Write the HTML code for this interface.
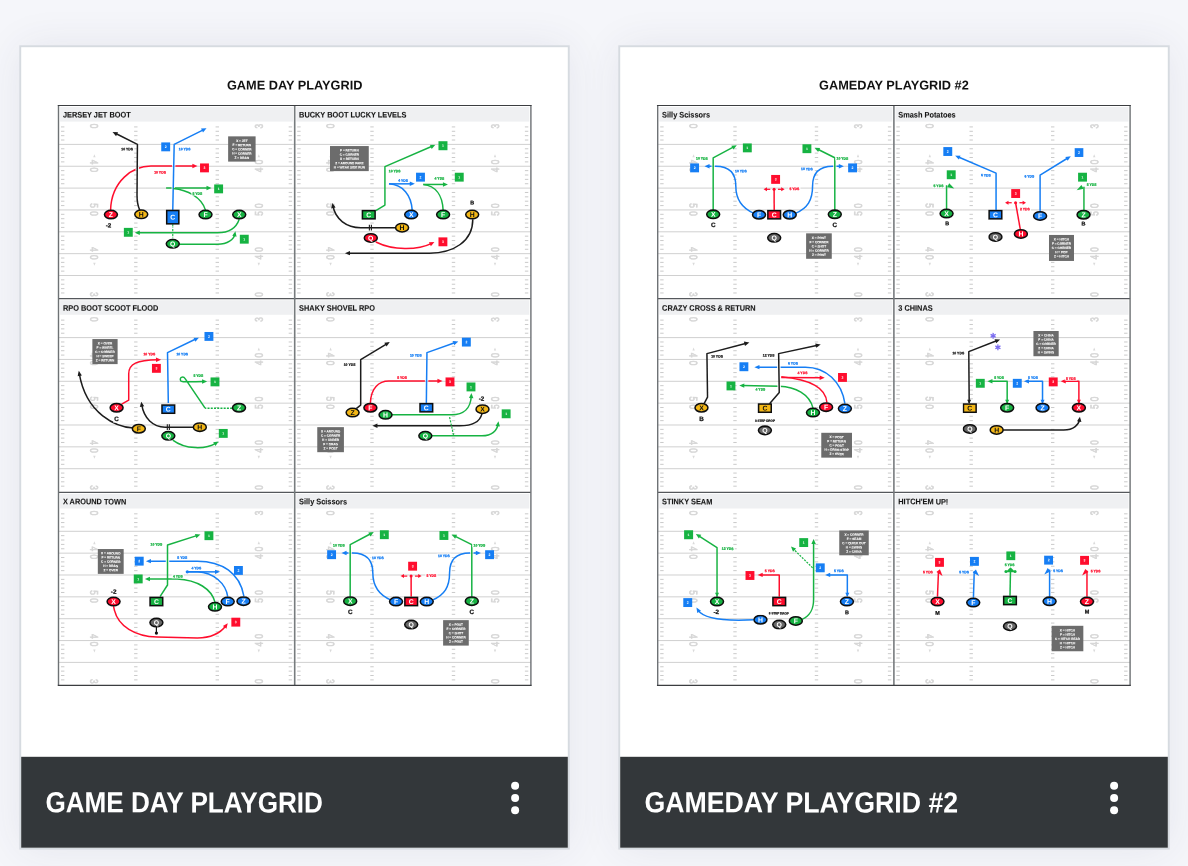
<!DOCTYPE html>
<html lang="en"><head><meta charset="utf-8"><title>Playgrids</title>
<style>
html,body{margin:0;padding:0}
body{width:1188px;height:866px;overflow:hidden;position:relative;background:#f5f6fa;font-family:"Liberation Sans",sans-serif}
.sh{position:absolute;top:47px;width:547px;height:801px;background:#fff;box-shadow:0 0 40px rgba(50,60,100,0.09)}
.s1{left:21px}.s2{left:620px;width:548px}
svg.ov{position:absolute;left:0;top:0}
</style></head><body>
<div class="sh s1"></div><div class="sh s2"></div>
<svg class="ov" width="1188" height="866" viewBox="0 0 1188 866" text-rendering="geometricPrecision">
<filter id="soft" x="0" y="0" width="1188" height="866" filterUnits="userSpaceOnUse"><feGaussianBlur stdDeviation="0.38"/></filter>
<rect x="19.3" y="45.3" width="550.4" height="804.3" fill="#d6dbe0"/><rect x="21.2" y="47.2" width="546.6" height="800.5" fill="#fff"/><rect x="21.2" y="756.8" width="546.6" height="90.9" fill="#33373a"/><text transform="translate(45.4,812.3) rotate(0.04) scale(0.9,1)" font-size="29" font-weight="bold" fill="#fff" font-family="Liberation Sans, sans-serif">GAME DAY PLAYGRID</text><circle cx="515.1" cy="785.8" r="4" fill="#fff"/><circle cx="515.1" cy="798.1" r="4" fill="#fff"/><circle cx="515.1" cy="810.3" r="4" fill="#fff"/><rect x="618.3" y="45.3" width="551.4" height="804.3" fill="#d6dbe0"/><rect x="620.2" y="47.2" width="547.6" height="800.5" fill="#fff"/><rect x="620.2" y="756.8" width="547.6" height="90.9" fill="#33373a"/><text transform="translate(644.4,812.3) rotate(0.04) scale(0.921,1)" font-size="29" font-weight="bold" fill="#fff" font-family="Liberation Sans, sans-serif">GAMEDAY PLAYGRID #2</text><circle cx="1114.1" cy="785.8" r="4" fill="#fff"/><circle cx="1114.1" cy="798.1" r="4" fill="#fff"/><circle cx="1114.1" cy="810.3" r="4" fill="#fff"/>
<text transform="translate(294.7,89.5) rotate(0.04)" font-size="12.75" font-weight="bold" fill="#111" text-anchor="middle" font-family="Liberation Sans, sans-serif">GAME DAY PLAYGRID</text><rect x="58.5" y="105.5" width="472.4" height="579.81" fill="#fff"/><rect x="60.1" y="107" width="233" height="14.6" fill="#eff0f2"/><text transform="translate(62.9,117.45) rotate(0.04) scale(0.915,1)" font-size="8.05" font-weight="bold" fill="#161616" stroke="#161616" stroke-width="0.1" font-family="Liberation Sans, sans-serif">JERSEY JET BOOT</text><path d="M58.5,144.4H294.7M58.5,166.25H294.7M58.5,188.1H294.7M58.5,209.95H294.7M58.5,231.8H294.7M58.5,253.65H294.7M58.5,275.5H294.7" stroke="#bcbcbc" stroke-width="0.7" fill="none"/><path d="M61,126.92h3.4M134.1,126.92h3.4M215.6,126.92h3.4M288.7,126.92h3.4M61,131.29h3.4M134.1,131.29h3.4M215.6,131.29h3.4M288.7,131.29h3.4M61,135.66h3.4M134.1,135.66h3.4M215.6,135.66h3.4M288.7,135.66h3.4M61,140.03h3.4M134.1,140.03h3.4M215.6,140.03h3.4M288.7,140.03h3.4M61,148.77h3.4M134.1,148.77h3.4M215.6,148.77h3.4M288.7,148.77h3.4M61,153.14h3.4M134.1,153.14h3.4M215.6,153.14h3.4M288.7,153.14h3.4M61,157.51h3.4M134.1,157.51h3.4M215.6,157.51h3.4M288.7,157.51h3.4M61,161.88h3.4M134.1,161.88h3.4M215.6,161.88h3.4M288.7,161.88h3.4M61,170.62h3.4M134.1,170.62h3.4M215.6,170.62h3.4M288.7,170.62h3.4M61,174.99h3.4M134.1,174.99h3.4M215.6,174.99h3.4M288.7,174.99h3.4M61,179.36h3.4M134.1,179.36h3.4M215.6,179.36h3.4M288.7,179.36h3.4M61,183.73h3.4M134.1,183.73h3.4M215.6,183.73h3.4M288.7,183.73h3.4M61,192.47h3.4M134.1,192.47h3.4M215.6,192.47h3.4M288.7,192.47h3.4M61,196.84h3.4M134.1,196.84h3.4M215.6,196.84h3.4M288.7,196.84h3.4M61,201.21h3.4M134.1,201.21h3.4M215.6,201.21h3.4M288.7,201.21h3.4M61,205.58h3.4M134.1,205.58h3.4M215.6,205.58h3.4M288.7,205.58h3.4M61,214.32h3.4M134.1,214.32h3.4M215.6,214.32h3.4M288.7,214.32h3.4M61,218.69h3.4M134.1,218.69h3.4M215.6,218.69h3.4M288.7,218.69h3.4M61,223.06h3.4M134.1,223.06h3.4M215.6,223.06h3.4M288.7,223.06h3.4M61,227.43h3.4M134.1,227.43h3.4M215.6,227.43h3.4M288.7,227.43h3.4M61,236.17h3.4M134.1,236.17h3.4M215.6,236.17h3.4M288.7,236.17h3.4M61,240.54h3.4M134.1,240.54h3.4M215.6,240.54h3.4M288.7,240.54h3.4M61,244.91h3.4M134.1,244.91h3.4M215.6,244.91h3.4M288.7,244.91h3.4M61,249.28h3.4M134.1,249.28h3.4M215.6,249.28h3.4M288.7,249.28h3.4M61,258.02h3.4M134.1,258.02h3.4M215.6,258.02h3.4M288.7,258.02h3.4M61,262.39h3.4M134.1,262.39h3.4M215.6,262.39h3.4M288.7,262.39h3.4M61,266.76h3.4M134.1,266.76h3.4M215.6,266.76h3.4M288.7,266.76h3.4M61,271.13h3.4M134.1,271.13h3.4M215.6,271.13h3.4M288.7,271.13h3.4M61,279.87h3.4M134.1,279.87h3.4M215.6,279.87h3.4M288.7,279.87h3.4M61,284.24h3.4M134.1,284.24h3.4M215.6,284.24h3.4M288.7,284.24h3.4M61,288.61h3.4M134.1,288.61h3.4M215.6,288.61h3.4M288.7,288.61h3.4M61,292.98h3.4M134.1,292.98h3.4M215.6,292.98h3.4M288.7,292.98h3.4" stroke="#bdbdbd" stroke-width="0.8" fill="none"/><text transform="translate(94.4,126.15) rotate(90.04) scale(0.74,1)" font-size="11.2" fill="#d7d7d7" stroke="#d7d7d7" stroke-width="0.75" text-anchor="middle" y="4.05" font-family="Liberation Sans, sans-serif">0</text><text transform="translate(258.8,126.15) rotate(-89.96) scale(0.74,1)" font-size="11.2" fill="#d7d7d7" stroke="#d7d7d7" stroke-width="0.75" text-anchor="middle" y="4.05" font-family="Liberation Sans, sans-serif">3</text><text transform="translate(94.4,161.95) rotate(90.04) scale(0.74,1)" font-size="11.2" fill="#d7d7d7" stroke="#d7d7d7" stroke-width="0.75" text-anchor="middle" y="4.05" font-family="Liberation Sans, sans-serif">4</text><text transform="translate(94.4,169.85) rotate(90.04) scale(0.74,1)" font-size="11.2" fill="#d7d7d7" stroke="#d7d7d7" stroke-width="0.75" text-anchor="middle" y="4.05" font-family="Liberation Sans, sans-serif">0</text><text transform="translate(258.8,161.95) rotate(-89.96) scale(0.74,1)" font-size="11.2" fill="#d7d7d7" stroke="#d7d7d7" stroke-width="0.75" text-anchor="middle" y="4.05" font-family="Liberation Sans, sans-serif">0</text><text transform="translate(258.8,169.85) rotate(-89.96) scale(0.74,1)" font-size="11.2" fill="#d7d7d7" stroke="#d7d7d7" stroke-width="0.75" text-anchor="middle" y="4.05" font-family="Liberation Sans, sans-serif">4</text><path d="M94.4,154.25 l1.2,3 h-2.4z" fill="#dadada"/><path d="M258.8,154.25 l1.2,3 h-2.4z" fill="#dadada"/><text transform="translate(94.4,205.65) rotate(90.04) scale(0.74,1)" font-size="11.2" fill="#d7d7d7" stroke="#d7d7d7" stroke-width="0.75" text-anchor="middle" y="4.05" font-family="Liberation Sans, sans-serif">5</text><text transform="translate(94.4,213.55) rotate(90.04) scale(0.74,1)" font-size="11.2" fill="#d7d7d7" stroke="#d7d7d7" stroke-width="0.75" text-anchor="middle" y="4.05" font-family="Liberation Sans, sans-serif">0</text><text transform="translate(258.8,205.65) rotate(-89.96) scale(0.74,1)" font-size="11.2" fill="#d7d7d7" stroke="#d7d7d7" stroke-width="0.75" text-anchor="middle" y="4.05" font-family="Liberation Sans, sans-serif">0</text><text transform="translate(258.8,213.55) rotate(-89.96) scale(0.74,1)" font-size="11.2" fill="#d7d7d7" stroke="#d7d7d7" stroke-width="0.75" text-anchor="middle" y="4.05" font-family="Liberation Sans, sans-serif">5</text><text transform="translate(94.4,249.35) rotate(90.04) scale(0.74,1)" font-size="11.2" fill="#d7d7d7" stroke="#d7d7d7" stroke-width="0.75" text-anchor="middle" y="4.05" font-family="Liberation Sans, sans-serif">4</text><text transform="translate(94.4,257.25) rotate(90.04) scale(0.74,1)" font-size="11.2" fill="#d7d7d7" stroke="#d7d7d7" stroke-width="0.75" text-anchor="middle" y="4.05" font-family="Liberation Sans, sans-serif">0</text><text transform="translate(258.8,249.35) rotate(-89.96) scale(0.74,1)" font-size="11.2" fill="#d7d7d7" stroke="#d7d7d7" stroke-width="0.75" text-anchor="middle" y="4.05" font-family="Liberation Sans, sans-serif">0</text><text transform="translate(258.8,257.25) rotate(-89.96) scale(0.74,1)" font-size="11.2" fill="#d7d7d7" stroke="#d7d7d7" stroke-width="0.75" text-anchor="middle" y="4.05" font-family="Liberation Sans, sans-serif">4</text><path d="M94.4,265.65 l1.2,-3 h-2.4z" fill="#dadada"/><path d="M258.8,265.65 l1.2,-3 h-2.4z" fill="#dadada"/><text transform="translate(94.4,294.35) rotate(90.04) scale(0.74,1)" font-size="11.2" fill="#d7d7d7" stroke="#d7d7d7" stroke-width="0.75" text-anchor="middle" y="4.05" font-family="Liberation Sans, sans-serif">3</text><text transform="translate(258.8,294.35) rotate(-89.96) scale(0.74,1)" font-size="11.2" fill="#d7d7d7" stroke="#d7d7d7" stroke-width="0.75" text-anchor="middle" y="4.05" font-family="Liberation Sans, sans-serif">0</text><rect x="296.3" y="107" width="233" height="14.6" fill="#eff0f2"/><text transform="translate(299.1,117.45) rotate(0.04) scale(0.915,1)" font-size="8.05" font-weight="bold" fill="#161616" stroke="#161616" stroke-width="0.1" font-family="Liberation Sans, sans-serif">BUCKY BOOT LUCKY LEVELS</text><path d="M294.7,144.4H530.9M294.7,166.25H530.9M294.7,188.1H530.9M294.7,209.95H530.9M294.7,231.8H530.9M294.7,253.65H530.9M294.7,275.5H530.9" stroke="#bcbcbc" stroke-width="0.7" fill="none"/><path d="M297.2,126.92h3.4M370.3,126.92h3.4M451.8,126.92h3.4M524.9,126.92h3.4M297.2,131.29h3.4M370.3,131.29h3.4M451.8,131.29h3.4M524.9,131.29h3.4M297.2,135.66h3.4M370.3,135.66h3.4M451.8,135.66h3.4M524.9,135.66h3.4M297.2,140.03h3.4M370.3,140.03h3.4M451.8,140.03h3.4M524.9,140.03h3.4M297.2,148.77h3.4M370.3,148.77h3.4M451.8,148.77h3.4M524.9,148.77h3.4M297.2,153.14h3.4M370.3,153.14h3.4M451.8,153.14h3.4M524.9,153.14h3.4M297.2,157.51h3.4M370.3,157.51h3.4M451.8,157.51h3.4M524.9,157.51h3.4M297.2,161.88h3.4M370.3,161.88h3.4M451.8,161.88h3.4M524.9,161.88h3.4M297.2,170.62h3.4M370.3,170.62h3.4M451.8,170.62h3.4M524.9,170.62h3.4M297.2,174.99h3.4M370.3,174.99h3.4M451.8,174.99h3.4M524.9,174.99h3.4M297.2,179.36h3.4M370.3,179.36h3.4M451.8,179.36h3.4M524.9,179.36h3.4M297.2,183.73h3.4M370.3,183.73h3.4M451.8,183.73h3.4M524.9,183.73h3.4M297.2,192.47h3.4M370.3,192.47h3.4M451.8,192.47h3.4M524.9,192.47h3.4M297.2,196.84h3.4M370.3,196.84h3.4M451.8,196.84h3.4M524.9,196.84h3.4M297.2,201.21h3.4M370.3,201.21h3.4M451.8,201.21h3.4M524.9,201.21h3.4M297.2,205.58h3.4M370.3,205.58h3.4M451.8,205.58h3.4M524.9,205.58h3.4M297.2,214.32h3.4M370.3,214.32h3.4M451.8,214.32h3.4M524.9,214.32h3.4M297.2,218.69h3.4M370.3,218.69h3.4M451.8,218.69h3.4M524.9,218.69h3.4M297.2,223.06h3.4M370.3,223.06h3.4M451.8,223.06h3.4M524.9,223.06h3.4M297.2,227.43h3.4M370.3,227.43h3.4M451.8,227.43h3.4M524.9,227.43h3.4M297.2,236.17h3.4M370.3,236.17h3.4M451.8,236.17h3.4M524.9,236.17h3.4M297.2,240.54h3.4M370.3,240.54h3.4M451.8,240.54h3.4M524.9,240.54h3.4M297.2,244.91h3.4M370.3,244.91h3.4M451.8,244.91h3.4M524.9,244.91h3.4M297.2,249.28h3.4M370.3,249.28h3.4M451.8,249.28h3.4M524.9,249.28h3.4M297.2,258.02h3.4M370.3,258.02h3.4M451.8,258.02h3.4M524.9,258.02h3.4M297.2,262.39h3.4M370.3,262.39h3.4M451.8,262.39h3.4M524.9,262.39h3.4M297.2,266.76h3.4M370.3,266.76h3.4M451.8,266.76h3.4M524.9,266.76h3.4M297.2,271.13h3.4M370.3,271.13h3.4M451.8,271.13h3.4M524.9,271.13h3.4M297.2,279.87h3.4M370.3,279.87h3.4M451.8,279.87h3.4M524.9,279.87h3.4M297.2,284.24h3.4M370.3,284.24h3.4M451.8,284.24h3.4M524.9,284.24h3.4M297.2,288.61h3.4M370.3,288.61h3.4M451.8,288.61h3.4M524.9,288.61h3.4M297.2,292.98h3.4M370.3,292.98h3.4M451.8,292.98h3.4M524.9,292.98h3.4" stroke="#bdbdbd" stroke-width="0.8" fill="none"/><text transform="translate(330.6,126.15) rotate(90.04) scale(0.74,1)" font-size="11.2" fill="#d7d7d7" stroke="#d7d7d7" stroke-width="0.75" text-anchor="middle" y="4.05" font-family="Liberation Sans, sans-serif">0</text><text transform="translate(495,126.15) rotate(-89.96) scale(0.74,1)" font-size="11.2" fill="#d7d7d7" stroke="#d7d7d7" stroke-width="0.75" text-anchor="middle" y="4.05" font-family="Liberation Sans, sans-serif">3</text><text transform="translate(330.6,161.95) rotate(90.04) scale(0.74,1)" font-size="11.2" fill="#d7d7d7" stroke="#d7d7d7" stroke-width="0.75" text-anchor="middle" y="4.05" font-family="Liberation Sans, sans-serif">4</text><text transform="translate(330.6,169.85) rotate(90.04) scale(0.74,1)" font-size="11.2" fill="#d7d7d7" stroke="#d7d7d7" stroke-width="0.75" text-anchor="middle" y="4.05" font-family="Liberation Sans, sans-serif">0</text><text transform="translate(495,161.95) rotate(-89.96) scale(0.74,1)" font-size="11.2" fill="#d7d7d7" stroke="#d7d7d7" stroke-width="0.75" text-anchor="middle" y="4.05" font-family="Liberation Sans, sans-serif">0</text><text transform="translate(495,169.85) rotate(-89.96) scale(0.74,1)" font-size="11.2" fill="#d7d7d7" stroke="#d7d7d7" stroke-width="0.75" text-anchor="middle" y="4.05" font-family="Liberation Sans, sans-serif">4</text><path d="M330.6,154.25 l1.2,3 h-2.4z" fill="#dadada"/><path d="M495,154.25 l1.2,3 h-2.4z" fill="#dadada"/><text transform="translate(330.6,205.65) rotate(90.04) scale(0.74,1)" font-size="11.2" fill="#d7d7d7" stroke="#d7d7d7" stroke-width="0.75" text-anchor="middle" y="4.05" font-family="Liberation Sans, sans-serif">5</text><text transform="translate(330.6,213.55) rotate(90.04) scale(0.74,1)" font-size="11.2" fill="#d7d7d7" stroke="#d7d7d7" stroke-width="0.75" text-anchor="middle" y="4.05" font-family="Liberation Sans, sans-serif">0</text><text transform="translate(495,205.65) rotate(-89.96) scale(0.74,1)" font-size="11.2" fill="#d7d7d7" stroke="#d7d7d7" stroke-width="0.75" text-anchor="middle" y="4.05" font-family="Liberation Sans, sans-serif">0</text><text transform="translate(495,213.55) rotate(-89.96) scale(0.74,1)" font-size="11.2" fill="#d7d7d7" stroke="#d7d7d7" stroke-width="0.75" text-anchor="middle" y="4.05" font-family="Liberation Sans, sans-serif">5</text><text transform="translate(330.6,249.35) rotate(90.04) scale(0.74,1)" font-size="11.2" fill="#d7d7d7" stroke="#d7d7d7" stroke-width="0.75" text-anchor="middle" y="4.05" font-family="Liberation Sans, sans-serif">4</text><text transform="translate(330.6,257.25) rotate(90.04) scale(0.74,1)" font-size="11.2" fill="#d7d7d7" stroke="#d7d7d7" stroke-width="0.75" text-anchor="middle" y="4.05" font-family="Liberation Sans, sans-serif">0</text><text transform="translate(495,249.35) rotate(-89.96) scale(0.74,1)" font-size="11.2" fill="#d7d7d7" stroke="#d7d7d7" stroke-width="0.75" text-anchor="middle" y="4.05" font-family="Liberation Sans, sans-serif">0</text><text transform="translate(495,257.25) rotate(-89.96) scale(0.74,1)" font-size="11.2" fill="#d7d7d7" stroke="#d7d7d7" stroke-width="0.75" text-anchor="middle" y="4.05" font-family="Liberation Sans, sans-serif">4</text><path d="M330.6,265.65 l1.2,-3 h-2.4z" fill="#dadada"/><path d="M495,265.65 l1.2,-3 h-2.4z" fill="#dadada"/><text transform="translate(330.6,294.35) rotate(90.04) scale(0.74,1)" font-size="11.2" fill="#d7d7d7" stroke="#d7d7d7" stroke-width="0.75" text-anchor="middle" y="4.05" font-family="Liberation Sans, sans-serif">3</text><text transform="translate(495,294.35) rotate(-89.96) scale(0.74,1)" font-size="11.2" fill="#d7d7d7" stroke="#d7d7d7" stroke-width="0.75" text-anchor="middle" y="4.05" font-family="Liberation Sans, sans-serif">0</text><rect x="60.1" y="300.2" width="233" height="14.6" fill="#eff0f2"/><text transform="translate(62.9,310.65) rotate(0.04) scale(0.915,1)" font-size="8.05" font-weight="bold" fill="#161616" stroke="#161616" stroke-width="0.1" font-family="Liberation Sans, sans-serif">RPO BOOT SCOOT FLOOD</text><path d="M58.5,337.6H294.7M58.5,359.45H294.7M58.5,381.3H294.7M58.5,403.15H294.7M58.5,425H294.7M58.5,446.85H294.7M58.5,468.7H294.7" stroke="#bcbcbc" stroke-width="0.7" fill="none"/><path d="M61,320.12h3.4M134.1,320.12h3.4M215.6,320.12h3.4M288.7,320.12h3.4M61,324.49h3.4M134.1,324.49h3.4M215.6,324.49h3.4M288.7,324.49h3.4M61,328.86h3.4M134.1,328.86h3.4M215.6,328.86h3.4M288.7,328.86h3.4M61,333.23h3.4M134.1,333.23h3.4M215.6,333.23h3.4M288.7,333.23h3.4M61,341.97h3.4M134.1,341.97h3.4M215.6,341.97h3.4M288.7,341.97h3.4M61,346.34h3.4M134.1,346.34h3.4M215.6,346.34h3.4M288.7,346.34h3.4M61,350.71h3.4M134.1,350.71h3.4M215.6,350.71h3.4M288.7,350.71h3.4M61,355.08h3.4M134.1,355.08h3.4M215.6,355.08h3.4M288.7,355.08h3.4M61,363.82h3.4M134.1,363.82h3.4M215.6,363.82h3.4M288.7,363.82h3.4M61,368.19h3.4M134.1,368.19h3.4M215.6,368.19h3.4M288.7,368.19h3.4M61,372.56h3.4M134.1,372.56h3.4M215.6,372.56h3.4M288.7,372.56h3.4M61,376.93h3.4M134.1,376.93h3.4M215.6,376.93h3.4M288.7,376.93h3.4M61,385.67h3.4M134.1,385.67h3.4M215.6,385.67h3.4M288.7,385.67h3.4M61,390.04h3.4M134.1,390.04h3.4M215.6,390.04h3.4M288.7,390.04h3.4M61,394.41h3.4M134.1,394.41h3.4M215.6,394.41h3.4M288.7,394.41h3.4M61,398.78h3.4M134.1,398.78h3.4M215.6,398.78h3.4M288.7,398.78h3.4M61,407.52h3.4M134.1,407.52h3.4M215.6,407.52h3.4M288.7,407.52h3.4M61,411.89h3.4M134.1,411.89h3.4M215.6,411.89h3.4M288.7,411.89h3.4M61,416.26h3.4M134.1,416.26h3.4M215.6,416.26h3.4M288.7,416.26h3.4M61,420.63h3.4M134.1,420.63h3.4M215.6,420.63h3.4M288.7,420.63h3.4M61,429.37h3.4M134.1,429.37h3.4M215.6,429.37h3.4M288.7,429.37h3.4M61,433.74h3.4M134.1,433.74h3.4M215.6,433.74h3.4M288.7,433.74h3.4M61,438.11h3.4M134.1,438.11h3.4M215.6,438.11h3.4M288.7,438.11h3.4M61,442.48h3.4M134.1,442.48h3.4M215.6,442.48h3.4M288.7,442.48h3.4M61,451.22h3.4M134.1,451.22h3.4M215.6,451.22h3.4M288.7,451.22h3.4M61,455.59h3.4M134.1,455.59h3.4M215.6,455.59h3.4M288.7,455.59h3.4M61,459.96h3.4M134.1,459.96h3.4M215.6,459.96h3.4M288.7,459.96h3.4M61,464.33h3.4M134.1,464.33h3.4M215.6,464.33h3.4M288.7,464.33h3.4M61,473.07h3.4M134.1,473.07h3.4M215.6,473.07h3.4M288.7,473.07h3.4M61,477.44h3.4M134.1,477.44h3.4M215.6,477.44h3.4M288.7,477.44h3.4M61,481.81h3.4M134.1,481.81h3.4M215.6,481.81h3.4M288.7,481.81h3.4M61,486.18h3.4M134.1,486.18h3.4M215.6,486.18h3.4M288.7,486.18h3.4" stroke="#bdbdbd" stroke-width="0.8" fill="none"/><text transform="translate(94.4,319.35) rotate(90.04) scale(0.74,1)" font-size="11.2" fill="#d7d7d7" stroke="#d7d7d7" stroke-width="0.75" text-anchor="middle" y="4.05" font-family="Liberation Sans, sans-serif">0</text><text transform="translate(258.8,319.35) rotate(-89.96) scale(0.74,1)" font-size="11.2" fill="#d7d7d7" stroke="#d7d7d7" stroke-width="0.75" text-anchor="middle" y="4.05" font-family="Liberation Sans, sans-serif">3</text><text transform="translate(94.4,355.15) rotate(90.04) scale(0.74,1)" font-size="11.2" fill="#d7d7d7" stroke="#d7d7d7" stroke-width="0.75" text-anchor="middle" y="4.05" font-family="Liberation Sans, sans-serif">4</text><text transform="translate(94.4,363.05) rotate(90.04) scale(0.74,1)" font-size="11.2" fill="#d7d7d7" stroke="#d7d7d7" stroke-width="0.75" text-anchor="middle" y="4.05" font-family="Liberation Sans, sans-serif">0</text><text transform="translate(258.8,355.15) rotate(-89.96) scale(0.74,1)" font-size="11.2" fill="#d7d7d7" stroke="#d7d7d7" stroke-width="0.75" text-anchor="middle" y="4.05" font-family="Liberation Sans, sans-serif">0</text><text transform="translate(258.8,363.05) rotate(-89.96) scale(0.74,1)" font-size="11.2" fill="#d7d7d7" stroke="#d7d7d7" stroke-width="0.75" text-anchor="middle" y="4.05" font-family="Liberation Sans, sans-serif">4</text><path d="M94.4,347.45 l1.2,3 h-2.4z" fill="#dadada"/><path d="M258.8,347.45 l1.2,3 h-2.4z" fill="#dadada"/><text transform="translate(94.4,398.85) rotate(90.04) scale(0.74,1)" font-size="11.2" fill="#d7d7d7" stroke="#d7d7d7" stroke-width="0.75" text-anchor="middle" y="4.05" font-family="Liberation Sans, sans-serif">5</text><text transform="translate(94.4,406.75) rotate(90.04) scale(0.74,1)" font-size="11.2" fill="#d7d7d7" stroke="#d7d7d7" stroke-width="0.75" text-anchor="middle" y="4.05" font-family="Liberation Sans, sans-serif">0</text><text transform="translate(258.8,398.85) rotate(-89.96) scale(0.74,1)" font-size="11.2" fill="#d7d7d7" stroke="#d7d7d7" stroke-width="0.75" text-anchor="middle" y="4.05" font-family="Liberation Sans, sans-serif">0</text><text transform="translate(258.8,406.75) rotate(-89.96) scale(0.74,1)" font-size="11.2" fill="#d7d7d7" stroke="#d7d7d7" stroke-width="0.75" text-anchor="middle" y="4.05" font-family="Liberation Sans, sans-serif">5</text><text transform="translate(94.4,442.55) rotate(90.04) scale(0.74,1)" font-size="11.2" fill="#d7d7d7" stroke="#d7d7d7" stroke-width="0.75" text-anchor="middle" y="4.05" font-family="Liberation Sans, sans-serif">4</text><text transform="translate(94.4,450.45) rotate(90.04) scale(0.74,1)" font-size="11.2" fill="#d7d7d7" stroke="#d7d7d7" stroke-width="0.75" text-anchor="middle" y="4.05" font-family="Liberation Sans, sans-serif">0</text><text transform="translate(258.8,442.55) rotate(-89.96) scale(0.74,1)" font-size="11.2" fill="#d7d7d7" stroke="#d7d7d7" stroke-width="0.75" text-anchor="middle" y="4.05" font-family="Liberation Sans, sans-serif">0</text><text transform="translate(258.8,450.45) rotate(-89.96) scale(0.74,1)" font-size="11.2" fill="#d7d7d7" stroke="#d7d7d7" stroke-width="0.75" text-anchor="middle" y="4.05" font-family="Liberation Sans, sans-serif">4</text><path d="M94.4,458.85 l1.2,-3 h-2.4z" fill="#dadada"/><path d="M258.8,458.85 l1.2,-3 h-2.4z" fill="#dadada"/><text transform="translate(94.4,487.55) rotate(90.04) scale(0.74,1)" font-size="11.2" fill="#d7d7d7" stroke="#d7d7d7" stroke-width="0.75" text-anchor="middle" y="4.05" font-family="Liberation Sans, sans-serif">3</text><text transform="translate(258.8,487.55) rotate(-89.96) scale(0.74,1)" font-size="11.2" fill="#d7d7d7" stroke="#d7d7d7" stroke-width="0.75" text-anchor="middle" y="4.05" font-family="Liberation Sans, sans-serif">0</text><rect x="296.3" y="300.2" width="233" height="14.6" fill="#eff0f2"/><text transform="translate(299.1,310.65) rotate(0.04) scale(0.915,1)" font-size="8.05" font-weight="bold" fill="#161616" stroke="#161616" stroke-width="0.1" font-family="Liberation Sans, sans-serif">SHAKY SHOVEL RPO</text><path d="M294.7,337.6H530.9M294.7,359.45H530.9M294.7,381.3H530.9M294.7,403.15H530.9M294.7,425H530.9M294.7,446.85H530.9M294.7,468.7H530.9" stroke="#bcbcbc" stroke-width="0.7" fill="none"/><path d="M297.2,320.12h3.4M370.3,320.12h3.4M451.8,320.12h3.4M524.9,320.12h3.4M297.2,324.49h3.4M370.3,324.49h3.4M451.8,324.49h3.4M524.9,324.49h3.4M297.2,328.86h3.4M370.3,328.86h3.4M451.8,328.86h3.4M524.9,328.86h3.4M297.2,333.23h3.4M370.3,333.23h3.4M451.8,333.23h3.4M524.9,333.23h3.4M297.2,341.97h3.4M370.3,341.97h3.4M451.8,341.97h3.4M524.9,341.97h3.4M297.2,346.34h3.4M370.3,346.34h3.4M451.8,346.34h3.4M524.9,346.34h3.4M297.2,350.71h3.4M370.3,350.71h3.4M451.8,350.71h3.4M524.9,350.71h3.4M297.2,355.08h3.4M370.3,355.08h3.4M451.8,355.08h3.4M524.9,355.08h3.4M297.2,363.82h3.4M370.3,363.82h3.4M451.8,363.82h3.4M524.9,363.82h3.4M297.2,368.19h3.4M370.3,368.19h3.4M451.8,368.19h3.4M524.9,368.19h3.4M297.2,372.56h3.4M370.3,372.56h3.4M451.8,372.56h3.4M524.9,372.56h3.4M297.2,376.93h3.4M370.3,376.93h3.4M451.8,376.93h3.4M524.9,376.93h3.4M297.2,385.67h3.4M370.3,385.67h3.4M451.8,385.67h3.4M524.9,385.67h3.4M297.2,390.04h3.4M370.3,390.04h3.4M451.8,390.04h3.4M524.9,390.04h3.4M297.2,394.41h3.4M370.3,394.41h3.4M451.8,394.41h3.4M524.9,394.41h3.4M297.2,398.78h3.4M370.3,398.78h3.4M451.8,398.78h3.4M524.9,398.78h3.4M297.2,407.52h3.4M370.3,407.52h3.4M451.8,407.52h3.4M524.9,407.52h3.4M297.2,411.89h3.4M370.3,411.89h3.4M451.8,411.89h3.4M524.9,411.89h3.4M297.2,416.26h3.4M370.3,416.26h3.4M451.8,416.26h3.4M524.9,416.26h3.4M297.2,420.63h3.4M370.3,420.63h3.4M451.8,420.63h3.4M524.9,420.63h3.4M297.2,429.37h3.4M370.3,429.37h3.4M451.8,429.37h3.4M524.9,429.37h3.4M297.2,433.74h3.4M370.3,433.74h3.4M451.8,433.74h3.4M524.9,433.74h3.4M297.2,438.11h3.4M370.3,438.11h3.4M451.8,438.11h3.4M524.9,438.11h3.4M297.2,442.48h3.4M370.3,442.48h3.4M451.8,442.48h3.4M524.9,442.48h3.4M297.2,451.22h3.4M370.3,451.22h3.4M451.8,451.22h3.4M524.9,451.22h3.4M297.2,455.59h3.4M370.3,455.59h3.4M451.8,455.59h3.4M524.9,455.59h3.4M297.2,459.96h3.4M370.3,459.96h3.4M451.8,459.96h3.4M524.9,459.96h3.4M297.2,464.33h3.4M370.3,464.33h3.4M451.8,464.33h3.4M524.9,464.33h3.4M297.2,473.07h3.4M370.3,473.07h3.4M451.8,473.07h3.4M524.9,473.07h3.4M297.2,477.44h3.4M370.3,477.44h3.4M451.8,477.44h3.4M524.9,477.44h3.4M297.2,481.81h3.4M370.3,481.81h3.4M451.8,481.81h3.4M524.9,481.81h3.4M297.2,486.18h3.4M370.3,486.18h3.4M451.8,486.18h3.4M524.9,486.18h3.4" stroke="#bdbdbd" stroke-width="0.8" fill="none"/><text transform="translate(330.6,319.35) rotate(90.04) scale(0.74,1)" font-size="11.2" fill="#d7d7d7" stroke="#d7d7d7" stroke-width="0.75" text-anchor="middle" y="4.05" font-family="Liberation Sans, sans-serif">0</text><text transform="translate(495,319.35) rotate(-89.96) scale(0.74,1)" font-size="11.2" fill="#d7d7d7" stroke="#d7d7d7" stroke-width="0.75" text-anchor="middle" y="4.05" font-family="Liberation Sans, sans-serif">3</text><text transform="translate(330.6,355.15) rotate(90.04) scale(0.74,1)" font-size="11.2" fill="#d7d7d7" stroke="#d7d7d7" stroke-width="0.75" text-anchor="middle" y="4.05" font-family="Liberation Sans, sans-serif">4</text><text transform="translate(330.6,363.05) rotate(90.04) scale(0.74,1)" font-size="11.2" fill="#d7d7d7" stroke="#d7d7d7" stroke-width="0.75" text-anchor="middle" y="4.05" font-family="Liberation Sans, sans-serif">0</text><text transform="translate(495,355.15) rotate(-89.96) scale(0.74,1)" font-size="11.2" fill="#d7d7d7" stroke="#d7d7d7" stroke-width="0.75" text-anchor="middle" y="4.05" font-family="Liberation Sans, sans-serif">0</text><text transform="translate(495,363.05) rotate(-89.96) scale(0.74,1)" font-size="11.2" fill="#d7d7d7" stroke="#d7d7d7" stroke-width="0.75" text-anchor="middle" y="4.05" font-family="Liberation Sans, sans-serif">4</text><path d="M330.6,347.45 l1.2,3 h-2.4z" fill="#dadada"/><path d="M495,347.45 l1.2,3 h-2.4z" fill="#dadada"/><text transform="translate(330.6,398.85) rotate(90.04) scale(0.74,1)" font-size="11.2" fill="#d7d7d7" stroke="#d7d7d7" stroke-width="0.75" text-anchor="middle" y="4.05" font-family="Liberation Sans, sans-serif">5</text><text transform="translate(330.6,406.75) rotate(90.04) scale(0.74,1)" font-size="11.2" fill="#d7d7d7" stroke="#d7d7d7" stroke-width="0.75" text-anchor="middle" y="4.05" font-family="Liberation Sans, sans-serif">0</text><text transform="translate(495,398.85) rotate(-89.96) scale(0.74,1)" font-size="11.2" fill="#d7d7d7" stroke="#d7d7d7" stroke-width="0.75" text-anchor="middle" y="4.05" font-family="Liberation Sans, sans-serif">0</text><text transform="translate(495,406.75) rotate(-89.96) scale(0.74,1)" font-size="11.2" fill="#d7d7d7" stroke="#d7d7d7" stroke-width="0.75" text-anchor="middle" y="4.05" font-family="Liberation Sans, sans-serif">5</text><text transform="translate(330.6,442.55) rotate(90.04) scale(0.74,1)" font-size="11.2" fill="#d7d7d7" stroke="#d7d7d7" stroke-width="0.75" text-anchor="middle" y="4.05" font-family="Liberation Sans, sans-serif">4</text><text transform="translate(330.6,450.45) rotate(90.04) scale(0.74,1)" font-size="11.2" fill="#d7d7d7" stroke="#d7d7d7" stroke-width="0.75" text-anchor="middle" y="4.05" font-family="Liberation Sans, sans-serif">0</text><text transform="translate(495,442.55) rotate(-89.96) scale(0.74,1)" font-size="11.2" fill="#d7d7d7" stroke="#d7d7d7" stroke-width="0.75" text-anchor="middle" y="4.05" font-family="Liberation Sans, sans-serif">0</text><text transform="translate(495,450.45) rotate(-89.96) scale(0.74,1)" font-size="11.2" fill="#d7d7d7" stroke="#d7d7d7" stroke-width="0.75" text-anchor="middle" y="4.05" font-family="Liberation Sans, sans-serif">4</text><path d="M330.6,458.85 l1.2,-3 h-2.4z" fill="#dadada"/><path d="M495,458.85 l1.2,-3 h-2.4z" fill="#dadada"/><text transform="translate(330.6,487.55) rotate(90.04) scale(0.74,1)" font-size="11.2" fill="#d7d7d7" stroke="#d7d7d7" stroke-width="0.75" text-anchor="middle" y="4.05" font-family="Liberation Sans, sans-serif">3</text><text transform="translate(495,487.55) rotate(-89.96) scale(0.74,1)" font-size="11.2" fill="#d7d7d7" stroke="#d7d7d7" stroke-width="0.75" text-anchor="middle" y="4.05" font-family="Liberation Sans, sans-serif">0</text><rect x="60.1" y="493.9" width="233" height="14.6" fill="#eff0f2"/><text transform="translate(62.9,504.35) rotate(0.04) scale(0.915,1)" font-size="8.05" font-weight="bold" fill="#161616" stroke="#161616" stroke-width="0.1" font-family="Liberation Sans, sans-serif">X AROUND TOWN</text><path d="M58.5,531.3H294.7M58.5,553.15H294.7M58.5,575H294.7M58.5,596.85H294.7M58.5,618.7H294.7M58.5,640.55H294.7M58.5,662.4H294.7" stroke="#bcbcbc" stroke-width="0.7" fill="none"/><path d="M61,513.82h3.4M134.1,513.82h3.4M215.6,513.82h3.4M288.7,513.82h3.4M61,518.19h3.4M134.1,518.19h3.4M215.6,518.19h3.4M288.7,518.19h3.4M61,522.56h3.4M134.1,522.56h3.4M215.6,522.56h3.4M288.7,522.56h3.4M61,526.93h3.4M134.1,526.93h3.4M215.6,526.93h3.4M288.7,526.93h3.4M61,535.67h3.4M134.1,535.67h3.4M215.6,535.67h3.4M288.7,535.67h3.4M61,540.04h3.4M134.1,540.04h3.4M215.6,540.04h3.4M288.7,540.04h3.4M61,544.41h3.4M134.1,544.41h3.4M215.6,544.41h3.4M288.7,544.41h3.4M61,548.78h3.4M134.1,548.78h3.4M215.6,548.78h3.4M288.7,548.78h3.4M61,557.52h3.4M134.1,557.52h3.4M215.6,557.52h3.4M288.7,557.52h3.4M61,561.89h3.4M134.1,561.89h3.4M215.6,561.89h3.4M288.7,561.89h3.4M61,566.26h3.4M134.1,566.26h3.4M215.6,566.26h3.4M288.7,566.26h3.4M61,570.63h3.4M134.1,570.63h3.4M215.6,570.63h3.4M288.7,570.63h3.4M61,579.37h3.4M134.1,579.37h3.4M215.6,579.37h3.4M288.7,579.37h3.4M61,583.74h3.4M134.1,583.74h3.4M215.6,583.74h3.4M288.7,583.74h3.4M61,588.11h3.4M134.1,588.11h3.4M215.6,588.11h3.4M288.7,588.11h3.4M61,592.48h3.4M134.1,592.48h3.4M215.6,592.48h3.4M288.7,592.48h3.4M61,601.22h3.4M134.1,601.22h3.4M215.6,601.22h3.4M288.7,601.22h3.4M61,605.59h3.4M134.1,605.59h3.4M215.6,605.59h3.4M288.7,605.59h3.4M61,609.96h3.4M134.1,609.96h3.4M215.6,609.96h3.4M288.7,609.96h3.4M61,614.33h3.4M134.1,614.33h3.4M215.6,614.33h3.4M288.7,614.33h3.4M61,623.07h3.4M134.1,623.07h3.4M215.6,623.07h3.4M288.7,623.07h3.4M61,627.44h3.4M134.1,627.44h3.4M215.6,627.44h3.4M288.7,627.44h3.4M61,631.81h3.4M134.1,631.81h3.4M215.6,631.81h3.4M288.7,631.81h3.4M61,636.18h3.4M134.1,636.18h3.4M215.6,636.18h3.4M288.7,636.18h3.4M61,644.92h3.4M134.1,644.92h3.4M215.6,644.92h3.4M288.7,644.92h3.4M61,649.29h3.4M134.1,649.29h3.4M215.6,649.29h3.4M288.7,649.29h3.4M61,653.66h3.4M134.1,653.66h3.4M215.6,653.66h3.4M288.7,653.66h3.4M61,658.03h3.4M134.1,658.03h3.4M215.6,658.03h3.4M288.7,658.03h3.4M61,666.77h3.4M134.1,666.77h3.4M215.6,666.77h3.4M288.7,666.77h3.4M61,671.14h3.4M134.1,671.14h3.4M215.6,671.14h3.4M288.7,671.14h3.4M61,675.51h3.4M134.1,675.51h3.4M215.6,675.51h3.4M288.7,675.51h3.4M61,679.88h3.4M134.1,679.88h3.4M215.6,679.88h3.4M288.7,679.88h3.4" stroke="#bdbdbd" stroke-width="0.8" fill="none"/><text transform="translate(94.4,513.05) rotate(90.04) scale(0.74,1)" font-size="11.2" fill="#d7d7d7" stroke="#d7d7d7" stroke-width="0.75" text-anchor="middle" y="4.05" font-family="Liberation Sans, sans-serif">0</text><text transform="translate(258.8,513.05) rotate(-89.96) scale(0.74,1)" font-size="11.2" fill="#d7d7d7" stroke="#d7d7d7" stroke-width="0.75" text-anchor="middle" y="4.05" font-family="Liberation Sans, sans-serif">3</text><text transform="translate(94.4,548.85) rotate(90.04) scale(0.74,1)" font-size="11.2" fill="#d7d7d7" stroke="#d7d7d7" stroke-width="0.75" text-anchor="middle" y="4.05" font-family="Liberation Sans, sans-serif">4</text><text transform="translate(94.4,556.75) rotate(90.04) scale(0.74,1)" font-size="11.2" fill="#d7d7d7" stroke="#d7d7d7" stroke-width="0.75" text-anchor="middle" y="4.05" font-family="Liberation Sans, sans-serif">0</text><text transform="translate(258.8,548.85) rotate(-89.96) scale(0.74,1)" font-size="11.2" fill="#d7d7d7" stroke="#d7d7d7" stroke-width="0.75" text-anchor="middle" y="4.05" font-family="Liberation Sans, sans-serif">0</text><text transform="translate(258.8,556.75) rotate(-89.96) scale(0.74,1)" font-size="11.2" fill="#d7d7d7" stroke="#d7d7d7" stroke-width="0.75" text-anchor="middle" y="4.05" font-family="Liberation Sans, sans-serif">4</text><path d="M94.4,541.15 l1.2,3 h-2.4z" fill="#dadada"/><path d="M258.8,541.15 l1.2,3 h-2.4z" fill="#dadada"/><text transform="translate(94.4,592.55) rotate(90.04) scale(0.74,1)" font-size="11.2" fill="#d7d7d7" stroke="#d7d7d7" stroke-width="0.75" text-anchor="middle" y="4.05" font-family="Liberation Sans, sans-serif">5</text><text transform="translate(94.4,600.45) rotate(90.04) scale(0.74,1)" font-size="11.2" fill="#d7d7d7" stroke="#d7d7d7" stroke-width="0.75" text-anchor="middle" y="4.05" font-family="Liberation Sans, sans-serif">0</text><text transform="translate(258.8,592.55) rotate(-89.96) scale(0.74,1)" font-size="11.2" fill="#d7d7d7" stroke="#d7d7d7" stroke-width="0.75" text-anchor="middle" y="4.05" font-family="Liberation Sans, sans-serif">0</text><text transform="translate(258.8,600.45) rotate(-89.96) scale(0.74,1)" font-size="11.2" fill="#d7d7d7" stroke="#d7d7d7" stroke-width="0.75" text-anchor="middle" y="4.05" font-family="Liberation Sans, sans-serif">5</text><text transform="translate(94.4,636.25) rotate(90.04) scale(0.74,1)" font-size="11.2" fill="#d7d7d7" stroke="#d7d7d7" stroke-width="0.75" text-anchor="middle" y="4.05" font-family="Liberation Sans, sans-serif">4</text><text transform="translate(94.4,644.15) rotate(90.04) scale(0.74,1)" font-size="11.2" fill="#d7d7d7" stroke="#d7d7d7" stroke-width="0.75" text-anchor="middle" y="4.05" font-family="Liberation Sans, sans-serif">0</text><text transform="translate(258.8,636.25) rotate(-89.96) scale(0.74,1)" font-size="11.2" fill="#d7d7d7" stroke="#d7d7d7" stroke-width="0.75" text-anchor="middle" y="4.05" font-family="Liberation Sans, sans-serif">0</text><text transform="translate(258.8,644.15) rotate(-89.96) scale(0.74,1)" font-size="11.2" fill="#d7d7d7" stroke="#d7d7d7" stroke-width="0.75" text-anchor="middle" y="4.05" font-family="Liberation Sans, sans-serif">4</text><path d="M94.4,652.55 l1.2,-3 h-2.4z" fill="#dadada"/><path d="M258.8,652.55 l1.2,-3 h-2.4z" fill="#dadada"/><text transform="translate(94.4,681.25) rotate(90.04) scale(0.74,1)" font-size="11.2" fill="#d7d7d7" stroke="#d7d7d7" stroke-width="0.75" text-anchor="middle" y="4.05" font-family="Liberation Sans, sans-serif">3</text><text transform="translate(258.8,681.25) rotate(-89.96) scale(0.74,1)" font-size="11.2" fill="#d7d7d7" stroke="#d7d7d7" stroke-width="0.75" text-anchor="middle" y="4.05" font-family="Liberation Sans, sans-serif">0</text><rect x="296.3" y="493.9" width="233" height="14.6" fill="#eff0f2"/><text transform="translate(299.1,504.35) rotate(0.04) scale(0.915,1)" font-size="8.05" font-weight="bold" fill="#161616" stroke="#161616" stroke-width="0.1" font-family="Liberation Sans, sans-serif">Silly Scissors</text><path d="M294.7,531.3H530.9M294.7,553.15H530.9M294.7,575H530.9M294.7,596.85H530.9M294.7,618.7H530.9M294.7,640.55H530.9M294.7,662.4H530.9" stroke="#bcbcbc" stroke-width="0.7" fill="none"/><path d="M297.2,513.82h3.4M370.3,513.82h3.4M451.8,513.82h3.4M524.9,513.82h3.4M297.2,518.19h3.4M370.3,518.19h3.4M451.8,518.19h3.4M524.9,518.19h3.4M297.2,522.56h3.4M370.3,522.56h3.4M451.8,522.56h3.4M524.9,522.56h3.4M297.2,526.93h3.4M370.3,526.93h3.4M451.8,526.93h3.4M524.9,526.93h3.4M297.2,535.67h3.4M370.3,535.67h3.4M451.8,535.67h3.4M524.9,535.67h3.4M297.2,540.04h3.4M370.3,540.04h3.4M451.8,540.04h3.4M524.9,540.04h3.4M297.2,544.41h3.4M370.3,544.41h3.4M451.8,544.41h3.4M524.9,544.41h3.4M297.2,548.78h3.4M370.3,548.78h3.4M451.8,548.78h3.4M524.9,548.78h3.4M297.2,557.52h3.4M370.3,557.52h3.4M451.8,557.52h3.4M524.9,557.52h3.4M297.2,561.89h3.4M370.3,561.89h3.4M451.8,561.89h3.4M524.9,561.89h3.4M297.2,566.26h3.4M370.3,566.26h3.4M451.8,566.26h3.4M524.9,566.26h3.4M297.2,570.63h3.4M370.3,570.63h3.4M451.8,570.63h3.4M524.9,570.63h3.4M297.2,579.37h3.4M370.3,579.37h3.4M451.8,579.37h3.4M524.9,579.37h3.4M297.2,583.74h3.4M370.3,583.74h3.4M451.8,583.74h3.4M524.9,583.74h3.4M297.2,588.11h3.4M370.3,588.11h3.4M451.8,588.11h3.4M524.9,588.11h3.4M297.2,592.48h3.4M370.3,592.48h3.4M451.8,592.48h3.4M524.9,592.48h3.4M297.2,601.22h3.4M370.3,601.22h3.4M451.8,601.22h3.4M524.9,601.22h3.4M297.2,605.59h3.4M370.3,605.59h3.4M451.8,605.59h3.4M524.9,605.59h3.4M297.2,609.96h3.4M370.3,609.96h3.4M451.8,609.96h3.4M524.9,609.96h3.4M297.2,614.33h3.4M370.3,614.33h3.4M451.8,614.33h3.4M524.9,614.33h3.4M297.2,623.07h3.4M370.3,623.07h3.4M451.8,623.07h3.4M524.9,623.07h3.4M297.2,627.44h3.4M370.3,627.44h3.4M451.8,627.44h3.4M524.9,627.44h3.4M297.2,631.81h3.4M370.3,631.81h3.4M451.8,631.81h3.4M524.9,631.81h3.4M297.2,636.18h3.4M370.3,636.18h3.4M451.8,636.18h3.4M524.9,636.18h3.4M297.2,644.92h3.4M370.3,644.92h3.4M451.8,644.92h3.4M524.9,644.92h3.4M297.2,649.29h3.4M370.3,649.29h3.4M451.8,649.29h3.4M524.9,649.29h3.4M297.2,653.66h3.4M370.3,653.66h3.4M451.8,653.66h3.4M524.9,653.66h3.4M297.2,658.03h3.4M370.3,658.03h3.4M451.8,658.03h3.4M524.9,658.03h3.4M297.2,666.77h3.4M370.3,666.77h3.4M451.8,666.77h3.4M524.9,666.77h3.4M297.2,671.14h3.4M370.3,671.14h3.4M451.8,671.14h3.4M524.9,671.14h3.4M297.2,675.51h3.4M370.3,675.51h3.4M451.8,675.51h3.4M524.9,675.51h3.4M297.2,679.88h3.4M370.3,679.88h3.4M451.8,679.88h3.4M524.9,679.88h3.4" stroke="#bdbdbd" stroke-width="0.8" fill="none"/><text transform="translate(330.6,513.05) rotate(90.04) scale(0.74,1)" font-size="11.2" fill="#d7d7d7" stroke="#d7d7d7" stroke-width="0.75" text-anchor="middle" y="4.05" font-family="Liberation Sans, sans-serif">0</text><text transform="translate(495,513.05) rotate(-89.96) scale(0.74,1)" font-size="11.2" fill="#d7d7d7" stroke="#d7d7d7" stroke-width="0.75" text-anchor="middle" y="4.05" font-family="Liberation Sans, sans-serif">3</text><text transform="translate(330.6,548.85) rotate(90.04) scale(0.74,1)" font-size="11.2" fill="#d7d7d7" stroke="#d7d7d7" stroke-width="0.75" text-anchor="middle" y="4.05" font-family="Liberation Sans, sans-serif">4</text><text transform="translate(330.6,556.75) rotate(90.04) scale(0.74,1)" font-size="11.2" fill="#d7d7d7" stroke="#d7d7d7" stroke-width="0.75" text-anchor="middle" y="4.05" font-family="Liberation Sans, sans-serif">0</text><text transform="translate(495,548.85) rotate(-89.96) scale(0.74,1)" font-size="11.2" fill="#d7d7d7" stroke="#d7d7d7" stroke-width="0.75" text-anchor="middle" y="4.05" font-family="Liberation Sans, sans-serif">0</text><text transform="translate(495,556.75) rotate(-89.96) scale(0.74,1)" font-size="11.2" fill="#d7d7d7" stroke="#d7d7d7" stroke-width="0.75" text-anchor="middle" y="4.05" font-family="Liberation Sans, sans-serif">4</text><path d="M330.6,541.15 l1.2,3 h-2.4z" fill="#dadada"/><path d="M495,541.15 l1.2,3 h-2.4z" fill="#dadada"/><text transform="translate(330.6,592.55) rotate(90.04) scale(0.74,1)" font-size="11.2" fill="#d7d7d7" stroke="#d7d7d7" stroke-width="0.75" text-anchor="middle" y="4.05" font-family="Liberation Sans, sans-serif">5</text><text transform="translate(330.6,600.45) rotate(90.04) scale(0.74,1)" font-size="11.2" fill="#d7d7d7" stroke="#d7d7d7" stroke-width="0.75" text-anchor="middle" y="4.05" font-family="Liberation Sans, sans-serif">0</text><text transform="translate(495,592.55) rotate(-89.96) scale(0.74,1)" font-size="11.2" fill="#d7d7d7" stroke="#d7d7d7" stroke-width="0.75" text-anchor="middle" y="4.05" font-family="Liberation Sans, sans-serif">0</text><text transform="translate(495,600.45) rotate(-89.96) scale(0.74,1)" font-size="11.2" fill="#d7d7d7" stroke="#d7d7d7" stroke-width="0.75" text-anchor="middle" y="4.05" font-family="Liberation Sans, sans-serif">5</text><text transform="translate(330.6,636.25) rotate(90.04) scale(0.74,1)" font-size="11.2" fill="#d7d7d7" stroke="#d7d7d7" stroke-width="0.75" text-anchor="middle" y="4.05" font-family="Liberation Sans, sans-serif">4</text><text transform="translate(330.6,644.15) rotate(90.04) scale(0.74,1)" font-size="11.2" fill="#d7d7d7" stroke="#d7d7d7" stroke-width="0.75" text-anchor="middle" y="4.05" font-family="Liberation Sans, sans-serif">0</text><text transform="translate(495,636.25) rotate(-89.96) scale(0.74,1)" font-size="11.2" fill="#d7d7d7" stroke="#d7d7d7" stroke-width="0.75" text-anchor="middle" y="4.05" font-family="Liberation Sans, sans-serif">0</text><text transform="translate(495,644.15) rotate(-89.96) scale(0.74,1)" font-size="11.2" fill="#d7d7d7" stroke="#d7d7d7" stroke-width="0.75" text-anchor="middle" y="4.05" font-family="Liberation Sans, sans-serif">4</text><path d="M330.6,652.55 l1.2,-3 h-2.4z" fill="#dadada"/><path d="M495,652.55 l1.2,-3 h-2.4z" fill="#dadada"/><text transform="translate(330.6,681.25) rotate(90.04) scale(0.74,1)" font-size="11.2" fill="#d7d7d7" stroke="#d7d7d7" stroke-width="0.75" text-anchor="middle" y="4.05" font-family="Liberation Sans, sans-serif">3</text><text transform="translate(495,681.25) rotate(-89.96) scale(0.74,1)" font-size="11.2" fill="#d7d7d7" stroke="#d7d7d7" stroke-width="0.75" text-anchor="middle" y="4.05" font-family="Liberation Sans, sans-serif">0</text>
<text transform="translate(893.9,89.5) rotate(0.04)" font-size="12.75" font-weight="bold" fill="#111" text-anchor="middle" font-family="Liberation Sans, sans-serif">GAMEDAY PLAYGRID #2</text><rect x="657.7" y="105.5" width="472.4" height="579.81" fill="#fff"/><rect x="659.3" y="107" width="233" height="14.6" fill="#eff0f2"/><text transform="translate(662.1,117.45) rotate(0.04) scale(0.915,1)" font-size="8.05" font-weight="bold" fill="#161616" stroke="#161616" stroke-width="0.1" font-family="Liberation Sans, sans-serif">Silly Scissors</text><path d="M657.7,144.4H893.9M657.7,166.25H893.9M657.7,188.1H893.9M657.7,209.95H893.9M657.7,231.8H893.9M657.7,253.65H893.9M657.7,275.5H893.9" stroke="#bcbcbc" stroke-width="0.7" fill="none"/><path d="M660.2,126.92h3.4M733.3,126.92h3.4M814.8,126.92h3.4M887.9,126.92h3.4M660.2,131.29h3.4M733.3,131.29h3.4M814.8,131.29h3.4M887.9,131.29h3.4M660.2,135.66h3.4M733.3,135.66h3.4M814.8,135.66h3.4M887.9,135.66h3.4M660.2,140.03h3.4M733.3,140.03h3.4M814.8,140.03h3.4M887.9,140.03h3.4M660.2,148.77h3.4M733.3,148.77h3.4M814.8,148.77h3.4M887.9,148.77h3.4M660.2,153.14h3.4M733.3,153.14h3.4M814.8,153.14h3.4M887.9,153.14h3.4M660.2,157.51h3.4M733.3,157.51h3.4M814.8,157.51h3.4M887.9,157.51h3.4M660.2,161.88h3.4M733.3,161.88h3.4M814.8,161.88h3.4M887.9,161.88h3.4M660.2,170.62h3.4M733.3,170.62h3.4M814.8,170.62h3.4M887.9,170.62h3.4M660.2,174.99h3.4M733.3,174.99h3.4M814.8,174.99h3.4M887.9,174.99h3.4M660.2,179.36h3.4M733.3,179.36h3.4M814.8,179.36h3.4M887.9,179.36h3.4M660.2,183.73h3.4M733.3,183.73h3.4M814.8,183.73h3.4M887.9,183.73h3.4M660.2,192.47h3.4M733.3,192.47h3.4M814.8,192.47h3.4M887.9,192.47h3.4M660.2,196.84h3.4M733.3,196.84h3.4M814.8,196.84h3.4M887.9,196.84h3.4M660.2,201.21h3.4M733.3,201.21h3.4M814.8,201.21h3.4M887.9,201.21h3.4M660.2,205.58h3.4M733.3,205.58h3.4M814.8,205.58h3.4M887.9,205.58h3.4M660.2,214.32h3.4M733.3,214.32h3.4M814.8,214.32h3.4M887.9,214.32h3.4M660.2,218.69h3.4M733.3,218.69h3.4M814.8,218.69h3.4M887.9,218.69h3.4M660.2,223.06h3.4M733.3,223.06h3.4M814.8,223.06h3.4M887.9,223.06h3.4M660.2,227.43h3.4M733.3,227.43h3.4M814.8,227.43h3.4M887.9,227.43h3.4M660.2,236.17h3.4M733.3,236.17h3.4M814.8,236.17h3.4M887.9,236.17h3.4M660.2,240.54h3.4M733.3,240.54h3.4M814.8,240.54h3.4M887.9,240.54h3.4M660.2,244.91h3.4M733.3,244.91h3.4M814.8,244.91h3.4M887.9,244.91h3.4M660.2,249.28h3.4M733.3,249.28h3.4M814.8,249.28h3.4M887.9,249.28h3.4M660.2,258.02h3.4M733.3,258.02h3.4M814.8,258.02h3.4M887.9,258.02h3.4M660.2,262.39h3.4M733.3,262.39h3.4M814.8,262.39h3.4M887.9,262.39h3.4M660.2,266.76h3.4M733.3,266.76h3.4M814.8,266.76h3.4M887.9,266.76h3.4M660.2,271.13h3.4M733.3,271.13h3.4M814.8,271.13h3.4M887.9,271.13h3.4M660.2,279.87h3.4M733.3,279.87h3.4M814.8,279.87h3.4M887.9,279.87h3.4M660.2,284.24h3.4M733.3,284.24h3.4M814.8,284.24h3.4M887.9,284.24h3.4M660.2,288.61h3.4M733.3,288.61h3.4M814.8,288.61h3.4M887.9,288.61h3.4M660.2,292.98h3.4M733.3,292.98h3.4M814.8,292.98h3.4M887.9,292.98h3.4" stroke="#bdbdbd" stroke-width="0.8" fill="none"/><text transform="translate(693.6,126.15) rotate(90.04) scale(0.74,1)" font-size="11.2" fill="#d7d7d7" stroke="#d7d7d7" stroke-width="0.75" text-anchor="middle" y="4.05" font-family="Liberation Sans, sans-serif">0</text><text transform="translate(858,126.15) rotate(-89.96) scale(0.74,1)" font-size="11.2" fill="#d7d7d7" stroke="#d7d7d7" stroke-width="0.75" text-anchor="middle" y="4.05" font-family="Liberation Sans, sans-serif">3</text><text transform="translate(693.6,161.95) rotate(90.04) scale(0.74,1)" font-size="11.2" fill="#d7d7d7" stroke="#d7d7d7" stroke-width="0.75" text-anchor="middle" y="4.05" font-family="Liberation Sans, sans-serif">4</text><text transform="translate(693.6,169.85) rotate(90.04) scale(0.74,1)" font-size="11.2" fill="#d7d7d7" stroke="#d7d7d7" stroke-width="0.75" text-anchor="middle" y="4.05" font-family="Liberation Sans, sans-serif">0</text><text transform="translate(858,161.95) rotate(-89.96) scale(0.74,1)" font-size="11.2" fill="#d7d7d7" stroke="#d7d7d7" stroke-width="0.75" text-anchor="middle" y="4.05" font-family="Liberation Sans, sans-serif">0</text><text transform="translate(858,169.85) rotate(-89.96) scale(0.74,1)" font-size="11.2" fill="#d7d7d7" stroke="#d7d7d7" stroke-width="0.75" text-anchor="middle" y="4.05" font-family="Liberation Sans, sans-serif">4</text><path d="M693.6,154.25 l1.2,3 h-2.4z" fill="#dadada"/><path d="M858,154.25 l1.2,3 h-2.4z" fill="#dadada"/><text transform="translate(693.6,205.65) rotate(90.04) scale(0.74,1)" font-size="11.2" fill="#d7d7d7" stroke="#d7d7d7" stroke-width="0.75" text-anchor="middle" y="4.05" font-family="Liberation Sans, sans-serif">5</text><text transform="translate(693.6,213.55) rotate(90.04) scale(0.74,1)" font-size="11.2" fill="#d7d7d7" stroke="#d7d7d7" stroke-width="0.75" text-anchor="middle" y="4.05" font-family="Liberation Sans, sans-serif">0</text><text transform="translate(858,205.65) rotate(-89.96) scale(0.74,1)" font-size="11.2" fill="#d7d7d7" stroke="#d7d7d7" stroke-width="0.75" text-anchor="middle" y="4.05" font-family="Liberation Sans, sans-serif">0</text><text transform="translate(858,213.55) rotate(-89.96) scale(0.74,1)" font-size="11.2" fill="#d7d7d7" stroke="#d7d7d7" stroke-width="0.75" text-anchor="middle" y="4.05" font-family="Liberation Sans, sans-serif">5</text><text transform="translate(693.6,249.35) rotate(90.04) scale(0.74,1)" font-size="11.2" fill="#d7d7d7" stroke="#d7d7d7" stroke-width="0.75" text-anchor="middle" y="4.05" font-family="Liberation Sans, sans-serif">4</text><text transform="translate(693.6,257.25) rotate(90.04) scale(0.74,1)" font-size="11.2" fill="#d7d7d7" stroke="#d7d7d7" stroke-width="0.75" text-anchor="middle" y="4.05" font-family="Liberation Sans, sans-serif">0</text><text transform="translate(858,249.35) rotate(-89.96) scale(0.74,1)" font-size="11.2" fill="#d7d7d7" stroke="#d7d7d7" stroke-width="0.75" text-anchor="middle" y="4.05" font-family="Liberation Sans, sans-serif">0</text><text transform="translate(858,257.25) rotate(-89.96) scale(0.74,1)" font-size="11.2" fill="#d7d7d7" stroke="#d7d7d7" stroke-width="0.75" text-anchor="middle" y="4.05" font-family="Liberation Sans, sans-serif">4</text><path d="M693.6,265.65 l1.2,-3 h-2.4z" fill="#dadada"/><path d="M858,265.65 l1.2,-3 h-2.4z" fill="#dadada"/><text transform="translate(693.6,294.35) rotate(90.04) scale(0.74,1)" font-size="11.2" fill="#d7d7d7" stroke="#d7d7d7" stroke-width="0.75" text-anchor="middle" y="4.05" font-family="Liberation Sans, sans-serif">3</text><text transform="translate(858,294.35) rotate(-89.96) scale(0.74,1)" font-size="11.2" fill="#d7d7d7" stroke="#d7d7d7" stroke-width="0.75" text-anchor="middle" y="4.05" font-family="Liberation Sans, sans-serif">0</text><rect x="895.5" y="107" width="233" height="14.6" fill="#eff0f2"/><text transform="translate(898.3,117.45) rotate(0.04) scale(0.915,1)" font-size="8.05" font-weight="bold" fill="#161616" stroke="#161616" stroke-width="0.1" font-family="Liberation Sans, sans-serif">Smash Potatoes</text><path d="M893.9,144.4H1130.1M893.9,166.25H1130.1M893.9,188.1H1130.1M893.9,209.95H1130.1M893.9,231.8H1130.1M893.9,253.65H1130.1M893.9,275.5H1130.1" stroke="#bcbcbc" stroke-width="0.7" fill="none"/><path d="M896.4,126.92h3.4M969.5,126.92h3.4M1051,126.92h3.4M1124.1,126.92h3.4M896.4,131.29h3.4M969.5,131.29h3.4M1051,131.29h3.4M1124.1,131.29h3.4M896.4,135.66h3.4M969.5,135.66h3.4M1051,135.66h3.4M1124.1,135.66h3.4M896.4,140.03h3.4M969.5,140.03h3.4M1051,140.03h3.4M1124.1,140.03h3.4M896.4,148.77h3.4M969.5,148.77h3.4M1051,148.77h3.4M1124.1,148.77h3.4M896.4,153.14h3.4M969.5,153.14h3.4M1051,153.14h3.4M1124.1,153.14h3.4M896.4,157.51h3.4M969.5,157.51h3.4M1051,157.51h3.4M1124.1,157.51h3.4M896.4,161.88h3.4M969.5,161.88h3.4M1051,161.88h3.4M1124.1,161.88h3.4M896.4,170.62h3.4M969.5,170.62h3.4M1051,170.62h3.4M1124.1,170.62h3.4M896.4,174.99h3.4M969.5,174.99h3.4M1051,174.99h3.4M1124.1,174.99h3.4M896.4,179.36h3.4M969.5,179.36h3.4M1051,179.36h3.4M1124.1,179.36h3.4M896.4,183.73h3.4M969.5,183.73h3.4M1051,183.73h3.4M1124.1,183.73h3.4M896.4,192.47h3.4M969.5,192.47h3.4M1051,192.47h3.4M1124.1,192.47h3.4M896.4,196.84h3.4M969.5,196.84h3.4M1051,196.84h3.4M1124.1,196.84h3.4M896.4,201.21h3.4M969.5,201.21h3.4M1051,201.21h3.4M1124.1,201.21h3.4M896.4,205.58h3.4M969.5,205.58h3.4M1051,205.58h3.4M1124.1,205.58h3.4M896.4,214.32h3.4M969.5,214.32h3.4M1051,214.32h3.4M1124.1,214.32h3.4M896.4,218.69h3.4M969.5,218.69h3.4M1051,218.69h3.4M1124.1,218.69h3.4M896.4,223.06h3.4M969.5,223.06h3.4M1051,223.06h3.4M1124.1,223.06h3.4M896.4,227.43h3.4M969.5,227.43h3.4M1051,227.43h3.4M1124.1,227.43h3.4M896.4,236.17h3.4M969.5,236.17h3.4M1051,236.17h3.4M1124.1,236.17h3.4M896.4,240.54h3.4M969.5,240.54h3.4M1051,240.54h3.4M1124.1,240.54h3.4M896.4,244.91h3.4M969.5,244.91h3.4M1051,244.91h3.4M1124.1,244.91h3.4M896.4,249.28h3.4M969.5,249.28h3.4M1051,249.28h3.4M1124.1,249.28h3.4M896.4,258.02h3.4M969.5,258.02h3.4M1051,258.02h3.4M1124.1,258.02h3.4M896.4,262.39h3.4M969.5,262.39h3.4M1051,262.39h3.4M1124.1,262.39h3.4M896.4,266.76h3.4M969.5,266.76h3.4M1051,266.76h3.4M1124.1,266.76h3.4M896.4,271.13h3.4M969.5,271.13h3.4M1051,271.13h3.4M1124.1,271.13h3.4M896.4,279.87h3.4M969.5,279.87h3.4M1051,279.87h3.4M1124.1,279.87h3.4M896.4,284.24h3.4M969.5,284.24h3.4M1051,284.24h3.4M1124.1,284.24h3.4M896.4,288.61h3.4M969.5,288.61h3.4M1051,288.61h3.4M1124.1,288.61h3.4M896.4,292.98h3.4M969.5,292.98h3.4M1051,292.98h3.4M1124.1,292.98h3.4" stroke="#bdbdbd" stroke-width="0.8" fill="none"/><text transform="translate(929.8,126.15) rotate(90.04) scale(0.74,1)" font-size="11.2" fill="#d7d7d7" stroke="#d7d7d7" stroke-width="0.75" text-anchor="middle" y="4.05" font-family="Liberation Sans, sans-serif">0</text><text transform="translate(1094.2,126.15) rotate(-89.96) scale(0.74,1)" font-size="11.2" fill="#d7d7d7" stroke="#d7d7d7" stroke-width="0.75" text-anchor="middle" y="4.05" font-family="Liberation Sans, sans-serif">3</text><text transform="translate(929.8,161.95) rotate(90.04) scale(0.74,1)" font-size="11.2" fill="#d7d7d7" stroke="#d7d7d7" stroke-width="0.75" text-anchor="middle" y="4.05" font-family="Liberation Sans, sans-serif">4</text><text transform="translate(929.8,169.85) rotate(90.04) scale(0.74,1)" font-size="11.2" fill="#d7d7d7" stroke="#d7d7d7" stroke-width="0.75" text-anchor="middle" y="4.05" font-family="Liberation Sans, sans-serif">0</text><text transform="translate(1094.2,161.95) rotate(-89.96) scale(0.74,1)" font-size="11.2" fill="#d7d7d7" stroke="#d7d7d7" stroke-width="0.75" text-anchor="middle" y="4.05" font-family="Liberation Sans, sans-serif">0</text><text transform="translate(1094.2,169.85) rotate(-89.96) scale(0.74,1)" font-size="11.2" fill="#d7d7d7" stroke="#d7d7d7" stroke-width="0.75" text-anchor="middle" y="4.05" font-family="Liberation Sans, sans-serif">4</text><path d="M929.8,154.25 l1.2,3 h-2.4z" fill="#dadada"/><path d="M1094.2,154.25 l1.2,3 h-2.4z" fill="#dadada"/><text transform="translate(929.8,205.65) rotate(90.04) scale(0.74,1)" font-size="11.2" fill="#d7d7d7" stroke="#d7d7d7" stroke-width="0.75" text-anchor="middle" y="4.05" font-family="Liberation Sans, sans-serif">5</text><text transform="translate(929.8,213.55) rotate(90.04) scale(0.74,1)" font-size="11.2" fill="#d7d7d7" stroke="#d7d7d7" stroke-width="0.75" text-anchor="middle" y="4.05" font-family="Liberation Sans, sans-serif">0</text><text transform="translate(1094.2,205.65) rotate(-89.96) scale(0.74,1)" font-size="11.2" fill="#d7d7d7" stroke="#d7d7d7" stroke-width="0.75" text-anchor="middle" y="4.05" font-family="Liberation Sans, sans-serif">0</text><text transform="translate(1094.2,213.55) rotate(-89.96) scale(0.74,1)" font-size="11.2" fill="#d7d7d7" stroke="#d7d7d7" stroke-width="0.75" text-anchor="middle" y="4.05" font-family="Liberation Sans, sans-serif">5</text><text transform="translate(929.8,249.35) rotate(90.04) scale(0.74,1)" font-size="11.2" fill="#d7d7d7" stroke="#d7d7d7" stroke-width="0.75" text-anchor="middle" y="4.05" font-family="Liberation Sans, sans-serif">4</text><text transform="translate(929.8,257.25) rotate(90.04) scale(0.74,1)" font-size="11.2" fill="#d7d7d7" stroke="#d7d7d7" stroke-width="0.75" text-anchor="middle" y="4.05" font-family="Liberation Sans, sans-serif">0</text><text transform="translate(1094.2,249.35) rotate(-89.96) scale(0.74,1)" font-size="11.2" fill="#d7d7d7" stroke="#d7d7d7" stroke-width="0.75" text-anchor="middle" y="4.05" font-family="Liberation Sans, sans-serif">0</text><text transform="translate(1094.2,257.25) rotate(-89.96) scale(0.74,1)" font-size="11.2" fill="#d7d7d7" stroke="#d7d7d7" stroke-width="0.75" text-anchor="middle" y="4.05" font-family="Liberation Sans, sans-serif">4</text><path d="M929.8,265.65 l1.2,-3 h-2.4z" fill="#dadada"/><path d="M1094.2,265.65 l1.2,-3 h-2.4z" fill="#dadada"/><text transform="translate(929.8,294.35) rotate(90.04) scale(0.74,1)" font-size="11.2" fill="#d7d7d7" stroke="#d7d7d7" stroke-width="0.75" text-anchor="middle" y="4.05" font-family="Liberation Sans, sans-serif">3</text><text transform="translate(1094.2,294.35) rotate(-89.96) scale(0.74,1)" font-size="11.2" fill="#d7d7d7" stroke="#d7d7d7" stroke-width="0.75" text-anchor="middle" y="4.05" font-family="Liberation Sans, sans-serif">0</text><rect x="659.3" y="300.2" width="233" height="14.6" fill="#eff0f2"/><text transform="translate(662.1,310.65) rotate(0.04) scale(0.915,1)" font-size="8.05" font-weight="bold" fill="#161616" stroke="#161616" stroke-width="0.1" font-family="Liberation Sans, sans-serif">CRAZY CROSS &amp; RETURN</text><path d="M657.7,337.6H893.9M657.7,359.45H893.9M657.7,381.3H893.9M657.7,403.15H893.9M657.7,425H893.9M657.7,446.85H893.9M657.7,468.7H893.9" stroke="#bcbcbc" stroke-width="0.7" fill="none"/><path d="M660.2,320.12h3.4M733.3,320.12h3.4M814.8,320.12h3.4M887.9,320.12h3.4M660.2,324.49h3.4M733.3,324.49h3.4M814.8,324.49h3.4M887.9,324.49h3.4M660.2,328.86h3.4M733.3,328.86h3.4M814.8,328.86h3.4M887.9,328.86h3.4M660.2,333.23h3.4M733.3,333.23h3.4M814.8,333.23h3.4M887.9,333.23h3.4M660.2,341.97h3.4M733.3,341.97h3.4M814.8,341.97h3.4M887.9,341.97h3.4M660.2,346.34h3.4M733.3,346.34h3.4M814.8,346.34h3.4M887.9,346.34h3.4M660.2,350.71h3.4M733.3,350.71h3.4M814.8,350.71h3.4M887.9,350.71h3.4M660.2,355.08h3.4M733.3,355.08h3.4M814.8,355.08h3.4M887.9,355.08h3.4M660.2,363.82h3.4M733.3,363.82h3.4M814.8,363.82h3.4M887.9,363.82h3.4M660.2,368.19h3.4M733.3,368.19h3.4M814.8,368.19h3.4M887.9,368.19h3.4M660.2,372.56h3.4M733.3,372.56h3.4M814.8,372.56h3.4M887.9,372.56h3.4M660.2,376.93h3.4M733.3,376.93h3.4M814.8,376.93h3.4M887.9,376.93h3.4M660.2,385.67h3.4M733.3,385.67h3.4M814.8,385.67h3.4M887.9,385.67h3.4M660.2,390.04h3.4M733.3,390.04h3.4M814.8,390.04h3.4M887.9,390.04h3.4M660.2,394.41h3.4M733.3,394.41h3.4M814.8,394.41h3.4M887.9,394.41h3.4M660.2,398.78h3.4M733.3,398.78h3.4M814.8,398.78h3.4M887.9,398.78h3.4M660.2,407.52h3.4M733.3,407.52h3.4M814.8,407.52h3.4M887.9,407.52h3.4M660.2,411.89h3.4M733.3,411.89h3.4M814.8,411.89h3.4M887.9,411.89h3.4M660.2,416.26h3.4M733.3,416.26h3.4M814.8,416.26h3.4M887.9,416.26h3.4M660.2,420.63h3.4M733.3,420.63h3.4M814.8,420.63h3.4M887.9,420.63h3.4M660.2,429.37h3.4M733.3,429.37h3.4M814.8,429.37h3.4M887.9,429.37h3.4M660.2,433.74h3.4M733.3,433.74h3.4M814.8,433.74h3.4M887.9,433.74h3.4M660.2,438.11h3.4M733.3,438.11h3.4M814.8,438.11h3.4M887.9,438.11h3.4M660.2,442.48h3.4M733.3,442.48h3.4M814.8,442.48h3.4M887.9,442.48h3.4M660.2,451.22h3.4M733.3,451.22h3.4M814.8,451.22h3.4M887.9,451.22h3.4M660.2,455.59h3.4M733.3,455.59h3.4M814.8,455.59h3.4M887.9,455.59h3.4M660.2,459.96h3.4M733.3,459.96h3.4M814.8,459.96h3.4M887.9,459.96h3.4M660.2,464.33h3.4M733.3,464.33h3.4M814.8,464.33h3.4M887.9,464.33h3.4M660.2,473.07h3.4M733.3,473.07h3.4M814.8,473.07h3.4M887.9,473.07h3.4M660.2,477.44h3.4M733.3,477.44h3.4M814.8,477.44h3.4M887.9,477.44h3.4M660.2,481.81h3.4M733.3,481.81h3.4M814.8,481.81h3.4M887.9,481.81h3.4M660.2,486.18h3.4M733.3,486.18h3.4M814.8,486.18h3.4M887.9,486.18h3.4" stroke="#bdbdbd" stroke-width="0.8" fill="none"/><text transform="translate(693.6,319.35) rotate(90.04) scale(0.74,1)" font-size="11.2" fill="#d7d7d7" stroke="#d7d7d7" stroke-width="0.75" text-anchor="middle" y="4.05" font-family="Liberation Sans, sans-serif">0</text><text transform="translate(858,319.35) rotate(-89.96) scale(0.74,1)" font-size="11.2" fill="#d7d7d7" stroke="#d7d7d7" stroke-width="0.75" text-anchor="middle" y="4.05" font-family="Liberation Sans, sans-serif">3</text><text transform="translate(693.6,355.15) rotate(90.04) scale(0.74,1)" font-size="11.2" fill="#d7d7d7" stroke="#d7d7d7" stroke-width="0.75" text-anchor="middle" y="4.05" font-family="Liberation Sans, sans-serif">4</text><text transform="translate(693.6,363.05) rotate(90.04) scale(0.74,1)" font-size="11.2" fill="#d7d7d7" stroke="#d7d7d7" stroke-width="0.75" text-anchor="middle" y="4.05" font-family="Liberation Sans, sans-serif">0</text><text transform="translate(858,355.15) rotate(-89.96) scale(0.74,1)" font-size="11.2" fill="#d7d7d7" stroke="#d7d7d7" stroke-width="0.75" text-anchor="middle" y="4.05" font-family="Liberation Sans, sans-serif">0</text><text transform="translate(858,363.05) rotate(-89.96) scale(0.74,1)" font-size="11.2" fill="#d7d7d7" stroke="#d7d7d7" stroke-width="0.75" text-anchor="middle" y="4.05" font-family="Liberation Sans, sans-serif">4</text><path d="M693.6,347.45 l1.2,3 h-2.4z" fill="#dadada"/><path d="M858,347.45 l1.2,3 h-2.4z" fill="#dadada"/><text transform="translate(693.6,398.85) rotate(90.04) scale(0.74,1)" font-size="11.2" fill="#d7d7d7" stroke="#d7d7d7" stroke-width="0.75" text-anchor="middle" y="4.05" font-family="Liberation Sans, sans-serif">5</text><text transform="translate(693.6,406.75) rotate(90.04) scale(0.74,1)" font-size="11.2" fill="#d7d7d7" stroke="#d7d7d7" stroke-width="0.75" text-anchor="middle" y="4.05" font-family="Liberation Sans, sans-serif">0</text><text transform="translate(858,398.85) rotate(-89.96) scale(0.74,1)" font-size="11.2" fill="#d7d7d7" stroke="#d7d7d7" stroke-width="0.75" text-anchor="middle" y="4.05" font-family="Liberation Sans, sans-serif">0</text><text transform="translate(858,406.75) rotate(-89.96) scale(0.74,1)" font-size="11.2" fill="#d7d7d7" stroke="#d7d7d7" stroke-width="0.75" text-anchor="middle" y="4.05" font-family="Liberation Sans, sans-serif">5</text><text transform="translate(693.6,442.55) rotate(90.04) scale(0.74,1)" font-size="11.2" fill="#d7d7d7" stroke="#d7d7d7" stroke-width="0.75" text-anchor="middle" y="4.05" font-family="Liberation Sans, sans-serif">4</text><text transform="translate(693.6,450.45) rotate(90.04) scale(0.74,1)" font-size="11.2" fill="#d7d7d7" stroke="#d7d7d7" stroke-width="0.75" text-anchor="middle" y="4.05" font-family="Liberation Sans, sans-serif">0</text><text transform="translate(858,442.55) rotate(-89.96) scale(0.74,1)" font-size="11.2" fill="#d7d7d7" stroke="#d7d7d7" stroke-width="0.75" text-anchor="middle" y="4.05" font-family="Liberation Sans, sans-serif">0</text><text transform="translate(858,450.45) rotate(-89.96) scale(0.74,1)" font-size="11.2" fill="#d7d7d7" stroke="#d7d7d7" stroke-width="0.75" text-anchor="middle" y="4.05" font-family="Liberation Sans, sans-serif">4</text><path d="M693.6,458.85 l1.2,-3 h-2.4z" fill="#dadada"/><path d="M858,458.85 l1.2,-3 h-2.4z" fill="#dadada"/><text transform="translate(693.6,487.55) rotate(90.04) scale(0.74,1)" font-size="11.2" fill="#d7d7d7" stroke="#d7d7d7" stroke-width="0.75" text-anchor="middle" y="4.05" font-family="Liberation Sans, sans-serif">3</text><text transform="translate(858,487.55) rotate(-89.96) scale(0.74,1)" font-size="11.2" fill="#d7d7d7" stroke="#d7d7d7" stroke-width="0.75" text-anchor="middle" y="4.05" font-family="Liberation Sans, sans-serif">0</text><rect x="895.5" y="300.2" width="233" height="14.6" fill="#eff0f2"/><text transform="translate(898.3,310.65) rotate(0.04) scale(0.915,1)" font-size="8.05" font-weight="bold" fill="#161616" stroke="#161616" stroke-width="0.1" font-family="Liberation Sans, sans-serif">3 CHINAS</text><path d="M893.9,337.6H1130.1M893.9,359.45H1130.1M893.9,381.3H1130.1M893.9,403.15H1130.1M893.9,425H1130.1M893.9,446.85H1130.1M893.9,468.7H1130.1" stroke="#bcbcbc" stroke-width="0.7" fill="none"/><path d="M896.4,320.12h3.4M969.5,320.12h3.4M1051,320.12h3.4M1124.1,320.12h3.4M896.4,324.49h3.4M969.5,324.49h3.4M1051,324.49h3.4M1124.1,324.49h3.4M896.4,328.86h3.4M969.5,328.86h3.4M1051,328.86h3.4M1124.1,328.86h3.4M896.4,333.23h3.4M969.5,333.23h3.4M1051,333.23h3.4M1124.1,333.23h3.4M896.4,341.97h3.4M969.5,341.97h3.4M1051,341.97h3.4M1124.1,341.97h3.4M896.4,346.34h3.4M969.5,346.34h3.4M1051,346.34h3.4M1124.1,346.34h3.4M896.4,350.71h3.4M969.5,350.71h3.4M1051,350.71h3.4M1124.1,350.71h3.4M896.4,355.08h3.4M969.5,355.08h3.4M1051,355.08h3.4M1124.1,355.08h3.4M896.4,363.82h3.4M969.5,363.82h3.4M1051,363.82h3.4M1124.1,363.82h3.4M896.4,368.19h3.4M969.5,368.19h3.4M1051,368.19h3.4M1124.1,368.19h3.4M896.4,372.56h3.4M969.5,372.56h3.4M1051,372.56h3.4M1124.1,372.56h3.4M896.4,376.93h3.4M969.5,376.93h3.4M1051,376.93h3.4M1124.1,376.93h3.4M896.4,385.67h3.4M969.5,385.67h3.4M1051,385.67h3.4M1124.1,385.67h3.4M896.4,390.04h3.4M969.5,390.04h3.4M1051,390.04h3.4M1124.1,390.04h3.4M896.4,394.41h3.4M969.5,394.41h3.4M1051,394.41h3.4M1124.1,394.41h3.4M896.4,398.78h3.4M969.5,398.78h3.4M1051,398.78h3.4M1124.1,398.78h3.4M896.4,407.52h3.4M969.5,407.52h3.4M1051,407.52h3.4M1124.1,407.52h3.4M896.4,411.89h3.4M969.5,411.89h3.4M1051,411.89h3.4M1124.1,411.89h3.4M896.4,416.26h3.4M969.5,416.26h3.4M1051,416.26h3.4M1124.1,416.26h3.4M896.4,420.63h3.4M969.5,420.63h3.4M1051,420.63h3.4M1124.1,420.63h3.4M896.4,429.37h3.4M969.5,429.37h3.4M1051,429.37h3.4M1124.1,429.37h3.4M896.4,433.74h3.4M969.5,433.74h3.4M1051,433.74h3.4M1124.1,433.74h3.4M896.4,438.11h3.4M969.5,438.11h3.4M1051,438.11h3.4M1124.1,438.11h3.4M896.4,442.48h3.4M969.5,442.48h3.4M1051,442.48h3.4M1124.1,442.48h3.4M896.4,451.22h3.4M969.5,451.22h3.4M1051,451.22h3.4M1124.1,451.22h3.4M896.4,455.59h3.4M969.5,455.59h3.4M1051,455.59h3.4M1124.1,455.59h3.4M896.4,459.96h3.4M969.5,459.96h3.4M1051,459.96h3.4M1124.1,459.96h3.4M896.4,464.33h3.4M969.5,464.33h3.4M1051,464.33h3.4M1124.1,464.33h3.4M896.4,473.07h3.4M969.5,473.07h3.4M1051,473.07h3.4M1124.1,473.07h3.4M896.4,477.44h3.4M969.5,477.44h3.4M1051,477.44h3.4M1124.1,477.44h3.4M896.4,481.81h3.4M969.5,481.81h3.4M1051,481.81h3.4M1124.1,481.81h3.4M896.4,486.18h3.4M969.5,486.18h3.4M1051,486.18h3.4M1124.1,486.18h3.4" stroke="#bdbdbd" stroke-width="0.8" fill="none"/><text transform="translate(929.8,319.35) rotate(90.04) scale(0.74,1)" font-size="11.2" fill="#d7d7d7" stroke="#d7d7d7" stroke-width="0.75" text-anchor="middle" y="4.05" font-family="Liberation Sans, sans-serif">0</text><text transform="translate(1094.2,319.35) rotate(-89.96) scale(0.74,1)" font-size="11.2" fill="#d7d7d7" stroke="#d7d7d7" stroke-width="0.75" text-anchor="middle" y="4.05" font-family="Liberation Sans, sans-serif">3</text><text transform="translate(929.8,355.15) rotate(90.04) scale(0.74,1)" font-size="11.2" fill="#d7d7d7" stroke="#d7d7d7" stroke-width="0.75" text-anchor="middle" y="4.05" font-family="Liberation Sans, sans-serif">4</text><text transform="translate(929.8,363.05) rotate(90.04) scale(0.74,1)" font-size="11.2" fill="#d7d7d7" stroke="#d7d7d7" stroke-width="0.75" text-anchor="middle" y="4.05" font-family="Liberation Sans, sans-serif">0</text><text transform="translate(1094.2,355.15) rotate(-89.96) scale(0.74,1)" font-size="11.2" fill="#d7d7d7" stroke="#d7d7d7" stroke-width="0.75" text-anchor="middle" y="4.05" font-family="Liberation Sans, sans-serif">0</text><text transform="translate(1094.2,363.05) rotate(-89.96) scale(0.74,1)" font-size="11.2" fill="#d7d7d7" stroke="#d7d7d7" stroke-width="0.75" text-anchor="middle" y="4.05" font-family="Liberation Sans, sans-serif">4</text><path d="M929.8,347.45 l1.2,3 h-2.4z" fill="#dadada"/><path d="M1094.2,347.45 l1.2,3 h-2.4z" fill="#dadada"/><text transform="translate(929.8,398.85) rotate(90.04) scale(0.74,1)" font-size="11.2" fill="#d7d7d7" stroke="#d7d7d7" stroke-width="0.75" text-anchor="middle" y="4.05" font-family="Liberation Sans, sans-serif">5</text><text transform="translate(929.8,406.75) rotate(90.04) scale(0.74,1)" font-size="11.2" fill="#d7d7d7" stroke="#d7d7d7" stroke-width="0.75" text-anchor="middle" y="4.05" font-family="Liberation Sans, sans-serif">0</text><text transform="translate(1094.2,398.85) rotate(-89.96) scale(0.74,1)" font-size="11.2" fill="#d7d7d7" stroke="#d7d7d7" stroke-width="0.75" text-anchor="middle" y="4.05" font-family="Liberation Sans, sans-serif">0</text><text transform="translate(1094.2,406.75) rotate(-89.96) scale(0.74,1)" font-size="11.2" fill="#d7d7d7" stroke="#d7d7d7" stroke-width="0.75" text-anchor="middle" y="4.05" font-family="Liberation Sans, sans-serif">5</text><text transform="translate(929.8,442.55) rotate(90.04) scale(0.74,1)" font-size="11.2" fill="#d7d7d7" stroke="#d7d7d7" stroke-width="0.75" text-anchor="middle" y="4.05" font-family="Liberation Sans, sans-serif">4</text><text transform="translate(929.8,450.45) rotate(90.04) scale(0.74,1)" font-size="11.2" fill="#d7d7d7" stroke="#d7d7d7" stroke-width="0.75" text-anchor="middle" y="4.05" font-family="Liberation Sans, sans-serif">0</text><text transform="translate(1094.2,442.55) rotate(-89.96) scale(0.74,1)" font-size="11.2" fill="#d7d7d7" stroke="#d7d7d7" stroke-width="0.75" text-anchor="middle" y="4.05" font-family="Liberation Sans, sans-serif">0</text><text transform="translate(1094.2,450.45) rotate(-89.96) scale(0.74,1)" font-size="11.2" fill="#d7d7d7" stroke="#d7d7d7" stroke-width="0.75" text-anchor="middle" y="4.05" font-family="Liberation Sans, sans-serif">4</text><path d="M929.8,458.85 l1.2,-3 h-2.4z" fill="#dadada"/><path d="M1094.2,458.85 l1.2,-3 h-2.4z" fill="#dadada"/><text transform="translate(929.8,487.55) rotate(90.04) scale(0.74,1)" font-size="11.2" fill="#d7d7d7" stroke="#d7d7d7" stroke-width="0.75" text-anchor="middle" y="4.05" font-family="Liberation Sans, sans-serif">3</text><text transform="translate(1094.2,487.55) rotate(-89.96) scale(0.74,1)" font-size="11.2" fill="#d7d7d7" stroke="#d7d7d7" stroke-width="0.75" text-anchor="middle" y="4.05" font-family="Liberation Sans, sans-serif">0</text><rect x="659.3" y="493.9" width="233" height="14.6" fill="#eff0f2"/><text transform="translate(662.1,504.35) rotate(0.04) scale(0.915,1)" font-size="8.05" font-weight="bold" fill="#161616" stroke="#161616" stroke-width="0.1" font-family="Liberation Sans, sans-serif">STINKY SEAM</text><path d="M657.7,531.3H893.9M657.7,553.15H893.9M657.7,575H893.9M657.7,596.85H893.9M657.7,618.7H893.9M657.7,640.55H893.9M657.7,662.4H893.9" stroke="#bcbcbc" stroke-width="0.7" fill="none"/><path d="M660.2,513.82h3.4M733.3,513.82h3.4M814.8,513.82h3.4M887.9,513.82h3.4M660.2,518.19h3.4M733.3,518.19h3.4M814.8,518.19h3.4M887.9,518.19h3.4M660.2,522.56h3.4M733.3,522.56h3.4M814.8,522.56h3.4M887.9,522.56h3.4M660.2,526.93h3.4M733.3,526.93h3.4M814.8,526.93h3.4M887.9,526.93h3.4M660.2,535.67h3.4M733.3,535.67h3.4M814.8,535.67h3.4M887.9,535.67h3.4M660.2,540.04h3.4M733.3,540.04h3.4M814.8,540.04h3.4M887.9,540.04h3.4M660.2,544.41h3.4M733.3,544.41h3.4M814.8,544.41h3.4M887.9,544.41h3.4M660.2,548.78h3.4M733.3,548.78h3.4M814.8,548.78h3.4M887.9,548.78h3.4M660.2,557.52h3.4M733.3,557.52h3.4M814.8,557.52h3.4M887.9,557.52h3.4M660.2,561.89h3.4M733.3,561.89h3.4M814.8,561.89h3.4M887.9,561.89h3.4M660.2,566.26h3.4M733.3,566.26h3.4M814.8,566.26h3.4M887.9,566.26h3.4M660.2,570.63h3.4M733.3,570.63h3.4M814.8,570.63h3.4M887.9,570.63h3.4M660.2,579.37h3.4M733.3,579.37h3.4M814.8,579.37h3.4M887.9,579.37h3.4M660.2,583.74h3.4M733.3,583.74h3.4M814.8,583.74h3.4M887.9,583.74h3.4M660.2,588.11h3.4M733.3,588.11h3.4M814.8,588.11h3.4M887.9,588.11h3.4M660.2,592.48h3.4M733.3,592.48h3.4M814.8,592.48h3.4M887.9,592.48h3.4M660.2,601.22h3.4M733.3,601.22h3.4M814.8,601.22h3.4M887.9,601.22h3.4M660.2,605.59h3.4M733.3,605.59h3.4M814.8,605.59h3.4M887.9,605.59h3.4M660.2,609.96h3.4M733.3,609.96h3.4M814.8,609.96h3.4M887.9,609.96h3.4M660.2,614.33h3.4M733.3,614.33h3.4M814.8,614.33h3.4M887.9,614.33h3.4M660.2,623.07h3.4M733.3,623.07h3.4M814.8,623.07h3.4M887.9,623.07h3.4M660.2,627.44h3.4M733.3,627.44h3.4M814.8,627.44h3.4M887.9,627.44h3.4M660.2,631.81h3.4M733.3,631.81h3.4M814.8,631.81h3.4M887.9,631.81h3.4M660.2,636.18h3.4M733.3,636.18h3.4M814.8,636.18h3.4M887.9,636.18h3.4M660.2,644.92h3.4M733.3,644.92h3.4M814.8,644.92h3.4M887.9,644.92h3.4M660.2,649.29h3.4M733.3,649.29h3.4M814.8,649.29h3.4M887.9,649.29h3.4M660.2,653.66h3.4M733.3,653.66h3.4M814.8,653.66h3.4M887.9,653.66h3.4M660.2,658.03h3.4M733.3,658.03h3.4M814.8,658.03h3.4M887.9,658.03h3.4M660.2,666.77h3.4M733.3,666.77h3.4M814.8,666.77h3.4M887.9,666.77h3.4M660.2,671.14h3.4M733.3,671.14h3.4M814.8,671.14h3.4M887.9,671.14h3.4M660.2,675.51h3.4M733.3,675.51h3.4M814.8,675.51h3.4M887.9,675.51h3.4M660.2,679.88h3.4M733.3,679.88h3.4M814.8,679.88h3.4M887.9,679.88h3.4" stroke="#bdbdbd" stroke-width="0.8" fill="none"/><text transform="translate(693.6,513.05) rotate(90.04) scale(0.74,1)" font-size="11.2" fill="#d7d7d7" stroke="#d7d7d7" stroke-width="0.75" text-anchor="middle" y="4.05" font-family="Liberation Sans, sans-serif">0</text><text transform="translate(858,513.05) rotate(-89.96) scale(0.74,1)" font-size="11.2" fill="#d7d7d7" stroke="#d7d7d7" stroke-width="0.75" text-anchor="middle" y="4.05" font-family="Liberation Sans, sans-serif">3</text><text transform="translate(693.6,548.85) rotate(90.04) scale(0.74,1)" font-size="11.2" fill="#d7d7d7" stroke="#d7d7d7" stroke-width="0.75" text-anchor="middle" y="4.05" font-family="Liberation Sans, sans-serif">4</text><text transform="translate(693.6,556.75) rotate(90.04) scale(0.74,1)" font-size="11.2" fill="#d7d7d7" stroke="#d7d7d7" stroke-width="0.75" text-anchor="middle" y="4.05" font-family="Liberation Sans, sans-serif">0</text><text transform="translate(858,548.85) rotate(-89.96) scale(0.74,1)" font-size="11.2" fill="#d7d7d7" stroke="#d7d7d7" stroke-width="0.75" text-anchor="middle" y="4.05" font-family="Liberation Sans, sans-serif">0</text><text transform="translate(858,556.75) rotate(-89.96) scale(0.74,1)" font-size="11.2" fill="#d7d7d7" stroke="#d7d7d7" stroke-width="0.75" text-anchor="middle" y="4.05" font-family="Liberation Sans, sans-serif">4</text><path d="M693.6,541.15 l1.2,3 h-2.4z" fill="#dadada"/><path d="M858,541.15 l1.2,3 h-2.4z" fill="#dadada"/><text transform="translate(693.6,592.55) rotate(90.04) scale(0.74,1)" font-size="11.2" fill="#d7d7d7" stroke="#d7d7d7" stroke-width="0.75" text-anchor="middle" y="4.05" font-family="Liberation Sans, sans-serif">5</text><text transform="translate(693.6,600.45) rotate(90.04) scale(0.74,1)" font-size="11.2" fill="#d7d7d7" stroke="#d7d7d7" stroke-width="0.75" text-anchor="middle" y="4.05" font-family="Liberation Sans, sans-serif">0</text><text transform="translate(858,592.55) rotate(-89.96) scale(0.74,1)" font-size="11.2" fill="#d7d7d7" stroke="#d7d7d7" stroke-width="0.75" text-anchor="middle" y="4.05" font-family="Liberation Sans, sans-serif">0</text><text transform="translate(858,600.45) rotate(-89.96) scale(0.74,1)" font-size="11.2" fill="#d7d7d7" stroke="#d7d7d7" stroke-width="0.75" text-anchor="middle" y="4.05" font-family="Liberation Sans, sans-serif">5</text><text transform="translate(693.6,636.25) rotate(90.04) scale(0.74,1)" font-size="11.2" fill="#d7d7d7" stroke="#d7d7d7" stroke-width="0.75" text-anchor="middle" y="4.05" font-family="Liberation Sans, sans-serif">4</text><text transform="translate(693.6,644.15) rotate(90.04) scale(0.74,1)" font-size="11.2" fill="#d7d7d7" stroke="#d7d7d7" stroke-width="0.75" text-anchor="middle" y="4.05" font-family="Liberation Sans, sans-serif">0</text><text transform="translate(858,636.25) rotate(-89.96) scale(0.74,1)" font-size="11.2" fill="#d7d7d7" stroke="#d7d7d7" stroke-width="0.75" text-anchor="middle" y="4.05" font-family="Liberation Sans, sans-serif">0</text><text transform="translate(858,644.15) rotate(-89.96) scale(0.74,1)" font-size="11.2" fill="#d7d7d7" stroke="#d7d7d7" stroke-width="0.75" text-anchor="middle" y="4.05" font-family="Liberation Sans, sans-serif">4</text><path d="M693.6,652.55 l1.2,-3 h-2.4z" fill="#dadada"/><path d="M858,652.55 l1.2,-3 h-2.4z" fill="#dadada"/><text transform="translate(693.6,681.25) rotate(90.04) scale(0.74,1)" font-size="11.2" fill="#d7d7d7" stroke="#d7d7d7" stroke-width="0.75" text-anchor="middle" y="4.05" font-family="Liberation Sans, sans-serif">3</text><text transform="translate(858,681.25) rotate(-89.96) scale(0.74,1)" font-size="11.2" fill="#d7d7d7" stroke="#d7d7d7" stroke-width="0.75" text-anchor="middle" y="4.05" font-family="Liberation Sans, sans-serif">0</text><rect x="895.5" y="493.9" width="233" height="14.6" fill="#eff0f2"/><text transform="translate(898.3,504.35) rotate(0.04) scale(0.915,1)" font-size="8.05" font-weight="bold" fill="#161616" stroke="#161616" stroke-width="0.1" font-family="Liberation Sans, sans-serif">HITCH'EM UP!</text><path d="M893.9,531.3H1130.1M893.9,553.15H1130.1M893.9,575H1130.1M893.9,596.85H1130.1M893.9,618.7H1130.1M893.9,640.55H1130.1M893.9,662.4H1130.1" stroke="#bcbcbc" stroke-width="0.7" fill="none"/><path d="M896.4,513.82h3.4M969.5,513.82h3.4M1051,513.82h3.4M1124.1,513.82h3.4M896.4,518.19h3.4M969.5,518.19h3.4M1051,518.19h3.4M1124.1,518.19h3.4M896.4,522.56h3.4M969.5,522.56h3.4M1051,522.56h3.4M1124.1,522.56h3.4M896.4,526.93h3.4M969.5,526.93h3.4M1051,526.93h3.4M1124.1,526.93h3.4M896.4,535.67h3.4M969.5,535.67h3.4M1051,535.67h3.4M1124.1,535.67h3.4M896.4,540.04h3.4M969.5,540.04h3.4M1051,540.04h3.4M1124.1,540.04h3.4M896.4,544.41h3.4M969.5,544.41h3.4M1051,544.41h3.4M1124.1,544.41h3.4M896.4,548.78h3.4M969.5,548.78h3.4M1051,548.78h3.4M1124.1,548.78h3.4M896.4,557.52h3.4M969.5,557.52h3.4M1051,557.52h3.4M1124.1,557.52h3.4M896.4,561.89h3.4M969.5,561.89h3.4M1051,561.89h3.4M1124.1,561.89h3.4M896.4,566.26h3.4M969.5,566.26h3.4M1051,566.26h3.4M1124.1,566.26h3.4M896.4,570.63h3.4M969.5,570.63h3.4M1051,570.63h3.4M1124.1,570.63h3.4M896.4,579.37h3.4M969.5,579.37h3.4M1051,579.37h3.4M1124.1,579.37h3.4M896.4,583.74h3.4M969.5,583.74h3.4M1051,583.74h3.4M1124.1,583.74h3.4M896.4,588.11h3.4M969.5,588.11h3.4M1051,588.11h3.4M1124.1,588.11h3.4M896.4,592.48h3.4M969.5,592.48h3.4M1051,592.48h3.4M1124.1,592.48h3.4M896.4,601.22h3.4M969.5,601.22h3.4M1051,601.22h3.4M1124.1,601.22h3.4M896.4,605.59h3.4M969.5,605.59h3.4M1051,605.59h3.4M1124.1,605.59h3.4M896.4,609.96h3.4M969.5,609.96h3.4M1051,609.96h3.4M1124.1,609.96h3.4M896.4,614.33h3.4M969.5,614.33h3.4M1051,614.33h3.4M1124.1,614.33h3.4M896.4,623.07h3.4M969.5,623.07h3.4M1051,623.07h3.4M1124.1,623.07h3.4M896.4,627.44h3.4M969.5,627.44h3.4M1051,627.44h3.4M1124.1,627.44h3.4M896.4,631.81h3.4M969.5,631.81h3.4M1051,631.81h3.4M1124.1,631.81h3.4M896.4,636.18h3.4M969.5,636.18h3.4M1051,636.18h3.4M1124.1,636.18h3.4M896.4,644.92h3.4M969.5,644.92h3.4M1051,644.92h3.4M1124.1,644.92h3.4M896.4,649.29h3.4M969.5,649.29h3.4M1051,649.29h3.4M1124.1,649.29h3.4M896.4,653.66h3.4M969.5,653.66h3.4M1051,653.66h3.4M1124.1,653.66h3.4M896.4,658.03h3.4M969.5,658.03h3.4M1051,658.03h3.4M1124.1,658.03h3.4M896.4,666.77h3.4M969.5,666.77h3.4M1051,666.77h3.4M1124.1,666.77h3.4M896.4,671.14h3.4M969.5,671.14h3.4M1051,671.14h3.4M1124.1,671.14h3.4M896.4,675.51h3.4M969.5,675.51h3.4M1051,675.51h3.4M1124.1,675.51h3.4M896.4,679.88h3.4M969.5,679.88h3.4M1051,679.88h3.4M1124.1,679.88h3.4" stroke="#bdbdbd" stroke-width="0.8" fill="none"/><text transform="translate(929.8,513.05) rotate(90.04) scale(0.74,1)" font-size="11.2" fill="#d7d7d7" stroke="#d7d7d7" stroke-width="0.75" text-anchor="middle" y="4.05" font-family="Liberation Sans, sans-serif">0</text><text transform="translate(1094.2,513.05) rotate(-89.96) scale(0.74,1)" font-size="11.2" fill="#d7d7d7" stroke="#d7d7d7" stroke-width="0.75" text-anchor="middle" y="4.05" font-family="Liberation Sans, sans-serif">3</text><text transform="translate(929.8,548.85) rotate(90.04) scale(0.74,1)" font-size="11.2" fill="#d7d7d7" stroke="#d7d7d7" stroke-width="0.75" text-anchor="middle" y="4.05" font-family="Liberation Sans, sans-serif">4</text><text transform="translate(929.8,556.75) rotate(90.04) scale(0.74,1)" font-size="11.2" fill="#d7d7d7" stroke="#d7d7d7" stroke-width="0.75" text-anchor="middle" y="4.05" font-family="Liberation Sans, sans-serif">0</text><text transform="translate(1094.2,548.85) rotate(-89.96) scale(0.74,1)" font-size="11.2" fill="#d7d7d7" stroke="#d7d7d7" stroke-width="0.75" text-anchor="middle" y="4.05" font-family="Liberation Sans, sans-serif">0</text><text transform="translate(1094.2,556.75) rotate(-89.96) scale(0.74,1)" font-size="11.2" fill="#d7d7d7" stroke="#d7d7d7" stroke-width="0.75" text-anchor="middle" y="4.05" font-family="Liberation Sans, sans-serif">4</text><path d="M929.8,541.15 l1.2,3 h-2.4z" fill="#dadada"/><path d="M1094.2,541.15 l1.2,3 h-2.4z" fill="#dadada"/><text transform="translate(929.8,592.55) rotate(90.04) scale(0.74,1)" font-size="11.2" fill="#d7d7d7" stroke="#d7d7d7" stroke-width="0.75" text-anchor="middle" y="4.05" font-family="Liberation Sans, sans-serif">5</text><text transform="translate(929.8,600.45) rotate(90.04) scale(0.74,1)" font-size="11.2" fill="#d7d7d7" stroke="#d7d7d7" stroke-width="0.75" text-anchor="middle" y="4.05" font-family="Liberation Sans, sans-serif">0</text><text transform="translate(1094.2,592.55) rotate(-89.96) scale(0.74,1)" font-size="11.2" fill="#d7d7d7" stroke="#d7d7d7" stroke-width="0.75" text-anchor="middle" y="4.05" font-family="Liberation Sans, sans-serif">0</text><text transform="translate(1094.2,600.45) rotate(-89.96) scale(0.74,1)" font-size="11.2" fill="#d7d7d7" stroke="#d7d7d7" stroke-width="0.75" text-anchor="middle" y="4.05" font-family="Liberation Sans, sans-serif">5</text><text transform="translate(929.8,636.25) rotate(90.04) scale(0.74,1)" font-size="11.2" fill="#d7d7d7" stroke="#d7d7d7" stroke-width="0.75" text-anchor="middle" y="4.05" font-family="Liberation Sans, sans-serif">4</text><text transform="translate(929.8,644.15) rotate(90.04) scale(0.74,1)" font-size="11.2" fill="#d7d7d7" stroke="#d7d7d7" stroke-width="0.75" text-anchor="middle" y="4.05" font-family="Liberation Sans, sans-serif">0</text><text transform="translate(1094.2,636.25) rotate(-89.96) scale(0.74,1)" font-size="11.2" fill="#d7d7d7" stroke="#d7d7d7" stroke-width="0.75" text-anchor="middle" y="4.05" font-family="Liberation Sans, sans-serif">0</text><text transform="translate(1094.2,644.15) rotate(-89.96) scale(0.74,1)" font-size="11.2" fill="#d7d7d7" stroke="#d7d7d7" stroke-width="0.75" text-anchor="middle" y="4.05" font-family="Liberation Sans, sans-serif">4</text><path d="M929.8,652.55 l1.2,-3 h-2.4z" fill="#dadada"/><path d="M1094.2,652.55 l1.2,-3 h-2.4z" fill="#dadada"/><text transform="translate(929.8,681.25) rotate(90.04) scale(0.74,1)" font-size="11.2" fill="#d7d7d7" stroke="#d7d7d7" stroke-width="0.75" text-anchor="middle" y="4.05" font-family="Liberation Sans, sans-serif">3</text><text transform="translate(1094.2,681.25) rotate(-89.96) scale(0.74,1)" font-size="11.2" fill="#d7d7d7" stroke="#d7d7d7" stroke-width="0.75" text-anchor="middle" y="4.05" font-family="Liberation Sans, sans-serif">0</text>
<g filter="url(#soft)"><g transform="translate(56,100) scale(0.20202)"><path d="M415,545 C402,520 401,500 401,470 L403,220 L293.39,164.75" fill="none" stroke="#1c1c1c" stroke-width="7.4" stroke-linejoin="round"/><polygon points="280,158 307.28,159.43 297.37,179.08" fill="#1c1c1c"/><path d="M578,545 L585,220 L731.58,146.71" fill="none" stroke="#157ef4" stroke-width="7.4" stroke-linejoin="round"/><polygon points="745,140 727.56,161.02 717.72,141.34" fill="#157ef4"/><mask id="c1k1" maskUnits="userSpaceOnUse" x="0" y="0" width="1200" height="900"><rect width="1200" height="900" fill="#fff"/><path d="M415,545 C402,520 401,500 401,470 L403,220 L280,158" fill="none" stroke="#000" stroke-width="17"/><path d="M578,545 L585,220 L745,140" fill="none" stroke="#000" stroke-width="17"/></mask><g mask="url(#c1k1)"><path d="M270,545 C275,400 380,327 470,327 L685,327" fill="none" stroke="#ff0f2d" stroke-width="7.4" stroke-linejoin="round"/><polygon points="700,327 675,338 675,316" fill="#ff0f2d"/></g><path d="M740,545 C720,480 650,445 580,438" fill="none" stroke="#18b343" stroke-width="7.4" stroke-linejoin="round"/><mask id="c1k2" maskUnits="userSpaceOnUse" x="0" y="0" width="1200" height="900"><rect width="1200" height="900" fill="#fff"/><path d="M578,545 L585,220 L745,140" fill="none" stroke="#000" stroke-width="17"/></mask><g mask="url(#c1k2)"><path d="M545,436 L755,436" fill="none" stroke="#18b343" stroke-width="7.4" stroke-linejoin="round"/><polygon points="770,436 745,447 745,425" fill="#18b343"/></g><path d="M907,590 C890,640 850,657 800,657 L405,657" fill="none" stroke="#18b343" stroke-width="7.4" stroke-linejoin="round"/><polygon points="390,657 415,646 415,668" fill="#18b343"/><path d="M610,714 L800,714 C850,714 880,690 885.06,664.71" fill="none" stroke="#18b343" stroke-width="7.4" stroke-linejoin="round"/><polygon points="888,650 893.88,676.67 872.31,672.36" fill="#18b343"/><path d="M578,615 L578,690" fill="none" stroke="#18b343" stroke-width="5.5" stroke-linejoin="round" stroke-dasharray="11,5,3,5"/><rect x="316.38" y="232.8" width="71.24" height="20.4" fill="#fff" fill-opacity="0.85"/><text transform="translate(352,249.12) rotate(0.25)" font-size="17" font-weight="bold" fill="#1c1c1c" stroke="#1c1c1c" stroke-width="1.3" text-anchor="middle" font-family="Liberation Sans, sans-serif">10 YDS</text><rect x="601.38" y="232.8" width="71.24" height="20.4" fill="#fff" fill-opacity="0.85"/><text transform="translate(637,249.12) rotate(0.25)" font-size="17" font-weight="bold" fill="#157ef4" stroke="#157ef4" stroke-width="1.3" text-anchor="middle" font-family="Liberation Sans, sans-serif">10 YDS</text><rect x="479.38" y="347.8" width="71.24" height="20.4" fill="#fff" fill-opacity="0.85"/><text transform="translate(515,364.12) rotate(0.25)" font-size="17" font-weight="bold" fill="#ff0f2d" stroke="#ff0f2d" stroke-width="1.3" text-anchor="middle" font-family="Liberation Sans, sans-serif">10 YDS</text><rect x="669.65" y="452.8" width="60.7" height="20.4" fill="#fff" fill-opacity="0.85"/><text transform="translate(700,469.12) rotate(0.25)" font-size="17" font-weight="bold" fill="#18b343" stroke="#18b343" stroke-width="1.3" text-anchor="middle" font-family="Liberation Sans, sans-serif">5 YDS</text><ellipse cx="272" cy="567" rx="32" ry="21" fill="#ff0f2d" stroke="#111" stroke-width="7.6"/><text transform="translate(272,579) rotate(0.25)" font-size="34" font-weight="bold" fill="#fff" text-anchor="middle" font-family="Liberation Sans, sans-serif">Z</text><rect x="233.78" y="599.85" width="52.44" height="40.3" fill="#fff" fill-opacity="0.85"/><text transform="translate(260,631.16) rotate(0.25)" font-size="31" font-weight="bold" fill="#111" stroke="#111" stroke-width="1.2" text-anchor="middle" font-family="Liberation Sans, sans-serif">-2</text><ellipse cx="422" cy="566" rx="32" ry="21" fill="#f3b715" stroke="#111" stroke-width="7.6"/><text transform="translate(422,578) rotate(0.25)" font-size="34" font-weight="bold" fill="#111" text-anchor="middle" font-family="Liberation Sans, sans-serif">H</text><rect x="548" y="547" width="60" height="66" fill="#157ef4" stroke="#111" stroke-width="7.6"/><text transform="translate(578,592) rotate(0.25)" font-size="34" font-weight="bold" fill="#fff" text-anchor="middle" font-family="Liberation Sans, sans-serif">C</text><ellipse cx="740" cy="567" rx="32" ry="21" fill="#18b343" stroke="#111" stroke-width="7.6"/><text transform="translate(740,579) rotate(0.25)" font-size="34" font-weight="bold" fill="#fff" text-anchor="middle" font-family="Liberation Sans, sans-serif">F</text><ellipse cx="907" cy="567" rx="32" ry="21" fill="#18b343" stroke="#111" stroke-width="7.6"/><text transform="translate(907,579) rotate(0.25)" font-size="34" font-weight="bold" fill="#fff" text-anchor="middle" font-family="Liberation Sans, sans-serif">X</text><ellipse cx="578" cy="712" rx="32" ry="21" fill="#18b343" stroke="#111" stroke-width="7.6"/><text transform="translate(578,724) rotate(0.25)" font-size="34" font-weight="bold" fill="#fff" text-anchor="middle" font-family="Liberation Sans, sans-serif">Q</text><rect x="521" y="210" width="44" height="44" fill="#157ef4"/><text transform="translate(543,238) rotate(0.25)" font-size="17" font-weight="bold" fill="#fff" text-anchor="middle" font-family="Liberation Sans, sans-serif">2</text><rect x="713" y="314" width="44" height="44" fill="#ff0f2d"/><text transform="translate(735,342) rotate(0.25)" font-size="17" font-weight="bold" fill="#fff" text-anchor="middle" font-family="Liberation Sans, sans-serif">3</text><rect x="783" y="418" width="44" height="44" fill="#18b343"/><text transform="translate(805,446) rotate(0.25)" font-size="17" font-weight="bold" fill="#fff" text-anchor="middle" font-family="Liberation Sans, sans-serif">1</text><rect x="336" y="633" width="44" height="44" fill="#18b343"/><text transform="translate(358,661) rotate(0.25)" font-size="17" font-weight="bold" fill="#fff" text-anchor="middle" font-family="Liberation Sans, sans-serif">1</text><rect x="910" y="667" width="44" height="44" fill="#18b343"/><text transform="translate(932,695) rotate(0.25)" font-size="17" font-weight="bold" fill="#fff" text-anchor="middle" font-family="Liberation Sans, sans-serif">1</text><rect x="852" y="180" width="136" height="125" fill="#6c6c6c"/><text transform="translate(920,207.5) rotate(0.25)" font-size="15.5" font-weight="bold" fill="#fff" stroke="#fff" stroke-width="0.3" text-anchor="middle" font-family="Liberation Sans, sans-serif">X = JET</text><text transform="translate(920,228.5) rotate(0.25)" font-size="15.5" font-weight="bold" fill="#fff" stroke="#fff" stroke-width="0.3" text-anchor="middle" font-family="Liberation Sans, sans-serif">F = RETURN</text><text transform="translate(920,249.5) rotate(0.25)" font-size="15.5" font-weight="bold" fill="#fff" stroke="#fff" stroke-width="0.3" text-anchor="middle" font-family="Liberation Sans, sans-serif">C = CORNER</text><text transform="translate(920,270.5) rotate(0.25)" font-size="15.5" font-weight="bold" fill="#fff" stroke="#fff" stroke-width="0.3" text-anchor="middle" font-family="Liberation Sans, sans-serif">H = CORNER</text><text transform="translate(920,291.5) rotate(0.25)" font-size="15.5" font-weight="bold" fill="#fff" stroke="#fff" stroke-width="0.3" text-anchor="middle" font-family="Liberation Sans, sans-serif">Z = DRAG</text></g><g transform="translate(292,100) scale(0.20202)"><path d="M415,548 L460,520 L460,330 L696.23,227.95" fill="none" stroke="#18b343" stroke-width="7.4" stroke-linejoin="round"/><polygon points="710,222 691.41,242.01 682.69,221.82" fill="#18b343"/><path d="M595,545 C590,470 550,420 480,415" fill="none" stroke="#157ef4" stroke-width="7.4" stroke-linejoin="round"/><path d="M480,415 L593,415" fill="none" stroke="#157ef4" stroke-width="7.4" stroke-linejoin="round"/><polygon points="608,415 583,426 583,404" fill="#157ef4"/><path d="M748,545 C745,470 710,425 650,418" fill="none" stroke="#18b343" stroke-width="7.4" stroke-linejoin="round"/><path d="M650,418 L757,418" fill="none" stroke="#18b343" stroke-width="7.4" stroke-linejoin="round"/><polygon points="772,418 747,429 747,407" fill="#18b343"/><path d="M515,632 L340,632 C270,632 215,590 202.76,524.74" fill="none" stroke="#1c1c1c" stroke-width="7.4" stroke-linejoin="round"/><polygon points="200,510 215.42,532.54 193.8,536.6" fill="#1c1c1c"/><path d="M383,618 L383,646 M393,618 L393,646" stroke="#1c1c1c" stroke-width="5.5"/><path d="M415,703 C500,745 620,745 691.55,709.64" fill="none" stroke="#ff0f2d" stroke-width="7.4" stroke-linejoin="round"/><polygon points="705,703 687.46,723.94 677.71,704.21" fill="#ff0f2d"/><path d="M895,590 C895,700 800,758 680,758 L277,758" fill="none" stroke="#1c1c1c" stroke-width="7.4" stroke-linejoin="round"/><polygon points="262,758 287,747 287,769" fill="#1c1c1c"/><rect x="472.38" y="341.8" width="71.24" height="20.4" fill="#fff" fill-opacity="0.85"/><text transform="translate(508,358.12) rotate(0.25)" font-size="17" font-weight="bold" fill="#18b343" stroke="#18b343" stroke-width="1.3" text-anchor="middle" font-family="Liberation Sans, sans-serif">10 YDS</text><rect x="519.65" y="387.8" width="60.7" height="20.4" fill="#fff" fill-opacity="0.85"/><text transform="translate(550,404.12) rotate(0.25)" font-size="17" font-weight="bold" fill="#157ef4" stroke="#157ef4" stroke-width="1.3" text-anchor="middle" font-family="Liberation Sans, sans-serif">4 YDS</text><rect x="699.65" y="377.8" width="60.7" height="20.4" fill="#fff" fill-opacity="0.85"/><text transform="translate(730,394.12) rotate(0.25)" font-size="17" font-weight="bold" fill="#18b343" stroke="#18b343" stroke-width="1.3" text-anchor="middle" font-family="Liberation Sans, sans-serif">4 YDS</text><rect x="348.7" y="547.7" width="62.6" height="40.6" fill="#18b343" stroke="#111" stroke-width="7.6"/><text transform="translate(380,580) rotate(0.25)" font-size="34" font-weight="bold" fill="#fff" text-anchor="middle" font-family="Liberation Sans, sans-serif">C</text><ellipse cx="590" cy="567" rx="32" ry="21" fill="#157ef4" stroke="#111" stroke-width="7.6"/><text transform="translate(590,579) rotate(0.25)" font-size="34" font-weight="bold" fill="#fff" text-anchor="middle" font-family="Liberation Sans, sans-serif">X</text><ellipse cx="748" cy="567" rx="32" ry="21" fill="#18b343" stroke="#111" stroke-width="7.6"/><text transform="translate(748,579) rotate(0.25)" font-size="34" font-weight="bold" fill="#fff" text-anchor="middle" font-family="Liberation Sans, sans-serif">F</text><ellipse cx="892" cy="567" rx="32" ry="21" fill="#f3b715" stroke="#111" stroke-width="7.6"/><text transform="translate(892,579) rotate(0.25)" font-size="34" font-weight="bold" fill="#111" text-anchor="middle" font-family="Liberation Sans, sans-serif">H</text><rect x="876.63" y="490.45" width="30.74" height="35.1" fill="#fff" fill-opacity="0.85"/><text transform="translate(892,517.72) rotate(0.25)" font-size="27" font-weight="bold" fill="#111" stroke="#111" stroke-width="1.2" text-anchor="middle" font-family="Liberation Sans, sans-serif">B</text><ellipse cx="545" cy="632" rx="32" ry="21" fill="#f3b715" stroke="#111" stroke-width="7.6"/><text transform="translate(545,644) rotate(0.25)" font-size="34" font-weight="bold" fill="#111" text-anchor="middle" font-family="Liberation Sans, sans-serif">H</text><ellipse cx="390" cy="683" rx="32" ry="21" fill="#ff0f2d" stroke="#111" stroke-width="7.6"/><text transform="translate(390,695) rotate(0.25)" font-size="34" font-weight="bold" fill="#fff" text-anchor="middle" font-family="Liberation Sans, sans-serif">Q</text><rect x="725" y="204" width="44" height="44" fill="#18b343"/><text transform="translate(747,232) rotate(0.25)" font-size="17" font-weight="bold" fill="#fff" text-anchor="middle" font-family="Liberation Sans, sans-serif">1</text><rect x="614" y="360" width="44" height="44" fill="#157ef4"/><text transform="translate(636,388) rotate(0.25)" font-size="17" font-weight="bold" fill="#fff" text-anchor="middle" font-family="Liberation Sans, sans-serif">2</text><rect x="806" y="360" width="44" height="44" fill="#18b343"/><text transform="translate(828,388) rotate(0.25)" font-size="17" font-weight="bold" fill="#fff" text-anchor="middle" font-family="Liberation Sans, sans-serif">1</text><rect x="725" y="680" width="44" height="44" fill="#ff0f2d"/><text transform="translate(747,708) rotate(0.25)" font-size="17" font-weight="bold" fill="#fff" text-anchor="middle" font-family="Liberation Sans, sans-serif">3</text><rect x="188" y="228" width="192" height="124" fill="#6c6c6c"/><text transform="translate(284,255) rotate(0.25)" font-size="15.5" font-weight="bold" fill="#fff" stroke="#fff" stroke-width="0.3" text-anchor="middle" font-family="Liberation Sans, sans-serif">F = RETURN</text><text transform="translate(284,276) rotate(0.25)" font-size="15.5" font-weight="bold" fill="#fff" stroke="#fff" stroke-width="0.3" text-anchor="middle" font-family="Liberation Sans, sans-serif">C = CORNER</text><text transform="translate(284,297) rotate(0.25)" font-size="15.5" font-weight="bold" fill="#fff" stroke="#fff" stroke-width="0.3" text-anchor="middle" font-family="Liberation Sans, sans-serif">X = RETURN</text><text transform="translate(284,318) rotate(0.25)" font-size="15.5" font-weight="bold" fill="#fff" stroke="#fff" stroke-width="0.3" text-anchor="middle" font-family="Liberation Sans, sans-serif">Z = AROUND FAKE</text><text transform="translate(284,339) rotate(0.25)" font-size="15.5" font-weight="bold" fill="#fff" stroke="#fff" stroke-width="0.3" text-anchor="middle" font-family="Liberation Sans, sans-serif">H = WEAK SIDE RUN</text></g><g transform="translate(56,293) scale(0.20202)"><path d="M325,550 L360,530 L360,400 C360,350 400,332 505,330.25" fill="none" stroke="#ff0f2d" stroke-width="7.4" stroke-linejoin="round"/><polygon points="520,330 495.19,341.42 494.82,319.42" fill="#ff0f2d"/><path d="M556,545 L552,295 L694.48,226.5" fill="none" stroke="#157ef4" stroke-width="7.4" stroke-linejoin="round"/><polygon points="708,220 690.23,240.75 680.7,220.92" fill="#157ef4"/><path d="M872,570 L738,570" fill="none" stroke="#18b343" stroke-width="7.4" stroke-linejoin="round" stroke-dasharray="10,6"/><path d="M738,570 L640,425 C628,408 608,420 618,435 C626,444 690,438 733,438" fill="none" stroke="#18b343" stroke-width="7.4" stroke-linejoin="round"/><polygon points="748,438 723,449 723,427" fill="#18b343"/><path d="M385,668 C300,665 150,600 115.54,399.78" fill="none" stroke="#1c1c1c" stroke-width="7.4" stroke-linejoin="round"/><polygon points="113,385 128.08,407.77 106.4,411.5" fill="#1c1c1c"/><path d="M682,664 L540,664 C480,664 435,620 424.35,552.81" fill="none" stroke="#1c1c1c" stroke-width="7.4" stroke-linejoin="round"/><polygon points="422,538 436.78,560.97 415.05,564.41" fill="#1c1c1c"/><path d="M551,650 L551,678 M561,650 L561,678" stroke="#1c1c1c" stroke-width="5.5"/><path d="M578,728 C640,775 740,775 792.23,742.86" fill="none" stroke="#18b343" stroke-width="7.4" stroke-linejoin="round"/><polygon points="805,735 789.47,757.47 777.94,738.73" fill="#18b343"/><rect x="426.38" y="291.8" width="71.24" height="20.4" fill="#fff" fill-opacity="0.85"/><text transform="translate(462,308.12) rotate(0.25)" font-size="17" font-weight="bold" fill="#ff0f2d" stroke="#ff0f2d" stroke-width="1.3" text-anchor="middle" font-family="Liberation Sans, sans-serif">10 YDS</text><rect x="589.38" y="291.8" width="71.24" height="20.4" fill="#fff" fill-opacity="0.85"/><text transform="translate(625,308.12) rotate(0.25)" font-size="17" font-weight="bold" fill="#157ef4" stroke="#157ef4" stroke-width="1.3" text-anchor="middle" font-family="Liberation Sans, sans-serif">10 YDS</text><rect x="674.65" y="397.8" width="60.7" height="20.4" fill="#fff" fill-opacity="0.85"/><text transform="translate(705,414.12) rotate(0.25)" font-size="17" font-weight="bold" fill="#18b343" stroke="#18b343" stroke-width="1.3" text-anchor="middle" font-family="Liberation Sans, sans-serif">5 YDS</text><ellipse cx="300" cy="568" rx="32" ry="21" fill="#ff0f2d" stroke="#111" stroke-width="7.6"/><text transform="translate(300,580) rotate(0.25)" font-size="34" font-weight="bold" fill="#fff" text-anchor="middle" font-family="Liberation Sans, sans-serif">X</text><rect x="283.39" y="601.85" width="33.22" height="40.3" fill="#fff" fill-opacity="0.85"/><text transform="translate(300,633.16) rotate(0.25)" font-size="31" font-weight="bold" fill="#111" stroke="#111" stroke-width="1.2" text-anchor="middle" font-family="Liberation Sans, sans-serif">C</text><ellipse cx="410" cy="672" rx="32" ry="21" fill="#f3b715" stroke="#111" stroke-width="7.6"/><text transform="translate(410,684) rotate(0.25)" font-size="34" font-weight="bold" fill="#111" text-anchor="middle" font-family="Liberation Sans, sans-serif">F</text><rect x="524.7" y="554.7" width="62.6" height="40.6" fill="#157ef4" stroke="#111" stroke-width="7.6"/><text transform="translate(556,587) rotate(0.25)" font-size="34" font-weight="bold" fill="#fff" text-anchor="middle" font-family="Liberation Sans, sans-serif">C</text><ellipse cx="556" cy="707" rx="32" ry="21" fill="#18b343" stroke="#111" stroke-width="7.6"/><text transform="translate(556,719) rotate(0.25)" font-size="34" font-weight="bold" fill="#fff" text-anchor="middle" font-family="Liberation Sans, sans-serif">Q</text><ellipse cx="712" cy="664" rx="32" ry="21" fill="#f3b715" stroke="#111" stroke-width="7.6"/><text transform="translate(712,676) rotate(0.25)" font-size="34" font-weight="bold" fill="#111" text-anchor="middle" font-family="Liberation Sans, sans-serif">H</text><ellipse cx="906" cy="568" rx="32" ry="21" fill="#18b343" stroke="#111" stroke-width="7.6"/><text transform="translate(906,580) rotate(0.25)" font-size="34" font-weight="bold" fill="#fff" text-anchor="middle" font-family="Liberation Sans, sans-serif">Z</text><rect x="475" y="351" width="44" height="44" fill="#ff0f2d"/><text transform="translate(497,379) rotate(0.25)" font-size="17" font-weight="bold" fill="#fff" text-anchor="middle" font-family="Liberation Sans, sans-serif">3</text><rect x="735" y="193" width="44" height="44" fill="#157ef4"/><text transform="translate(757,221) rotate(0.25)" font-size="17" font-weight="bold" fill="#fff" text-anchor="middle" font-family="Liberation Sans, sans-serif">2</text><rect x="765" y="418" width="44" height="44" fill="#18b343"/><text transform="translate(787,446) rotate(0.25)" font-size="17" font-weight="bold" fill="#fff" text-anchor="middle" font-family="Liberation Sans, sans-serif">1</text><rect x="806" y="673" width="44" height="44" fill="#18b343"/><text transform="translate(828,701) rotate(0.25)" font-size="17" font-weight="bold" fill="#fff" text-anchor="middle" font-family="Liberation Sans, sans-serif">1</text><rect x="180" y="228" width="125" height="124" fill="#6c6c6c"/><text transform="translate(242.5,255) rotate(0.25)" font-size="15.5" font-weight="bold" fill="#fff" stroke="#fff" stroke-width="0.3" text-anchor="middle" font-family="Liberation Sans, sans-serif">X = OVER</text><text transform="translate(242.5,276) rotate(0.25)" font-size="15.5" font-weight="bold" fill="#fff" stroke="#fff" stroke-width="0.3" text-anchor="middle" font-family="Liberation Sans, sans-serif">F = WHEEL</text><text transform="translate(242.5,297) rotate(0.25)" font-size="15.5" font-weight="bold" fill="#fff" stroke="#fff" stroke-width="0.3" text-anchor="middle" font-family="Liberation Sans, sans-serif">C = CORNER</text><text transform="translate(242.5,318) rotate(0.25)" font-size="15.5" font-weight="bold" fill="#fff" stroke="#fff" stroke-width="0.3" text-anchor="middle" font-family="Liberation Sans, sans-serif">H = SWEEP</text><text transform="translate(242.5,339) rotate(0.25)" font-size="15.5" font-weight="bold" fill="#fff" stroke="#fff" stroke-width="0.3" text-anchor="middle" font-family="Liberation Sans, sans-serif">Z = RETURN</text></g><g transform="translate(292,293) scale(0.20202)"><path d="M318,572 L340,555 L340,330 L471.16,250.76" fill="none" stroke="#1c1c1c" stroke-width="7.4" stroke-linejoin="round"/><polygon points="484,243 468.29,265.34 456.91,246.51" fill="#1c1c1c"/><mask id="c4k3" maskUnits="userSpaceOnUse" x="0" y="0" width="1200" height="900"><rect width="1200" height="900" fill="#fff"/><path d="M665,545 L668,295 L823,240" fill="none" stroke="#000" stroke-width="17"/></mask><g mask="url(#c4k3)"><path d="M388,545 C390,470 430,436 480,436 L730,436" fill="none" stroke="#ff0f2d" stroke-width="7.4" stroke-linejoin="round"/><polygon points="745,436 720,447 720,425" fill="#ff0f2d"/></g><path d="M665,545 L668,295 L808.86,245.02" fill="none" stroke="#157ef4" stroke-width="7.4" stroke-linejoin="round"/><polygon points="823,240 803.12,258.73 795.76,237.99" fill="#157ef4"/><path d="M495,603 L790,603 C850,603 885,570 887.4,509.99" fill="none" stroke="#18b343" stroke-width="7.4" stroke-linejoin="round"/><polygon points="888,495 897.99,520.42 876.01,519.54" fill="#18b343"/><path d="M940,598 C930,640 890,657 830,657 L413,657" fill="none" stroke="#1c1c1c" stroke-width="7.4" stroke-linejoin="round"/><polygon points="398,657 423,646 423,668" fill="#1c1c1c"/><path d="M692,707 L940,707 C990,707 1015,680 1019.69,649.82" fill="none" stroke="#18b343" stroke-width="7.4" stroke-linejoin="round"/><polygon points="1022,635 1029.03,661.39 1007.29,658.01" fill="#18b343"/><path d="M780,615 L800,705" fill="none" stroke="#18b343" stroke-width="6" stroke-linejoin="round" stroke-dasharray="10,6"/><rect x="249.38" y="343.8" width="71.24" height="20.4" fill="#fff" fill-opacity="0.85"/><text transform="translate(285,360.12) rotate(0.25)" font-size="17" font-weight="bold" fill="#1c1c1c" stroke="#1c1c1c" stroke-width="1.3" text-anchor="middle" font-family="Liberation Sans, sans-serif">10 YDS</text><rect x="514.65" y="407.8" width="60.7" height="20.4" fill="#fff" fill-opacity="0.85"/><text transform="translate(545,424.12) rotate(0.25)" font-size="17" font-weight="bold" fill="#ff0f2d" stroke="#ff0f2d" stroke-width="1.3" text-anchor="middle" font-family="Liberation Sans, sans-serif">5 YDS</text><rect x="577.38" y="297.8" width="71.24" height="20.4" fill="#fff" fill-opacity="0.85"/><text transform="translate(613,314.12) rotate(0.25)" font-size="17" font-weight="bold" fill="#157ef4" stroke="#157ef4" stroke-width="1.3" text-anchor="middle" font-family="Liberation Sans, sans-serif">10 YDS</text><ellipse cx="300" cy="592" rx="32" ry="21" fill="#f3b715" stroke="#111" stroke-width="7.6"/><text transform="translate(300,604) rotate(0.25)" font-size="34" font-weight="bold" fill="#111" text-anchor="middle" font-family="Liberation Sans, sans-serif">Z</text><ellipse cx="388" cy="568" rx="32" ry="21" fill="#ff0f2d" stroke="#111" stroke-width="7.6"/><text transform="translate(388,580) rotate(0.25)" font-size="34" font-weight="bold" fill="#fff" text-anchor="middle" font-family="Liberation Sans, sans-serif">F</text><ellipse cx="463" cy="603" rx="32" ry="21" fill="#18b343" stroke="#111" stroke-width="7.6"/><text transform="translate(463,615) rotate(0.25)" font-size="34" font-weight="bold" fill="#fff" text-anchor="middle" font-family="Liberation Sans, sans-serif">H</text><rect x="633.7" y="547.7" width="62.6" height="40.6" fill="#157ef4" stroke="#111" stroke-width="7.6"/><text transform="translate(665,580) rotate(0.25)" font-size="34" font-weight="bold" fill="#fff" text-anchor="middle" font-family="Liberation Sans, sans-serif">C</text><ellipse cx="943" cy="575" rx="32" ry="21" fill="#f3b715" stroke="#111" stroke-width="7.6"/><text transform="translate(943,587) rotate(0.25)" font-size="34" font-weight="bold" fill="#111" text-anchor="middle" font-family="Liberation Sans, sans-serif">X</text><rect x="911.78" y="501.85" width="52.44" height="40.3" fill="#fff" fill-opacity="0.85"/><text transform="translate(938,533.16) rotate(0.25)" font-size="31" font-weight="bold" fill="#111" stroke="#111" stroke-width="1.2" text-anchor="middle" font-family="Liberation Sans, sans-serif">-2</text><ellipse cx="660" cy="707" rx="32" ry="21" fill="#18b343" stroke="#111" stroke-width="7.6"/><text transform="translate(660,719) rotate(0.25)" font-size="34" font-weight="bold" fill="#fff" text-anchor="middle" font-family="Liberation Sans, sans-serif">Q</text><rect x="760" y="418" width="44" height="44" fill="#ff0f2d"/><text transform="translate(782,446) rotate(0.25)" font-size="17" font-weight="bold" fill="#fff" text-anchor="middle" font-family="Liberation Sans, sans-serif">3</text><rect x="841" y="221" width="44" height="44" fill="#157ef4"/><text transform="translate(863,249) rotate(0.25)" font-size="17" font-weight="bold" fill="#fff" text-anchor="middle" font-family="Liberation Sans, sans-serif">2</text><rect x="864" y="443" width="44" height="44" fill="#18b343"/><text transform="translate(886,471) rotate(0.25)" font-size="17" font-weight="bold" fill="#fff" text-anchor="middle" font-family="Liberation Sans, sans-serif">1</text><rect x="1038" y="576" width="44" height="44" fill="#18b343"/><text transform="translate(1060,604) rotate(0.25)" font-size="17" font-weight="bold" fill="#fff" text-anchor="middle" font-family="Liberation Sans, sans-serif">1</text><rect x="125" y="664" width="132" height="124" fill="#6c6c6c"/><text transform="translate(191,691) rotate(0.25)" font-size="15.5" font-weight="bold" fill="#fff" stroke="#fff" stroke-width="0.3" text-anchor="middle" font-family="Liberation Sans, sans-serif">X = AROUND</text><text transform="translate(191,712) rotate(0.25)" font-size="15.5" font-weight="bold" fill="#fff" stroke="#fff" stroke-width="0.3" text-anchor="middle" font-family="Liberation Sans, sans-serif">C = CORNER</text><text transform="translate(191,733) rotate(0.25)" font-size="15.5" font-weight="bold" fill="#fff" stroke="#fff" stroke-width="0.3" text-anchor="middle" font-family="Liberation Sans, sans-serif">H = UNDER</text><text transform="translate(191,754) rotate(0.25)" font-size="15.5" font-weight="bold" fill="#fff" stroke="#fff" stroke-width="0.3" text-anchor="middle" font-family="Liberation Sans, sans-serif">F = DRAG</text><text transform="translate(191,775) rotate(0.25)" font-size="15.5" font-weight="bold" fill="#fff" stroke="#fff" stroke-width="0.3" text-anchor="middle" font-family="Liberation Sans, sans-serif">Z = POST</text></g><g transform="translate(56,486) scale(0.20202)"><path d="M515,548 L552,490 L552,292 L700.71,244.56" fill="none" stroke="#18b343" stroke-width="7.4" stroke-linejoin="round"/><polygon points="715,240 694.53,258.08 687.84,237.12" fill="#18b343"/><mask id="c5k4" maskUnits="userSpaceOnUse" x="0" y="0" width="1200" height="900"><rect width="1200" height="900" fill="#fff"/><path d="M515,548 L552,490 L552,292 L715,240" fill="none" stroke="#000" stroke-width="17"/></mask><g mask="url(#c5k4)"><path d="M930,545 C910,430 820,372 700,372 L460,372" fill="none" stroke="#157ef4" stroke-width="7.4" stroke-linejoin="round"/><polygon points="445,372 470,361 470,383" fill="#157ef4"/></g><path d="M850,548 C840,480 780,430 700,425 L650,425" fill="none" stroke="#157ef4" stroke-width="7.4" stroke-linejoin="round"/><path d="M650,425 L797,425" fill="none" stroke="#157ef4" stroke-width="7.4" stroke-linejoin="round"/><polygon points="812,425 787,436 787,414" fill="#157ef4"/><circle cx="650" cy="425" r="8" fill="#157ef4"/><path d="M787,575 C770,510 700,465 600,460 L455,460" fill="none" stroke="#18b343" stroke-width="7.4" stroke-linejoin="round"/><polygon points="440,460 465,449 465,471" fill="#18b343"/><path d="M285,595 C300,700 400,745 500,748 L700,752 C780,752 820,720 841,692" fill="none" stroke="#ff0f2d" stroke-width="7.4" stroke-linejoin="round"/><polygon points="850,680 843.8,706.6 826.2,693.4" fill="#ff0f2d"/><rect x="461.38" y="277.8" width="71.24" height="20.4" fill="#fff" fill-opacity="0.85"/><text transform="translate(497,294.12) rotate(0.25)" font-size="17" font-weight="bold" fill="#18b343" stroke="#18b343" stroke-width="1.3" text-anchor="middle" font-family="Liberation Sans, sans-serif">10 YDS</text><rect x="594.65" y="343.8" width="60.7" height="20.4" fill="#fff" fill-opacity="0.85"/><text transform="translate(625,360.12) rotate(0.25)" font-size="17" font-weight="bold" fill="#157ef4" stroke="#157ef4" stroke-width="1.3" text-anchor="middle" font-family="Liberation Sans, sans-serif">5 YDS</text><rect x="664.65" y="395.8" width="60.7" height="20.4" fill="#fff" fill-opacity="0.85"/><text transform="translate(695,412.12) rotate(0.25)" font-size="17" font-weight="bold" fill="#157ef4" stroke="#157ef4" stroke-width="1.3" text-anchor="middle" font-family="Liberation Sans, sans-serif">4 YDS</text><rect x="572.65" y="436.8" width="60.7" height="20.4" fill="#fff" fill-opacity="0.85"/><text transform="translate(603,453.12) rotate(0.25)" font-size="17" font-weight="bold" fill="#18b343" stroke="#18b343" stroke-width="1.3" text-anchor="middle" font-family="Liberation Sans, sans-serif">4 YDS</text><path d="M497,697 L497,728" stroke="#111" stroke-width="6"/><circle cx="497" cy="728" r="8" fill="#111"/><ellipse cx="285" cy="572" rx="32" ry="21" fill="#ff0f2d" stroke="#111" stroke-width="7.6"/><text transform="translate(285,584) rotate(0.25)" font-size="34" font-weight="bold" fill="#fff" text-anchor="middle" font-family="Liberation Sans, sans-serif">X</text><rect x="258.78" y="501.85" width="52.44" height="40.3" fill="#fff" fill-opacity="0.85"/><text transform="translate(285,533.16) rotate(0.25)" font-size="31" font-weight="bold" fill="#111" stroke="#111" stroke-width="1.2" text-anchor="middle" font-family="Liberation Sans, sans-serif">-2</text><rect x="465.7" y="551.7" width="62.6" height="40.6" fill="#18b343" stroke="#111" stroke-width="7.6"/><text transform="translate(497,584) rotate(0.25)" font-size="34" font-weight="bold" fill="#fff" text-anchor="middle" font-family="Liberation Sans, sans-serif">C</text><ellipse cx="497" cy="676" rx="32" ry="21" fill="#686868" stroke="#111" stroke-width="7.6"/><text transform="translate(497,688) rotate(0.25)" font-size="34" font-weight="bold" fill="#fff" text-anchor="middle" font-family="Liberation Sans, sans-serif">Q</text><ellipse cx="787" cy="598" rx="32" ry="21" fill="#18b343" stroke="#111" stroke-width="7.6"/><text transform="translate(787,610) rotate(0.25)" font-size="34" font-weight="bold" fill="#fff" text-anchor="middle" font-family="Liberation Sans, sans-serif">H</text><ellipse cx="850" cy="572" rx="32" ry="21" fill="#157ef4" stroke="#111" stroke-width="7.6"/><text transform="translate(850,584) rotate(0.25)" font-size="34" font-weight="bold" fill="#fff" text-anchor="middle" font-family="Liberation Sans, sans-serif">F</text><ellipse cx="928" cy="570" rx="32" ry="21" fill="#157ef4" stroke="#111" stroke-width="7.6"/><text transform="translate(928,582) rotate(0.25)" font-size="34" font-weight="bold" fill="#fff" text-anchor="middle" font-family="Liberation Sans, sans-serif">Z</text><rect x="735" y="224" width="44" height="44" fill="#18b343"/><text transform="translate(757,252) rotate(0.25)" font-size="17" font-weight="bold" fill="#fff" text-anchor="middle" font-family="Liberation Sans, sans-serif">1</text><rect x="390" y="350" width="44" height="44" fill="#157ef4"/><text transform="translate(412,378) rotate(0.25)" font-size="17" font-weight="bold" fill="#fff" text-anchor="middle" font-family="Liberation Sans, sans-serif">2</text><rect x="881" y="396" width="44" height="44" fill="#157ef4"/><text transform="translate(903,424) rotate(0.25)" font-size="17" font-weight="bold" fill="#fff" text-anchor="middle" font-family="Liberation Sans, sans-serif">2</text><rect x="385" y="438" width="44" height="44" fill="#18b343"/><text transform="translate(407,466) rotate(0.25)" font-size="17" font-weight="bold" fill="#fff" text-anchor="middle" font-family="Liberation Sans, sans-serif">1</text><rect x="868" y="652" width="44" height="44" fill="#ff0f2d"/><text transform="translate(890,680) rotate(0.25)" font-size="17" font-weight="bold" fill="#fff" text-anchor="middle" font-family="Liberation Sans, sans-serif">3</text><rect x="207" y="312" width="128" height="123" fill="#6c6c6c"/><text transform="translate(271,338.5) rotate(0.25)" font-size="15.5" font-weight="bold" fill="#fff" stroke="#fff" stroke-width="0.3" text-anchor="middle" font-family="Liberation Sans, sans-serif">X = AROUND</text><text transform="translate(271,359.5) rotate(0.25)" font-size="15.5" font-weight="bold" fill="#fff" stroke="#fff" stroke-width="0.3" text-anchor="middle" font-family="Liberation Sans, sans-serif">F = RETURN</text><text transform="translate(271,380.5) rotate(0.25)" font-size="15.5" font-weight="bold" fill="#fff" stroke="#fff" stroke-width="0.3" text-anchor="middle" font-family="Liberation Sans, sans-serif">C = CORNER</text><text transform="translate(271,401.5) rotate(0.25)" font-size="15.5" font-weight="bold" fill="#fff" stroke="#fff" stroke-width="0.3" text-anchor="middle" font-family="Liberation Sans, sans-serif">H = DRAG</text><text transform="translate(271,422.5) rotate(0.25)" font-size="15.5" font-weight="bold" fill="#fff" stroke="#fff" stroke-width="0.3" text-anchor="middle" font-family="Liberation Sans, sans-serif">Z = OVER</text></g><g transform="translate(292,486) scale(0.20202)"><mask id="c6k5" maskUnits="userSpaceOnUse" x="0" y="0" width="1200" height="900"><rect width="1200" height="900" fill="#fff"/><path d="M288,548 L288,290 L405,228" fill="none" stroke="#000" stroke-width="17"/></mask><g mask="url(#c6k5)"><path d="M490,565 C430,540 400,500 400,430 C400,370 370,332 300,332 L260,332" fill="none" stroke="#157ef4" stroke-width="7.4" stroke-linejoin="round"/><polygon points="245,332 270,321 270,343" fill="#157ef4"/></g><mask id="c6k6" maskUnits="userSpaceOnUse" x="0" y="0" width="1200" height="900"><rect width="1200" height="900" fill="#fff"/><path d="M890,548 L890,290 L790,240" fill="none" stroke="#000" stroke-width="17"/></mask><g mask="url(#c6k6)"><path d="M695,565 C755,540 780,500 780,430 C780,370 810,332 880,332 L920,332" fill="none" stroke="#157ef4" stroke-width="7.4" stroke-linejoin="round"/><polygon points="935,332 910,343 910,321" fill="#157ef4"/></g><path d="M288,548 L288,290 L391.75,235.02" fill="none" stroke="#18b343" stroke-width="7.4" stroke-linejoin="round"/><polygon points="405,228 388.06,249.43 377.76,229.99" fill="#18b343"/><path d="M890,548 L890,290 L803.42,246.71" fill="none" stroke="#18b343" stroke-width="7.4" stroke-linejoin="round"/><polygon points="790,240 817.28,241.34 807.44,261.02" fill="#18b343"/><path d="M590,548 L589.5,446" fill="none" stroke="#ff0f2d" stroke-width="7.4" stroke-linejoin="round"/><circle cx="589.5" cy="446" r="7.5" fill="#ff0f2d"/><path d="M570.5,446 L551.5,446" stroke="#ff0f2d" stroke-width="6"/><polygon points="537.5,446 554.5,436 554.5,456" fill="#ff0f2d"/><path d="M608.5,446 L627.5,446" stroke="#ff0f2d" stroke-width="6"/><polygon points="641.5,446 624.5,456 624.5,436" fill="#ff0f2d"/><rect x="196.38" y="282.8" width="71.24" height="20.4" fill="#fff" fill-opacity="0.85"/><text transform="translate(232,299.12) rotate(0.25)" font-size="17" font-weight="bold" fill="#18b343" stroke="#18b343" stroke-width="1.3" text-anchor="middle" font-family="Liberation Sans, sans-serif">10 YDS</text><rect x="892.38" y="282.8" width="71.24" height="20.4" fill="#fff" fill-opacity="0.85"/><text transform="translate(928,299.12) rotate(0.25)" font-size="17" font-weight="bold" fill="#18b343" stroke="#18b343" stroke-width="1.3" text-anchor="middle" font-family="Liberation Sans, sans-serif">10 YDS</text><rect x="389.38" y="344.8" width="71.24" height="20.4" fill="#fff" fill-opacity="0.85"/><text transform="translate(425,361.12) rotate(0.25)" font-size="17" font-weight="bold" fill="#157ef4" stroke="#157ef4" stroke-width="1.3" text-anchor="middle" font-family="Liberation Sans, sans-serif">10 YDS</text><rect x="716.38" y="334.8" width="71.24" height="20.4" fill="#fff" fill-opacity="0.85"/><text transform="translate(752,351.12) rotate(0.25)" font-size="17" font-weight="bold" fill="#157ef4" stroke="#157ef4" stroke-width="1.3" text-anchor="middle" font-family="Liberation Sans, sans-serif">10 YDS</text><rect x="659.65" y="432.8" width="60.7" height="20.4" fill="#fff" fill-opacity="0.85"/><text transform="translate(690,449.12) rotate(0.25)" font-size="17" font-weight="bold" fill="#ff0f2d" stroke="#ff0f2d" stroke-width="1.3" text-anchor="middle" font-family="Liberation Sans, sans-serif">5 YDS</text><ellipse cx="288" cy="570" rx="32" ry="21" fill="#18b343" stroke="#111" stroke-width="7.6"/><text transform="translate(288,582) rotate(0.25)" font-size="34" font-weight="bold" fill="#fff" text-anchor="middle" font-family="Liberation Sans, sans-serif">X</text><rect x="271.39" y="601.85" width="33.22" height="40.3" fill="#fff" fill-opacity="0.85"/><text transform="translate(288,633.16) rotate(0.25)" font-size="31" font-weight="bold" fill="#111" stroke="#111" stroke-width="1.2" text-anchor="middle" font-family="Liberation Sans, sans-serif">C</text><ellipse cx="515" cy="572" rx="32" ry="21" fill="#157ef4" stroke="#111" stroke-width="7.6"/><text transform="translate(515,584) rotate(0.25)" font-size="34" font-weight="bold" fill="#fff" text-anchor="middle" font-family="Liberation Sans, sans-serif">F</text><rect x="558.7" y="551.7" width="62.6" height="40.6" fill="#ff0f2d" stroke="#111" stroke-width="7.6"/><text transform="translate(590,584) rotate(0.25)" font-size="34" font-weight="bold" fill="#fff" text-anchor="middle" font-family="Liberation Sans, sans-serif">C</text><ellipse cx="667" cy="572" rx="32" ry="21" fill="#157ef4" stroke="#111" stroke-width="7.6"/><text transform="translate(667,584) rotate(0.25)" font-size="34" font-weight="bold" fill="#fff" text-anchor="middle" font-family="Liberation Sans, sans-serif">H</text><ellipse cx="890" cy="570" rx="32" ry="21" fill="#18b343" stroke="#111" stroke-width="7.6"/><text transform="translate(890,582) rotate(0.25)" font-size="34" font-weight="bold" fill="#fff" text-anchor="middle" font-family="Liberation Sans, sans-serif">Z</text><rect x="873.39" y="601.85" width="33.22" height="40.3" fill="#fff" fill-opacity="0.85"/><text transform="translate(890,633.16) rotate(0.25)" font-size="31" font-weight="bold" fill="#111" stroke="#111" stroke-width="1.2" text-anchor="middle" font-family="Liberation Sans, sans-serif">C</text><ellipse cx="590" cy="686" rx="32" ry="21" fill="#686868" stroke="#111" stroke-width="7.6"/><text transform="translate(590,698) rotate(0.25)" font-size="34" font-weight="bold" fill="#fff" text-anchor="middle" font-family="Liberation Sans, sans-serif">Q</text><rect x="435" y="219" width="44" height="44" fill="#18b343"/><text transform="translate(457,247) rotate(0.25)" font-size="17" font-weight="bold" fill="#fff" text-anchor="middle" font-family="Liberation Sans, sans-serif">1</text><rect x="730" y="223" width="44" height="44" fill="#18b343"/><text transform="translate(752,251) rotate(0.25)" font-size="17" font-weight="bold" fill="#fff" text-anchor="middle" font-family="Liberation Sans, sans-serif">1</text><rect x="174" y="318" width="44" height="44" fill="#157ef4"/><text transform="translate(196,346) rotate(0.25)" font-size="17" font-weight="bold" fill="#fff" text-anchor="middle" font-family="Liberation Sans, sans-serif">2</text><rect x="956" y="318" width="44" height="44" fill="#157ef4"/><text transform="translate(978,346) rotate(0.25)" font-size="17" font-weight="bold" fill="#fff" text-anchor="middle" font-family="Liberation Sans, sans-serif">2</text><rect x="575" y="375" width="44" height="44" fill="#ff0f2d"/><text transform="translate(597,403) rotate(0.25)" font-size="17" font-weight="bold" fill="#fff" text-anchor="middle" font-family="Liberation Sans, sans-serif">3</text><rect x="748" y="664" width="127" height="126" fill="#6c6c6c"/><text transform="translate(811.5,692) rotate(0.25)" font-size="15.5" font-weight="bold" fill="#fff" stroke="#fff" stroke-width="0.3" text-anchor="middle" font-family="Liberation Sans, sans-serif">X = POST</text><text transform="translate(811.5,713) rotate(0.25)" font-size="15.5" font-weight="bold" fill="#fff" stroke="#fff" stroke-width="0.3" text-anchor="middle" font-family="Liberation Sans, sans-serif">F = CORNER</text><text transform="translate(811.5,734) rotate(0.25)" font-size="15.5" font-weight="bold" fill="#fff" stroke="#fff" stroke-width="0.3" text-anchor="middle" font-family="Liberation Sans, sans-serif">C = SHOT</text><text transform="translate(811.5,755) rotate(0.25)" font-size="15.5" font-weight="bold" fill="#fff" stroke="#fff" stroke-width="0.3" text-anchor="middle" font-family="Liberation Sans, sans-serif">H = CORNER</text><text transform="translate(811.5,776) rotate(0.25)" font-size="15.5" font-weight="bold" fill="#fff" stroke="#fff" stroke-width="0.3" text-anchor="middle" font-family="Liberation Sans, sans-serif">Z = POST</text></g><path d="M58.5,298.7H530.9M58.5,492.4H530.9" stroke="#54585b" stroke-width="1.25" fill="none"/><path d="M294.7,105.5V685.31" stroke="#777b7e" stroke-width="1.6" fill="none"/><path d="M58.5,105.5V685.31M530.9,105.5V685.31" stroke="#6e7275" stroke-width="1.4" fill="none"/><path d="M57.75,105.5H531.65M57.75,685.31H531.65" stroke="#3a3e41" stroke-width="1.2" fill="none"/>
<g transform="translate(655,99.2) scale(0.20202)"><mask id="c7k5" maskUnits="userSpaceOnUse" x="0" y="0" width="1200" height="900"><rect width="1200" height="900" fill="#fff"/><path d="M288,548 L288,290 L405,228" fill="none" stroke="#000" stroke-width="17"/></mask><g mask="url(#c7k5)"><path d="M490,565 C430,540 400,500 400,430 C400,370 370,332 300,332 L260,332" fill="none" stroke="#157ef4" stroke-width="7.4" stroke-linejoin="round"/><polygon points="245,332 270,321 270,343" fill="#157ef4"/></g><mask id="c7k6" maskUnits="userSpaceOnUse" x="0" y="0" width="1200" height="900"><rect width="1200" height="900" fill="#fff"/><path d="M890,548 L890,290 L790,240" fill="none" stroke="#000" stroke-width="17"/></mask><g mask="url(#c7k6)"><path d="M695,565 C755,540 780,500 780,430 C780,370 810,332 880,332 L920,332" fill="none" stroke="#157ef4" stroke-width="7.4" stroke-linejoin="round"/><polygon points="935,332 910,343 910,321" fill="#157ef4"/></g><path d="M288,548 L288,290 L391.75,235.02" fill="none" stroke="#18b343" stroke-width="7.4" stroke-linejoin="round"/><polygon points="405,228 388.06,249.43 377.76,229.99" fill="#18b343"/><path d="M890,548 L890,290 L803.42,246.71" fill="none" stroke="#18b343" stroke-width="7.4" stroke-linejoin="round"/><polygon points="790,240 817.28,241.34 807.44,261.02" fill="#18b343"/><path d="M590,548 L589.5,446" fill="none" stroke="#ff0f2d" stroke-width="7.4" stroke-linejoin="round"/><circle cx="589.5" cy="446" r="7.5" fill="#ff0f2d"/><path d="M570.5,446 L551.5,446" stroke="#ff0f2d" stroke-width="6"/><polygon points="537.5,446 554.5,436 554.5,456" fill="#ff0f2d"/><path d="M608.5,446 L627.5,446" stroke="#ff0f2d" stroke-width="6"/><polygon points="641.5,446 624.5,456 624.5,436" fill="#ff0f2d"/><rect x="196.38" y="282.8" width="71.24" height="20.4" fill="#fff" fill-opacity="0.85"/><text transform="translate(232,299.12) rotate(0.25)" font-size="17" font-weight="bold" fill="#18b343" stroke="#18b343" stroke-width="1.3" text-anchor="middle" font-family="Liberation Sans, sans-serif">10 YDS</text><rect x="892.38" y="282.8" width="71.24" height="20.4" fill="#fff" fill-opacity="0.85"/><text transform="translate(928,299.12) rotate(0.25)" font-size="17" font-weight="bold" fill="#18b343" stroke="#18b343" stroke-width="1.3" text-anchor="middle" font-family="Liberation Sans, sans-serif">10 YDS</text><rect x="389.38" y="344.8" width="71.24" height="20.4" fill="#fff" fill-opacity="0.85"/><text transform="translate(425,361.12) rotate(0.25)" font-size="17" font-weight="bold" fill="#157ef4" stroke="#157ef4" stroke-width="1.3" text-anchor="middle" font-family="Liberation Sans, sans-serif">10 YDS</text><rect x="716.38" y="334.8" width="71.24" height="20.4" fill="#fff" fill-opacity="0.85"/><text transform="translate(752,351.12) rotate(0.25)" font-size="17" font-weight="bold" fill="#157ef4" stroke="#157ef4" stroke-width="1.3" text-anchor="middle" font-family="Liberation Sans, sans-serif">10 YDS</text><rect x="659.65" y="432.8" width="60.7" height="20.4" fill="#fff" fill-opacity="0.85"/><text transform="translate(690,449.12) rotate(0.25)" font-size="17" font-weight="bold" fill="#ff0f2d" stroke="#ff0f2d" stroke-width="1.3" text-anchor="middle" font-family="Liberation Sans, sans-serif">5 YDS</text><ellipse cx="288" cy="570" rx="32" ry="21" fill="#18b343" stroke="#111" stroke-width="7.6"/><text transform="translate(288,582) rotate(0.25)" font-size="34" font-weight="bold" fill="#fff" text-anchor="middle" font-family="Liberation Sans, sans-serif">X</text><rect x="271.39" y="601.85" width="33.22" height="40.3" fill="#fff" fill-opacity="0.85"/><text transform="translate(288,633.16) rotate(0.25)" font-size="31" font-weight="bold" fill="#111" stroke="#111" stroke-width="1.2" text-anchor="middle" font-family="Liberation Sans, sans-serif">C</text><ellipse cx="515" cy="572" rx="32" ry="21" fill="#157ef4" stroke="#111" stroke-width="7.6"/><text transform="translate(515,584) rotate(0.25)" font-size="34" font-weight="bold" fill="#fff" text-anchor="middle" font-family="Liberation Sans, sans-serif">F</text><rect x="558.7" y="551.7" width="62.6" height="40.6" fill="#ff0f2d" stroke="#111" stroke-width="7.6"/><text transform="translate(590,584) rotate(0.25)" font-size="34" font-weight="bold" fill="#fff" text-anchor="middle" font-family="Liberation Sans, sans-serif">C</text><ellipse cx="667" cy="572" rx="32" ry="21" fill="#157ef4" stroke="#111" stroke-width="7.6"/><text transform="translate(667,584) rotate(0.25)" font-size="34" font-weight="bold" fill="#fff" text-anchor="middle" font-family="Liberation Sans, sans-serif">H</text><ellipse cx="890" cy="570" rx="32" ry="21" fill="#18b343" stroke="#111" stroke-width="7.6"/><text transform="translate(890,582) rotate(0.25)" font-size="34" font-weight="bold" fill="#fff" text-anchor="middle" font-family="Liberation Sans, sans-serif">Z</text><rect x="873.39" y="601.85" width="33.22" height="40.3" fill="#fff" fill-opacity="0.85"/><text transform="translate(890,633.16) rotate(0.25)" font-size="31" font-weight="bold" fill="#111" stroke="#111" stroke-width="1.2" text-anchor="middle" font-family="Liberation Sans, sans-serif">C</text><ellipse cx="590" cy="686" rx="32" ry="21" fill="#686868" stroke="#111" stroke-width="7.6"/><text transform="translate(590,698) rotate(0.25)" font-size="34" font-weight="bold" fill="#fff" text-anchor="middle" font-family="Liberation Sans, sans-serif">Q</text><rect x="435" y="219" width="44" height="44" fill="#18b343"/><text transform="translate(457,247) rotate(0.25)" font-size="17" font-weight="bold" fill="#fff" text-anchor="middle" font-family="Liberation Sans, sans-serif">1</text><rect x="730" y="223" width="44" height="44" fill="#18b343"/><text transform="translate(752,251) rotate(0.25)" font-size="17" font-weight="bold" fill="#fff" text-anchor="middle" font-family="Liberation Sans, sans-serif">1</text><rect x="174" y="318" width="44" height="44" fill="#157ef4"/><text transform="translate(196,346) rotate(0.25)" font-size="17" font-weight="bold" fill="#fff" text-anchor="middle" font-family="Liberation Sans, sans-serif">2</text><rect x="956" y="318" width="44" height="44" fill="#157ef4"/><text transform="translate(978,346) rotate(0.25)" font-size="17" font-weight="bold" fill="#fff" text-anchor="middle" font-family="Liberation Sans, sans-serif">2</text><rect x="575" y="375" width="44" height="44" fill="#ff0f2d"/><text transform="translate(597,403) rotate(0.25)" font-size="17" font-weight="bold" fill="#fff" text-anchor="middle" font-family="Liberation Sans, sans-serif">3</text><rect x="748" y="664" width="127" height="126" fill="#6c6c6c"/><text transform="translate(811.5,692) rotate(0.25)" font-size="15.5" font-weight="bold" fill="#fff" stroke="#fff" stroke-width="0.3" text-anchor="middle" font-family="Liberation Sans, sans-serif">X = POST</text><text transform="translate(811.5,713) rotate(0.25)" font-size="15.5" font-weight="bold" fill="#fff" stroke="#fff" stroke-width="0.3" text-anchor="middle" font-family="Liberation Sans, sans-serif">F = CORNER</text><text transform="translate(811.5,734) rotate(0.25)" font-size="15.5" font-weight="bold" fill="#fff" stroke="#fff" stroke-width="0.3" text-anchor="middle" font-family="Liberation Sans, sans-serif">C = SHOT</text><text transform="translate(811.5,755) rotate(0.25)" font-size="15.5" font-weight="bold" fill="#fff" stroke="#fff" stroke-width="0.3" text-anchor="middle" font-family="Liberation Sans, sans-serif">H = CORNER</text><text transform="translate(811.5,776) rotate(0.25)" font-size="15.5" font-weight="bold" fill="#fff" stroke="#fff" stroke-width="0.3" text-anchor="middle" font-family="Liberation Sans, sans-serif">Z = POST</text></g><g transform="translate(890,100) scale(0.20202)"><path d="M280,540 L280,422" fill="none" stroke="#18b343" stroke-width="7.4" stroke-linejoin="round"/><polygon points="318,438 282.8,431.81 293.1,412.37" fill="#18b343"/><path d="M525,545 L525,362 L335.79,280.91" fill="none" stroke="#157ef4" stroke-width="7.4" stroke-linejoin="round"/><polygon points="322,275 349.31,274.74 340.65,294.96" fill="#157ef4"/><path d="M743,550 L743,372 L882.24,285.89" fill="none" stroke="#157ef4" stroke-width="7.4" stroke-linejoin="round"/><polygon points="895,278 879.52,300.5 867.95,281.79" fill="#157ef4"/><path d="M960,545 L960,430" fill="none" stroke="#18b343" stroke-width="7.4" stroke-linejoin="round"/><polygon points="924,447 947.62,420.18 958.85,439.1" fill="#18b343"/><path d="M645,640 L621.5,508.5" fill="none" stroke="#ff0f2d" stroke-width="7.4" stroke-linejoin="round"/><circle cx="621.5" cy="508.5" r="7.5" fill="#ff0f2d"/><path d="M602.5,508.5 L583.5,508.5" stroke="#ff0f2d" stroke-width="6"/><polygon points="569.5,508.5 586.5,498.5 586.5,518.5" fill="#ff0f2d"/><path d="M640.5,508.5 L659.5,508.5" stroke="#ff0f2d" stroke-width="6"/><polygon points="673.5,508.5 656.5,518.5 656.5,498.5" fill="#ff0f2d"/><rect x="209.65" y="414.8" width="60.7" height="20.4" fill="#fff" fill-opacity="0.85"/><text transform="translate(240,431.12) rotate(0.25)" font-size="17" font-weight="bold" fill="#18b343" stroke="#18b343" stroke-width="1.3" text-anchor="middle" font-family="Liberation Sans, sans-serif">5 YDS</text><rect x="444.65" y="361.8" width="60.7" height="20.4" fill="#fff" fill-opacity="0.85"/><text transform="translate(475,378.12) rotate(0.25)" font-size="17" font-weight="bold" fill="#157ef4" stroke="#157ef4" stroke-width="1.3" text-anchor="middle" font-family="Liberation Sans, sans-serif">6 YDS</text><rect x="659.65" y="367.8" width="60.7" height="20.4" fill="#fff" fill-opacity="0.85"/><text transform="translate(690,384.12) rotate(0.25)" font-size="17" font-weight="bold" fill="#157ef4" stroke="#157ef4" stroke-width="1.3" text-anchor="middle" font-family="Liberation Sans, sans-serif">6 YDS</text><rect x="967.65" y="407.8" width="60.7" height="20.4" fill="#fff" fill-opacity="0.85"/><text transform="translate(998,424.12) rotate(0.25)" font-size="17" font-weight="bold" fill="#18b343" stroke="#18b343" stroke-width="1.3" text-anchor="middle" font-family="Liberation Sans, sans-serif">5 YDS</text><rect x="637.65" y="529.8" width="60.7" height="20.4" fill="#fff" fill-opacity="0.85"/><text transform="translate(668,546.12) rotate(0.25)" font-size="17" font-weight="bold" fill="#ff0f2d" stroke="#ff0f2d" stroke-width="1.3" text-anchor="middle" font-family="Liberation Sans, sans-serif">2 YDS</text><ellipse cx="280" cy="562" rx="32" ry="21" fill="#18b343" stroke="#111" stroke-width="7.6"/><text transform="translate(280,574) rotate(0.25)" font-size="34" font-weight="bold" fill="#fff" text-anchor="middle" font-family="Liberation Sans, sans-serif">X</text><rect x="267.63" y="592.45" width="30.74" height="35.1" fill="#fff" fill-opacity="0.85"/><text transform="translate(283,619.72) rotate(0.25)" font-size="27" font-weight="bold" fill="#111" stroke="#111" stroke-width="1.2" text-anchor="middle" font-family="Liberation Sans, sans-serif">B</text><rect x="490.7" y="547.7" width="62.6" height="40.6" fill="#157ef4" stroke="#111" stroke-width="7.6"/><text transform="translate(522,580) rotate(0.25)" font-size="34" font-weight="bold" fill="#fff" text-anchor="middle" font-family="Liberation Sans, sans-serif">C</text><ellipse cx="522" cy="678" rx="32" ry="21" fill="#686868" stroke="#111" stroke-width="7.6"/><text transform="translate(522,690) rotate(0.25)" font-size="34" font-weight="bold" fill="#fff" text-anchor="middle" font-family="Liberation Sans, sans-serif">Q</text><ellipse cx="648" cy="663" rx="32" ry="21" fill="#ff0f2d" stroke="#111" stroke-width="7.6"/><text transform="translate(648,675) rotate(0.25)" font-size="34" font-weight="bold" fill="#fff" text-anchor="middle" font-family="Liberation Sans, sans-serif">H</text><ellipse cx="743" cy="574" rx="32" ry="21" fill="#157ef4" stroke="#111" stroke-width="7.6"/><text transform="translate(743,586) rotate(0.25)" font-size="34" font-weight="bold" fill="#fff" text-anchor="middle" font-family="Liberation Sans, sans-serif">F</text><ellipse cx="958" cy="568" rx="32" ry="21" fill="#18b343" stroke="#111" stroke-width="7.6"/><text transform="translate(958,580) rotate(0.25)" font-size="34" font-weight="bold" fill="#fff" text-anchor="middle" font-family="Liberation Sans, sans-serif">Z</text><rect x="942.63" y="594.45" width="30.74" height="35.1" fill="#fff" fill-opacity="0.85"/><text transform="translate(958,621.72) rotate(0.25)" font-size="27" font-weight="bold" fill="#111" stroke="#111" stroke-width="1.2" text-anchor="middle" font-family="Liberation Sans, sans-serif">B</text><rect x="281" y="348" width="44" height="44" fill="#18b343"/><text transform="translate(303,376) rotate(0.25)" font-size="17" font-weight="bold" fill="#fff" text-anchor="middle" font-family="Liberation Sans, sans-serif">1</text><rect x="264" y="233" width="44" height="44" fill="#157ef4"/><text transform="translate(286,261) rotate(0.25)" font-size="17" font-weight="bold" fill="#fff" text-anchor="middle" font-family="Liberation Sans, sans-serif">2</text><rect x="913" y="238" width="44" height="44" fill="#157ef4"/><text transform="translate(935,266) rotate(0.25)" font-size="17" font-weight="bold" fill="#fff" text-anchor="middle" font-family="Liberation Sans, sans-serif">2</text><rect x="931" y="360" width="44" height="44" fill="#18b343"/><text transform="translate(953,388) rotate(0.25)" font-size="17" font-weight="bold" fill="#fff" text-anchor="middle" font-family="Liberation Sans, sans-serif">1</text><rect x="600" y="441" width="44" height="44" fill="#ff0f2d"/><text transform="translate(622,469) rotate(0.25)" font-size="17" font-weight="bold" fill="#fff" text-anchor="middle" font-family="Liberation Sans, sans-serif">3</text><rect x="787" y="668" width="123" height="125" fill="#6c6c6c"/><text transform="translate(848.5,695.5) rotate(0.25)" font-size="15.5" font-weight="bold" fill="#fff" stroke="#fff" stroke-width="0.3" text-anchor="middle" font-family="Liberation Sans, sans-serif">X = HITCH</text><text transform="translate(848.5,716.5) rotate(0.25)" font-size="15.5" font-weight="bold" fill="#fff" stroke="#fff" stroke-width="0.3" text-anchor="middle" font-family="Liberation Sans, sans-serif">F = CORNER</text><text transform="translate(848.5,737.5) rotate(0.25)" font-size="15.5" font-weight="bold" fill="#fff" stroke="#fff" stroke-width="0.3" text-anchor="middle" font-family="Liberation Sans, sans-serif">C = CORNER</text><text transform="translate(848.5,758.5) rotate(0.25)" font-size="15.5" font-weight="bold" fill="#fff" stroke="#fff" stroke-width="0.3" text-anchor="middle" font-family="Liberation Sans, sans-serif">H = POP</text><text transform="translate(848.5,779.5) rotate(0.25)" font-size="15.5" font-weight="bold" fill="#fff" stroke="#fff" stroke-width="0.3" text-anchor="middle" font-family="Liberation Sans, sans-serif">Z = HITCH</text></g><g transform="translate(654,293) scale(0.20202)"><path d="M248,548 L265,515 L262,300 L457.49,248.8" fill="none" stroke="#1c1c1c" stroke-width="7.4" stroke-linejoin="round"/><polygon points="472,245 450.6,261.98 445.03,240.69" fill="#1c1c1c"/><path d="M572,548 L620,493 L617,300 L810.34,258.17" fill="none" stroke="#1c1c1c" stroke-width="7.4" stroke-linejoin="round"/><polygon points="825,255 802.89,271.04 798.24,249.54" fill="#1c1c1c"/><mask id="c9k7" maskUnits="userSpaceOnUse" x="0" y="0" width="1200" height="900"><rect width="1200" height="900" fill="#fff"/><path d="M572,548 L620,493 L617,300 L825,255" fill="none" stroke="#000" stroke-width="17"/></mask><g mask="url(#c9k7)"><path d="M945,548 C930,440 850,367 750,367 L512,367" fill="none" stroke="#157ef4" stroke-width="7.4" stroke-linejoin="round"/><polygon points="497,367 522,356 522,378" fill="#157ef4"/></g><path d="M856,542 C850,470 780,430 630,415" fill="none" stroke="#ff0f2d" stroke-width="7.4" stroke-linejoin="round"/><mask id="c9k8" maskUnits="userSpaceOnUse" x="0" y="0" width="1200" height="900"><rect width="1200" height="900" fill="#fff"/><path d="M572,548 L620,493 L617,300 L825,255" fill="none" stroke="#000" stroke-width="17"/></mask><g mask="url(#c9k8)"><path d="M630,418 L830,419.86" fill="none" stroke="#ff0f2d" stroke-width="7.4" stroke-linejoin="round"/><polygon points="845,420 819.9,430.77 820.1,408.77" fill="#ff0f2d"/></g><mask id="c9k9" maskUnits="userSpaceOnUse" x="0" y="0" width="1200" height="900"><rect width="1200" height="900" fill="#fff"/><path d="M572,548 L620,493 L617,300 L825,255" fill="none" stroke="#000" stroke-width="17"/></mask><g mask="url(#c9k9)"><path d="M787,570 C770,500 700,465 620,462 L437,458.3" fill="none" stroke="#18b343" stroke-width="7.4" stroke-linejoin="round"/><polygon points="422,458 447.22,447.51 446.77,469.5" fill="#18b343"/></g><rect x="276.38" y="302.8" width="71.24" height="20.4" fill="#fff" fill-opacity="0.85"/><text transform="translate(312,319.12) rotate(0.25)" font-size="17" font-weight="bold" fill="#1c1c1c" stroke="#1c1c1c" stroke-width="1.3" text-anchor="middle" font-family="Liberation Sans, sans-serif">10 YDS</text><rect x="532.38" y="297.8" width="71.24" height="20.4" fill="#fff" fill-opacity="0.85"/><text transform="translate(568,314.12) rotate(0.25)" font-size="17" font-weight="bold" fill="#1c1c1c" stroke="#1c1c1c" stroke-width="1.3" text-anchor="middle" font-family="Liberation Sans, sans-serif">12 YDS</text><rect x="657.65" y="337.8" width="60.7" height="20.4" fill="#fff" fill-opacity="0.85"/><text transform="translate(688,354.12) rotate(0.25)" font-size="17" font-weight="bold" fill="#157ef4" stroke="#157ef4" stroke-width="1.3" text-anchor="middle" font-family="Liberation Sans, sans-serif">6 YDS</text><rect x="704.65" y="384.8" width="60.7" height="20.4" fill="#fff" fill-opacity="0.85"/><text transform="translate(735,401.12) rotate(0.25)" font-size="17" font-weight="bold" fill="#ff0f2d" stroke="#ff0f2d" stroke-width="1.3" text-anchor="middle" font-family="Liberation Sans, sans-serif">4 YDS</text><rect x="496.65" y="466.8" width="60.7" height="20.4" fill="#fff" fill-opacity="0.85"/><text transform="translate(527,483.12) rotate(0.25)" font-size="17" font-weight="bold" fill="#18b343" stroke="#18b343" stroke-width="1.3" text-anchor="middle" font-family="Liberation Sans, sans-serif">4 YDS</text><rect x="493.85" y="623" width="110.3" height="18" fill="#fff" fill-opacity="0.85"/><text transform="translate(549,637.4) rotate(0.25)" font-size="15" font-weight="bold" fill="#1c1c1c" stroke="#1c1c1c" stroke-width="1.3" text-anchor="middle" font-family="Liberation Sans, sans-serif">3 STEP DROP</text><ellipse cx="235" cy="568" rx="32" ry="21" fill="#f3b715" stroke="#111" stroke-width="7.6"/><text transform="translate(235,580) rotate(0.25)" font-size="34" font-weight="bold" fill="#111" text-anchor="middle" font-family="Liberation Sans, sans-serif">X</text><rect x="218.39" y="601.85" width="33.22" height="40.3" fill="#fff" fill-opacity="0.85"/><text transform="translate(235,633.16) rotate(0.25)" font-size="31" font-weight="bold" fill="#111" stroke="#111" stroke-width="1.2" text-anchor="middle" font-family="Liberation Sans, sans-serif">B</text><rect x="517.7" y="549.7" width="62.6" height="40.6" fill="#f3b715" stroke="#111" stroke-width="7.6"/><text transform="translate(549,582) rotate(0.25)" font-size="34" font-weight="bold" fill="#111" text-anchor="middle" font-family="Liberation Sans, sans-serif">C</text><ellipse cx="549" cy="680" rx="32" ry="21" fill="#686868" stroke="#111" stroke-width="7.6"/><text transform="translate(549,692) rotate(0.25)" font-size="34" font-weight="bold" fill="#fff" text-anchor="middle" font-family="Liberation Sans, sans-serif">Q</text><ellipse cx="787" cy="592" rx="32" ry="21" fill="#18b343" stroke="#111" stroke-width="7.6"/><text transform="translate(787,604) rotate(0.25)" font-size="34" font-weight="bold" fill="#fff" text-anchor="middle" font-family="Liberation Sans, sans-serif">H</text><ellipse cx="852" cy="565" rx="32" ry="21" fill="#ff0f2d" stroke="#111" stroke-width="7.6"/><text transform="translate(852,577) rotate(0.25)" font-size="34" font-weight="bold" fill="#fff" text-anchor="middle" font-family="Liberation Sans, sans-serif">F</text><ellipse cx="945" cy="572" rx="32" ry="21" fill="#157ef4" stroke="#111" stroke-width="7.6"/><text transform="translate(945,584) rotate(0.25)" font-size="34" font-weight="bold" fill="#fff" text-anchor="middle" font-family="Liberation Sans, sans-serif">Z</text><rect x="423" y="343" width="44" height="44" fill="#157ef4"/><text transform="translate(445,371) rotate(0.25)" font-size="17" font-weight="bold" fill="#fff" text-anchor="middle" font-family="Liberation Sans, sans-serif">2</text><rect x="911" y="396" width="44" height="44" fill="#ff0f2d"/><text transform="translate(933,424) rotate(0.25)" font-size="17" font-weight="bold" fill="#fff" text-anchor="middle" font-family="Liberation Sans, sans-serif">3</text><rect x="359" y="438" width="44" height="44" fill="#18b343"/><text transform="translate(381,466) rotate(0.25)" font-size="17" font-weight="bold" fill="#fff" text-anchor="middle" font-family="Liberation Sans, sans-serif">1</text><rect x="828" y="692" width="152" height="123" fill="#6c6c6c"/><text transform="translate(904,718.5) rotate(0.25)" font-size="15.5" font-weight="bold" fill="#fff" stroke="#fff" stroke-width="0.3" text-anchor="middle" font-family="Liberation Sans, sans-serif">X = POST</text><text transform="translate(904,739.5) rotate(0.25)" font-size="15.5" font-weight="bold" fill="#fff" stroke="#fff" stroke-width="0.3" text-anchor="middle" font-family="Liberation Sans, sans-serif">F = RETURN</text><text transform="translate(904,760.5) rotate(0.25)" font-size="15.5" font-weight="bold" fill="#fff" stroke="#fff" stroke-width="0.3" text-anchor="middle" font-family="Liberation Sans, sans-serif">C = POST</text><text transform="translate(904,781.5) rotate(0.25)" font-size="15.5" font-weight="bold" fill="#fff" stroke="#fff" stroke-width="0.3" text-anchor="middle" font-family="Liberation Sans, sans-serif">H = DRAG STOP</text><text transform="translate(904,802.5) rotate(0.25)" font-size="15.5" font-weight="bold" fill="#fff" stroke="#fff" stroke-width="0.3" text-anchor="middle" font-family="Liberation Sans, sans-serif">Z = OVER</text></g><g transform="translate(890,293) scale(0.20202)"><path d="M392,545 L390,290 L531.01,235.41" fill="none" stroke="#1c1c1c" stroke-width="7.4" stroke-linejoin="round"/><polygon points="545,230 525.66,249.28 517.71,228.77" fill="#1c1c1c"/><polygon points="392,548 382,528 402,528" fill="#1c1c1c"/><path d="M580,545 L580,437 L497,437" fill="none" stroke="#18b343" stroke-width="7.4" stroke-linejoin="round"/><polygon points="482,437 507,426 507,448" fill="#18b343"/><polygon points="580,548 570,528 590,528" fill="#18b343"/><path d="M755,545 L755,437 L678,437" fill="none" stroke="#157ef4" stroke-width="7.4" stroke-linejoin="round"/><polygon points="663,437 688,426 688,448" fill="#157ef4"/><polygon points="755,548 745,528 765,528" fill="#157ef4"/><path d="M935,545 L935,437 L860,437" fill="none" stroke="#ff0f2d" stroke-width="7.4" stroke-linejoin="round"/><polygon points="845,437 870,426 870,448" fill="#ff0f2d"/><polygon points="935,548 925,528 945,528" fill="#ff0f2d"/><path d="M560,678 L860,678 C910,678 935,650 938.04,626.87" fill="none" stroke="#1c1c1c" stroke-width="7.4" stroke-linejoin="round"/><polygon points="940,612 947.64,638.22 925.83,635.35" fill="#1c1c1c"/><text transform="translate(510,226) rotate(0.25)" font-size="40" fill="#7a6cf0" text-anchor="middle" font-family="Liberation Sans, sans-serif">✱</text><text transform="translate(534,284) rotate(0.25)" font-size="40" fill="#7a6cf0" text-anchor="middle" font-family="Liberation Sans, sans-serif">✱</text><rect x="302.38" y="286.8" width="71.24" height="20.4" fill="#fff" fill-opacity="0.85"/><text transform="translate(338,303.12) rotate(0.25)" font-size="17" font-weight="bold" fill="#1c1c1c" stroke="#1c1c1c" stroke-width="1.3" text-anchor="middle" font-family="Liberation Sans, sans-serif">10 YDS</text><rect x="509.65" y="407.8" width="60.7" height="20.4" fill="#fff" fill-opacity="0.85"/><text transform="translate(540,424.12) rotate(0.25)" font-size="17" font-weight="bold" fill="#18b343" stroke="#18b343" stroke-width="1.3" text-anchor="middle" font-family="Liberation Sans, sans-serif">5 YDS</text><rect x="677.65" y="407.8" width="60.7" height="20.4" fill="#fff" fill-opacity="0.85"/><text transform="translate(708,424.12) rotate(0.25)" font-size="17" font-weight="bold" fill="#157ef4" stroke="#157ef4" stroke-width="1.3" text-anchor="middle" font-family="Liberation Sans, sans-serif">5 YDS</text><rect x="864.65" y="412.8" width="60.7" height="20.4" fill="#fff" fill-opacity="0.85"/><text transform="translate(895,429.12) rotate(0.25)" font-size="17" font-weight="bold" fill="#ff0f2d" stroke="#ff0f2d" stroke-width="1.3" text-anchor="middle" font-family="Liberation Sans, sans-serif">5 YDS</text><rect x="363.7" y="549.7" width="62.6" height="40.6" fill="#f3b715" stroke="#111" stroke-width="7.6"/><text transform="translate(395,582) rotate(0.25)" font-size="34" font-weight="bold" fill="#111" text-anchor="middle" font-family="Liberation Sans, sans-serif">C</text><ellipse cx="395" cy="673" rx="32" ry="21" fill="#686868" stroke="#111" stroke-width="7.6"/><text transform="translate(395,685) rotate(0.25)" font-size="34" font-weight="bold" fill="#fff" text-anchor="middle" font-family="Liberation Sans, sans-serif">Q</text><ellipse cx="528" cy="678" rx="32" ry="21" fill="#f3b715" stroke="#111" stroke-width="7.6"/><text transform="translate(528,690) rotate(0.25)" font-size="34" font-weight="bold" fill="#111" text-anchor="middle" font-family="Liberation Sans, sans-serif">H</text><ellipse cx="580" cy="568" rx="32" ry="21" fill="#18b343" stroke="#111" stroke-width="7.6"/><text transform="translate(580,580) rotate(0.25)" font-size="34" font-weight="bold" fill="#fff" text-anchor="middle" font-family="Liberation Sans, sans-serif">F</text><ellipse cx="755" cy="568" rx="32" ry="21" fill="#157ef4" stroke="#111" stroke-width="7.6"/><text transform="translate(755,580) rotate(0.25)" font-size="34" font-weight="bold" fill="#fff" text-anchor="middle" font-family="Liberation Sans, sans-serif">Z</text><ellipse cx="935" cy="568" rx="32" ry="21" fill="#ff0f2d" stroke="#111" stroke-width="7.6"/><text transform="translate(935,580) rotate(0.25)" font-size="34" font-weight="bold" fill="#fff" text-anchor="middle" font-family="Liberation Sans, sans-serif">X</text><rect x="425" y="425" width="44" height="44" fill="#18b343"/><text transform="translate(447,453) rotate(0.25)" font-size="17" font-weight="bold" fill="#fff" text-anchor="middle" font-family="Liberation Sans, sans-serif">1</text><rect x="608" y="425" width="44" height="44" fill="#157ef4"/><text transform="translate(630,453) rotate(0.25)" font-size="17" font-weight="bold" fill="#fff" text-anchor="middle" font-family="Liberation Sans, sans-serif">2</text><rect x="786" y="418" width="44" height="44" fill="#ff0f2d"/><text transform="translate(808,446) rotate(0.25)" font-size="17" font-weight="bold" fill="#fff" text-anchor="middle" font-family="Liberation Sans, sans-serif">3</text><rect x="710" y="188" width="125" height="125" fill="#6c6c6c"/><text transform="translate(772.5,215.5) rotate(0.25)" font-size="15.5" font-weight="bold" fill="#fff" stroke="#fff" stroke-width="0.3" text-anchor="middle" font-family="Liberation Sans, sans-serif">X = CHINA</text><text transform="translate(772.5,236.5) rotate(0.25)" font-size="15.5" font-weight="bold" fill="#fff" stroke="#fff" stroke-width="0.3" text-anchor="middle" font-family="Liberation Sans, sans-serif">F = CHINA</text><text transform="translate(772.5,257.5) rotate(0.25)" font-size="15.5" font-weight="bold" fill="#fff" stroke="#fff" stroke-width="0.3" text-anchor="middle" font-family="Liberation Sans, sans-serif">C = CORNER</text><text transform="translate(772.5,278.5) rotate(0.25)" font-size="15.5" font-weight="bold" fill="#fff" stroke="#fff" stroke-width="0.3" text-anchor="middle" font-family="Liberation Sans, sans-serif">Z = CHINA</text><text transform="translate(772.5,299.5) rotate(0.25)" font-size="15.5" font-weight="bold" fill="#fff" stroke="#fff" stroke-width="0.3" text-anchor="middle" font-family="Liberation Sans, sans-serif">H = SWING</text></g><g transform="translate(654,486) scale(0.20202)"><path d="M312,548 L312,305 L219.59,245.15" fill="none" stroke="#18b343" stroke-width="7.4" stroke-linejoin="round"/><polygon points="207,237 233.96,241.36 222,259.82" fill="#18b343"/><polygon points="312,548 302,528 322,528" fill="#18b343"/><path d="M620,548 L620,440 L528,440" fill="none" stroke="#ff0f2d" stroke-width="7.4" stroke-linejoin="round"/><polygon points="513,440 538,429 538,451" fill="#ff0f2d"/><path d="M733,660 C775,640 790,610 790,560 L790,277" fill="none" stroke="#18b343" stroke-width="7.4" stroke-linejoin="round"/><polygon points="790,262 801,287 779,287" fill="#18b343"/><path d="M785,405 L688.71,310.51" fill="none" stroke="#18b343" stroke-width="6" stroke-linejoin="round" stroke-dasharray="10,6"/><polygon points="678,300 703.55,309.66 688.14,325.36" fill="#18b343"/><path d="M957,545 L957,440 L862,440" fill="none" stroke="#157ef4" stroke-width="7.4" stroke-linejoin="round"/><polygon points="847,440 872,429 872,451" fill="#157ef4"/><polygon points="957,548 947,528 967,528" fill="#157ef4"/><path d="M495,662 C380,668 250,665 218.04,614.66" fill="none" stroke="#157ef4" stroke-width="7.4" stroke-linejoin="round"/><polygon points="210,602 232.69,617.21 214.11,629" fill="#157ef4"/><rect x="329.38" y="299.8" width="71.24" height="20.4" fill="#fff" fill-opacity="0.85"/><text transform="translate(365,316.12) rotate(0.25)" font-size="17" font-weight="bold" fill="#18b343" stroke="#18b343" stroke-width="1.3" text-anchor="middle" font-family="Liberation Sans, sans-serif">12 YDS</text><rect x="542.65" y="409.8" width="60.7" height="20.4" fill="#fff" fill-opacity="0.85"/><text transform="translate(573,426.12) rotate(0.25)" font-size="17" font-weight="bold" fill="#ff0f2d" stroke="#ff0f2d" stroke-width="1.3" text-anchor="middle" font-family="Liberation Sans, sans-serif">5 YDS</text><rect x="884.65" y="409.8" width="60.7" height="20.4" fill="#fff" fill-opacity="0.85"/><text transform="translate(915,426.12) rotate(0.25)" font-size="17" font-weight="bold" fill="#157ef4" stroke="#157ef4" stroke-width="1.3" text-anchor="middle" font-family="Liberation Sans, sans-serif">5 YDS</text><rect x="562.85" y="621" width="110.3" height="18" fill="#fff" fill-opacity="0.85"/><text transform="translate(618,635.4) rotate(0.25)" font-size="15" font-weight="bold" fill="#1c1c1c" stroke="#1c1c1c" stroke-width="1.3" text-anchor="middle" font-family="Liberation Sans, sans-serif">3 STEP DROP</text><ellipse cx="312" cy="572" rx="32" ry="21" fill="#18b343" stroke="#111" stroke-width="7.6"/><text transform="translate(312,584) rotate(0.25)" font-size="34" font-weight="bold" fill="#fff" text-anchor="middle" font-family="Liberation Sans, sans-serif">X</text><rect x="281.78" y="602.85" width="52.44" height="40.3" fill="#fff" fill-opacity="0.85"/><text transform="translate(308,634.16) rotate(0.25)" font-size="31" font-weight="bold" fill="#111" stroke="#111" stroke-width="1.2" text-anchor="middle" font-family="Liberation Sans, sans-serif">-2</text><rect x="588.7" y="551.7" width="62.6" height="40.6" fill="#ff0f2d" stroke="#111" stroke-width="7.6"/><text transform="translate(620,584) rotate(0.25)" font-size="34" font-weight="bold" fill="#fff" text-anchor="middle" font-family="Liberation Sans, sans-serif">C</text><ellipse cx="527" cy="662" rx="32" ry="21" fill="#157ef4" stroke="#111" stroke-width="7.6"/><text transform="translate(527,674) rotate(0.25)" font-size="34" font-weight="bold" fill="#fff" text-anchor="middle" font-family="Liberation Sans, sans-serif">H</text><ellipse cx="620" cy="686" rx="32" ry="21" fill="#686868" stroke="#111" stroke-width="7.6"/><text transform="translate(620,698) rotate(0.25)" font-size="34" font-weight="bold" fill="#fff" text-anchor="middle" font-family="Liberation Sans, sans-serif">Q</text><ellipse cx="702" cy="668" rx="32" ry="21" fill="#18b343" stroke="#111" stroke-width="7.6"/><text transform="translate(702,680) rotate(0.25)" font-size="34" font-weight="bold" fill="#fff" text-anchor="middle" font-family="Liberation Sans, sans-serif">F</text><ellipse cx="955" cy="572" rx="32" ry="21" fill="#157ef4" stroke="#111" stroke-width="7.6"/><text transform="translate(955,584) rotate(0.25)" font-size="34" font-weight="bold" fill="#fff" text-anchor="middle" font-family="Liberation Sans, sans-serif">Z</text><rect x="939.63" y="607.45" width="30.74" height="35.1" fill="#fff" fill-opacity="0.85"/><text transform="translate(955,634.72) rotate(0.25)" font-size="27" font-weight="bold" fill="#111" stroke="#111" stroke-width="1.2" text-anchor="middle" font-family="Liberation Sans, sans-serif">B</text><rect x="149" y="219" width="44" height="44" fill="#18b343"/><text transform="translate(171,247) rotate(0.25)" font-size="17" font-weight="bold" fill="#fff" text-anchor="middle" font-family="Liberation Sans, sans-serif">1</text><rect x="453" y="421" width="44" height="44" fill="#ff0f2d"/><text transform="translate(475,449) rotate(0.25)" font-size="17" font-weight="bold" fill="#fff" text-anchor="middle" font-family="Liberation Sans, sans-serif">3</text><rect x="719" y="258" width="44" height="44" fill="#18b343"/><text transform="translate(741,286) rotate(0.25)" font-size="17" font-weight="bold" fill="#fff" text-anchor="middle" font-family="Liberation Sans, sans-serif">1</text><rect x="801" y="383" width="44" height="44" fill="#157ef4"/><text transform="translate(823,411) rotate(0.25)" font-size="17" font-weight="bold" fill="#fff" text-anchor="middle" font-family="Liberation Sans, sans-serif">2</text><rect x="145" y="555" width="44" height="44" fill="#157ef4"/><text transform="translate(167,583) rotate(0.25)" font-size="17" font-weight="bold" fill="#fff" text-anchor="middle" font-family="Liberation Sans, sans-serif">2</text><rect x="917" y="220" width="146" height="123" fill="#6c6c6c"/><text transform="translate(990,246.5) rotate(0.25)" font-size="15.5" font-weight="bold" fill="#fff" stroke="#fff" stroke-width="0.3" text-anchor="middle" font-family="Liberation Sans, sans-serif">X = CORNER</text><text transform="translate(990,267.5) rotate(0.25)" font-size="15.5" font-weight="bold" fill="#fff" stroke="#fff" stroke-width="0.3" text-anchor="middle" font-family="Liberation Sans, sans-serif">F = SEAM</text><text transform="translate(990,288.5) rotate(0.25)" font-size="15.5" font-weight="bold" fill="#fff" stroke="#fff" stroke-width="0.3" text-anchor="middle" font-family="Liberation Sans, sans-serif">C = QUICK OUT</text><text transform="translate(990,309.5) rotate(0.25)" font-size="15.5" font-weight="bold" fill="#fff" stroke="#fff" stroke-width="0.3" text-anchor="middle" font-family="Liberation Sans, sans-serif">H = SWING</text><text transform="translate(990,330.5) rotate(0.25)" font-size="15.5" font-weight="bold" fill="#fff" stroke="#fff" stroke-width="0.3" text-anchor="middle" font-family="Liberation Sans, sans-serif">Z = CHINA</text></g><g transform="translate(890,486) scale(0.20202)"><path d="M235,548 L240,422" fill="none" stroke="#ff0f2d" stroke-width="7.4" stroke-linejoin="round"/><polygon points="260,445 230,425.59 247.05,411.69" fill="#ff0f2d"/><path d="M413,553 L417,422" fill="none" stroke="#157ef4" stroke-width="7.4" stroke-linejoin="round"/><polygon points="441,445 409.49,428.14 425.34,412.88" fill="#157ef4"/><path d="M594,543 L596.5,415" fill="none" stroke="#18b343" stroke-width="7.4" stroke-linejoin="round"/><polygon points="596.5,402 621,427 572,427" fill="#18b343"/><circle cx="574" cy="423" r="7.5" fill="#18b343"/><circle cx="619" cy="423" r="7.5" fill="#18b343"/><path d="M790,548 L790,414" fill="none" stroke="#157ef4" stroke-width="7.4" stroke-linejoin="round"/><polygon points="764,438 780.26,406.18 795.82,421.74" fill="#157ef4"/><path d="M975,548 L975,420" fill="none" stroke="#ff0f2d" stroke-width="7.4" stroke-linejoin="round"/><polygon points="951,443 966.66,410.88 982.51,426.14" fill="#ff0f2d"/><rect x="157.65" y="415.8" width="60.7" height="20.4" fill="#fff" fill-opacity="0.85"/><text transform="translate(188,432.12) rotate(0.25)" font-size="17" font-weight="bold" fill="#ff0f2d" stroke="#ff0f2d" stroke-width="1.3" text-anchor="middle" font-family="Liberation Sans, sans-serif">5 YDS</text><rect x="336.65" y="415.8" width="60.7" height="20.4" fill="#fff" fill-opacity="0.85"/><text transform="translate(367,432.12) rotate(0.25)" font-size="17" font-weight="bold" fill="#157ef4" stroke="#157ef4" stroke-width="1.3" text-anchor="middle" font-family="Liberation Sans, sans-serif">5 YDS</text><rect x="561.65" y="379.8" width="60.7" height="20.4" fill="#fff" fill-opacity="0.85"/><text transform="translate(592,396.12) rotate(0.25)" font-size="17" font-weight="bold" fill="#18b343" stroke="#18b343" stroke-width="1.3" text-anchor="middle" font-family="Liberation Sans, sans-serif">5 YDS</text><rect x="801.65" y="409.8" width="60.7" height="20.4" fill="#fff" fill-opacity="0.85"/><text transform="translate(832,426.12) rotate(0.25)" font-size="17" font-weight="bold" fill="#157ef4" stroke="#157ef4" stroke-width="1.3" text-anchor="middle" font-family="Liberation Sans, sans-serif">5 YDS</text><rect x="987.65" y="410.8" width="60.7" height="20.4" fill="#fff" fill-opacity="0.85"/><text transform="translate(1018,427.12) rotate(0.25)" font-size="17" font-weight="bold" fill="#ff0f2d" stroke="#ff0f2d" stroke-width="1.3" text-anchor="middle" font-family="Liberation Sans, sans-serif">5 YDS</text><ellipse cx="235" cy="572" rx="32" ry="21" fill="#ff0f2d" stroke="#111" stroke-width="7.6"/><text transform="translate(235,584) rotate(0.25)" font-size="34" font-weight="bold" fill="#fff" text-anchor="middle" font-family="Liberation Sans, sans-serif">X</text><rect x="219.63" y="610.45" width="30.74" height="35.1" fill="#fff" fill-opacity="0.85"/><text transform="translate(235,637.72) rotate(0.25)" font-size="27" font-weight="bold" fill="#111" stroke="#111" stroke-width="1.2" text-anchor="middle" font-family="Liberation Sans, sans-serif">M</text><ellipse cx="412" cy="577" rx="32" ry="21" fill="#157ef4" stroke="#111" stroke-width="7.6"/><text transform="translate(412,589) rotate(0.25)" font-size="34" font-weight="bold" fill="#fff" text-anchor="middle" font-family="Liberation Sans, sans-serif">F</text><rect x="562.7" y="546.7" width="62.6" height="40.6" fill="#18b343" stroke="#111" stroke-width="7.6"/><text transform="translate(594,579) rotate(0.25)" font-size="34" font-weight="bold" fill="#fff" text-anchor="middle" font-family="Liberation Sans, sans-serif">C</text><ellipse cx="790" cy="571" rx="32" ry="21" fill="#157ef4" stroke="#111" stroke-width="7.6"/><text transform="translate(790,583) rotate(0.25)" font-size="34" font-weight="bold" fill="#fff" text-anchor="middle" font-family="Liberation Sans, sans-serif">H</text><ellipse cx="975" cy="572" rx="32" ry="21" fill="#ff0f2d" stroke="#111" stroke-width="7.6"/><text transform="translate(975,584) rotate(0.25)" font-size="34" font-weight="bold" fill="#fff" text-anchor="middle" font-family="Liberation Sans, sans-serif">Z</text><rect x="959.63" y="604.45" width="30.74" height="35.1" fill="#fff" fill-opacity="0.85"/><text transform="translate(975,631.72) rotate(0.25)" font-size="27" font-weight="bold" fill="#111" stroke="#111" stroke-width="1.2" text-anchor="middle" font-family="Liberation Sans, sans-serif">M</text><ellipse cx="594" cy="694" rx="32" ry="21" fill="#686868" stroke="#111" stroke-width="7.6"/><text transform="translate(594,706) rotate(0.25)" font-size="34" font-weight="bold" fill="#fff" text-anchor="middle" font-family="Liberation Sans, sans-serif">Q</text><rect x="223" y="356" width="44" height="44" fill="#ff0f2d"/><text transform="translate(245,384) rotate(0.25)" font-size="17" font-weight="bold" fill="#fff" text-anchor="middle" font-family="Liberation Sans, sans-serif">3</text><rect x="396" y="351" width="44" height="44" fill="#157ef4"/><text transform="translate(418,379) rotate(0.25)" font-size="17" font-weight="bold" fill="#fff" text-anchor="middle" font-family="Liberation Sans, sans-serif">2</text><rect x="576" y="323" width="44" height="44" fill="#18b343"/><text transform="translate(598,351) rotate(0.25)" font-size="17" font-weight="bold" fill="#fff" text-anchor="middle" font-family="Liberation Sans, sans-serif">1</text><rect x="763" y="345" width="44" height="44" fill="#157ef4"/><text transform="translate(785,373) rotate(0.25)" font-size="17" font-weight="bold" fill="#fff" text-anchor="middle" font-family="Liberation Sans, sans-serif">2</text><rect x="941" y="346" width="44" height="44" fill="#ff0f2d"/><text transform="translate(963,374) rotate(0.25)" font-size="17" font-weight="bold" fill="#fff" text-anchor="middle" font-family="Liberation Sans, sans-serif">3</text><rect x="800" y="692" width="157" height="126" fill="#6c6c6c"/><text transform="translate(878.5,720) rotate(0.25)" font-size="15.5" font-weight="bold" fill="#fff" stroke="#fff" stroke-width="0.3" text-anchor="middle" font-family="Liberation Sans, sans-serif">X = HITCH</text><text transform="translate(878.5,741) rotate(0.25)" font-size="15.5" font-weight="bold" fill="#fff" stroke="#fff" stroke-width="0.3" text-anchor="middle" font-family="Liberation Sans, sans-serif">F = HITCH</text><text transform="translate(878.5,762) rotate(0.25)" font-size="15.5" font-weight="bold" fill="#fff" stroke="#fff" stroke-width="0.3" text-anchor="middle" font-family="Liberation Sans, sans-serif">C = HITCH READ</text><text transform="translate(878.5,783) rotate(0.25)" font-size="15.5" font-weight="bold" fill="#fff" stroke="#fff" stroke-width="0.3" text-anchor="middle" font-family="Liberation Sans, sans-serif">H = HITCH</text><text transform="translate(878.5,804) rotate(0.25)" font-size="15.5" font-weight="bold" fill="#fff" stroke="#fff" stroke-width="0.3" text-anchor="middle" font-family="Liberation Sans, sans-serif">Z = HITCH</text></g><path d="M657.7,298.7H1130.1M657.7,492.4H1130.1" stroke="#54585b" stroke-width="1.25" fill="none"/><path d="M893.9,105.5V685.31" stroke="#777b7e" stroke-width="1.6" fill="none"/><path d="M657.7,105.5V685.31M1130.1,105.5V685.31" stroke="#6e7275" stroke-width="1.4" fill="none"/><path d="M656.95,105.5H1130.85M656.95,685.31H1130.85" stroke="#3a3e41" stroke-width="1.2" fill="none"/></g>
</svg>
</body></html>
